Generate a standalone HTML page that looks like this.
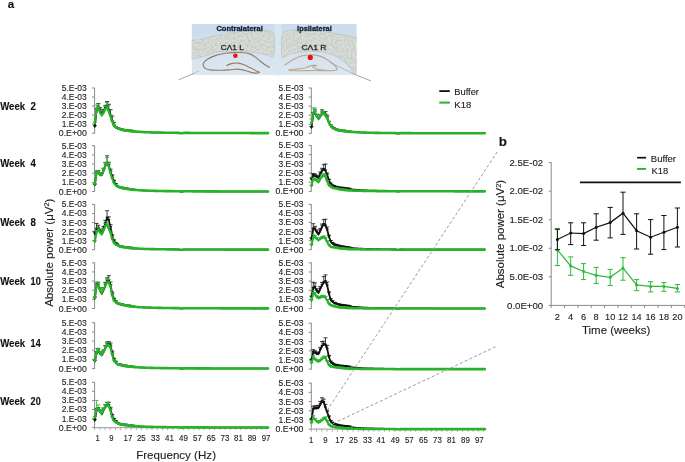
<!DOCTYPE html>
<html><head><meta charset="utf-8"><style>
html,body{margin:0;padding:0;background:#fff;}
svg{display:block;font-family:"Liberation Sans",sans-serif;filter:blur(0.35px);}

</style></head><body>
<svg width="685" height="462" viewBox="0 0 685 462">
<rect width="685" height="462" fill="#fff"/>
<defs><clipPath id="bclip"><rect x="191.6" y="24" width="165.2" height="51.3"/></clipPath><linearGradient id="bgg" x1="0" y1="0" x2="0" y2="1"><stop offset="0" stop-color="#c9dbed"/><stop offset="0.55" stop-color="#d3e2ef"/><stop offset="1" stop-color="#dde8f1"/></linearGradient><filter id="bblur" x="-5%" y="-5%" width="110%" height="110%"><feGaussianBlur stdDeviation="0.4"/></filter><filter id="noise" x="0" y="0" width="100%" height="100%"><feTurbulence type="fractalNoise" baseFrequency="0.45" numOctaves="2" seed="5" result="n"/><feColorMatrix in="n" type="matrix" values="1.0 0 0 0 0.28  1.0 0 0 0 0.3  1.0 0 0 0 0.27  0 0 0 0 0.3" result="m"/><feComposite in="m" in2="SourceGraphic" operator="in" result="c"/><feMerge><feMergeNode in="SourceGraphic"/><feMergeNode in="c"/></feMerge></filter></defs>
<g clip-path="url(#bclip)"><g filter="url(#bblur)">
<rect x="191.6" y="24" width="165.2" height="51.3" fill="url(#bgg)"/>

<rect x="274.5" y="24" width="7" height="52" fill="#d8e6f0"/>
<path filter="url(#noise)" d="M190.00,42.30 C191.67,39.22 195.92,40.85 200.00,39.80 C204.08,38.75 210.00,37.08 214.50,36.00 C219.00,34.92 222.92,34.00 227.00,33.30 C231.08,32.60 235.00,32.18 239.00,31.80 C243.00,31.42 246.90,31.20 251.00,31.00 C255.10,30.80 260.52,30.58 263.60,30.60 C266.68,30.62 267.97,30.78 269.50,31.10 C271.03,31.42 271.98,31.77 272.80,32.50 C273.62,33.23 274.13,33.42 274.40,35.50 C274.67,37.58 274.43,42.08 274.40,45.00 C274.37,47.92 274.40,51.03 274.20,53.00 C274.00,54.97 273.82,56.20 273.20,56.80 C272.58,57.40 271.70,56.93 270.50,56.60 C269.30,56.27 267.70,55.32 266.00,54.80 C264.30,54.28 262.47,53.93 260.30,53.50 C258.13,53.07 255.22,52.50 253.00,52.20 C250.78,51.90 249.17,51.83 247.00,51.70 C244.83,51.57 242.50,51.50 240.00,51.40 C237.50,51.30 234.63,51.12 232.00,51.10 C229.37,51.08 226.53,51.15 224.20,51.30 C221.87,51.45 219.95,51.68 218.00,52.00 C216.05,52.32 214.22,52.67 212.50,53.20 C210.78,53.73 209.62,54.53 207.70,55.20 C205.78,55.87 203.12,56.72 201.00,57.20 C198.88,57.68 196.83,57.92 195.00,58.10 C193.17,58.28 190.83,60.93 190.00,58.30 C189.17,55.67 188.33,45.38 190.00,42.30Z" fill="#c9cfc9" stroke="#a9b1aa" stroke-width="0.6"/>
<path filter="url(#noise)" d="M281.40,40.00 C281.58,37.75 281.68,35.90 282.40,34.50 C283.12,33.10 284.10,32.32 285.70,31.60 C287.30,30.88 289.55,30.50 292.00,30.20 C294.45,29.90 297.07,29.77 300.40,29.80 C303.73,29.83 307.90,30.07 312.00,30.40 C316.10,30.73 321.00,31.27 325.00,31.80 C329.00,32.33 332.33,32.98 336.00,33.60 C339.67,34.22 344.17,34.88 347.00,35.50 C349.83,36.12 351.00,36.58 353.00,37.30 C355.00,38.02 358.00,33.18 359.00,39.80 C360.00,46.42 359.67,70.80 359.00,77.00 C358.33,83.20 356.07,77.83 355.00,77.00 C353.93,76.17 353.37,73.43 352.60,72.00 C351.83,70.57 351.33,69.68 350.40,68.40 C349.47,67.12 348.17,65.47 347.00,64.30 C345.83,63.13 344.82,62.45 343.40,61.40 C341.98,60.35 340.07,58.98 338.50,58.00 C336.93,57.02 335.58,56.25 334.00,55.50 C332.42,54.75 330.55,53.98 329.00,53.50 C327.45,53.02 326.45,52.92 324.70,52.60 C322.95,52.28 320.45,51.80 318.50,51.60 C316.55,51.40 314.92,51.40 313.00,51.40 C311.08,51.40 308.93,51.50 307.00,51.60 C305.07,51.70 303.40,51.77 301.40,52.00 C299.40,52.23 296.95,52.62 295.00,53.00 C293.05,53.38 291.28,53.80 289.70,54.30 C288.12,54.80 286.67,55.45 285.50,56.00 C284.33,56.55 283.37,57.77 282.70,57.60 C282.03,57.43 281.73,56.60 281.50,55.00 C281.27,53.40 281.32,50.50 281.30,48.00 C281.28,45.50 281.22,42.25 281.40,40.00Z" fill="#c9cfc9" stroke="#a9b1aa" stroke-width="0.6"/>
<path d="M269.70,67.40 C269.12,67.10 267.75,66.63 266.20,65.60 C264.65,64.57 262.33,62.70 260.40,61.20 C258.47,59.70 256.35,57.82 254.60,56.60 C252.85,55.38 251.67,54.55 249.90,53.90 C248.13,53.25 246.73,52.92 244.00,52.70 C241.27,52.48 236.60,52.50 233.50,52.60 C230.40,52.70 228.32,52.83 225.40,53.30 C222.48,53.77 218.93,54.45 216.00,55.40 C213.07,56.35 209.90,57.67 207.80,59.00 C205.70,60.33 204.03,62.03 203.40,63.40 C202.77,64.77 203.40,66.22 204.00,67.20 C204.60,68.18 205.58,68.82 207.00,69.30 C208.42,69.78 210.02,69.95 212.50,70.10 C214.98,70.25 218.98,70.27 221.90,70.20 C224.82,70.13 227.65,69.87 230.00,69.70 C232.35,69.53 234.05,69.22 236.00,69.20 C237.95,69.18 239.77,69.27 241.70,69.60 C243.63,69.93 245.65,70.65 247.60,71.20 C249.55,71.75 251.47,72.67 253.40,72.90 C255.33,73.13 258.62,72.88 259.20,72.60 C259.78,72.32 258.45,72.03 256.90,71.20 C255.35,70.37 252.05,68.67 249.90,67.60 C247.75,66.53 245.95,65.55 244.00,64.80 C242.05,64.05 240.13,63.33 238.20,63.10 C236.27,62.87 234.35,62.98 232.40,63.40 C230.45,63.82 227.48,65.23 226.50,65.60" fill="none" stroke="#977b60" stroke-width="1.15"/>
<path d="M284.50,65.20 C285.75,64.37 289.58,61.62 292.00,60.20 C294.42,58.78 296.85,57.52 299.00,56.70 C301.15,55.88 302.57,55.60 304.90,55.30 C307.23,55.00 310.48,54.77 313.00,54.90 C315.52,55.03 317.67,55.32 320.00,56.10 C322.33,56.88 324.85,58.33 327.00,59.60 C329.15,60.87 331.33,62.37 332.90,63.70 C334.47,65.03 335.95,66.52 336.40,67.60 C336.85,68.68 337.33,69.68 335.60,70.20 C333.87,70.72 329.43,70.65 326.00,70.70 C322.57,70.75 318.83,70.50 315.00,70.50 C311.17,70.50 307.00,70.67 303.00,70.70 C299.00,70.73 293.25,70.85 291.00,70.70 C288.75,70.55 288.33,70.10 289.50,69.80 C290.67,69.50 295.42,69.20 298.00,68.90 C300.58,68.60 303.17,68.42 305.00,68.00 C306.83,67.58 307.67,66.83 309.00,66.40 C310.33,65.97 311.75,65.53 313.00,65.40 C314.25,65.27 316.53,65.33 316.50,65.60 C316.47,65.87 312.55,66.38 312.80,67.00 C313.05,67.62 315.80,68.75 318.00,69.30 C320.20,69.85 324.67,70.13 326.00,70.30" fill="none" stroke="#bfa890" stroke-width="1.2"/>
<circle cx="235.4" cy="55.8" r="2.3" fill="#e8141c"/>
<circle cx="310.3" cy="57.4" r="2.6" fill="#ec1018"/>
<line x1="330" y1="62.5" x2="357" y2="75.4" stroke="#9aa6ae" stroke-width="0.7"/>
<line x1="191" y1="74.4" x2="199" y2="71" stroke="#a4b0b8" stroke-width="0.7"/>
<text x="216.4" y="30.6" font-size="6.8" font-weight="bold" fill="#17213a" stroke="#17213a" stroke-width="0.3" textLength="46.4" lengthAdjust="spacingAndGlyphs">Contralateral</text>
<text x="297.1" y="30.5" font-size="6.8" font-weight="bold" fill="#17213a" stroke="#17213a" stroke-width="0.3" textLength="34.6" lengthAdjust="spacingAndGlyphs">Ipsilateral</text>
<text x="220.8" y="49.7" font-size="6.6" fill="#262a2e" stroke="#262a2e" stroke-width="0.28" textLength="23.0" lengthAdjust="spacingAndGlyphs">CΛ1 L</text>
<text x="301.4" y="49.7" font-size="6.6" fill="#262a2e" stroke="#262a2e" stroke-width="0.28" textLength="25.1" lengthAdjust="spacingAndGlyphs">CΛ1 R</text>
</g></g>
<line x1="94.60" y1="87.70" x2="94.60" y2="133.50" stroke="#8a8a8a" stroke-width="1"/>
<line x1="92.00" y1="133.20" x2="94.60" y2="133.20" stroke="#8a8a8a" stroke-width="1"/>
<text x="86.80" y="136.20" font-size="8.5" text-anchor="end" textLength="28.0" lengthAdjust="spacingAndGlyphs" fill="#222" stroke="#222" stroke-width="0.12">0.E+00</text>
<line x1="92.00" y1="124.16" x2="94.60" y2="124.16" stroke="#8a8a8a" stroke-width="1"/>
<text x="86.80" y="127.16" font-size="8.5" text-anchor="end" textLength="25.0" lengthAdjust="spacingAndGlyphs" fill="#222" stroke="#222" stroke-width="0.12">1.E-03</text>
<line x1="92.00" y1="115.12" x2="94.60" y2="115.12" stroke="#8a8a8a" stroke-width="1"/>
<text x="86.80" y="118.12" font-size="8.5" text-anchor="end" textLength="25.0" lengthAdjust="spacingAndGlyphs" fill="#222" stroke="#222" stroke-width="0.12">2.E-03</text>
<line x1="92.00" y1="106.08" x2="94.60" y2="106.08" stroke="#8a8a8a" stroke-width="1"/>
<text x="86.80" y="109.08" font-size="8.5" text-anchor="end" textLength="25.0" lengthAdjust="spacingAndGlyphs" fill="#222" stroke="#222" stroke-width="0.12">3.E-03</text>
<line x1="92.00" y1="97.04" x2="94.60" y2="97.04" stroke="#8a8a8a" stroke-width="1"/>
<text x="86.80" y="100.04" font-size="8.5" text-anchor="end" textLength="25.0" lengthAdjust="spacingAndGlyphs" fill="#222" stroke="#222" stroke-width="0.12">4.E-03</text>
<line x1="92.00" y1="88.00" x2="94.60" y2="88.00" stroke="#8a8a8a" stroke-width="1"/>
<text x="86.80" y="91.00" font-size="8.5" text-anchor="end" textLength="25.0" lengthAdjust="spacingAndGlyphs" fill="#222" stroke="#222" stroke-width="0.12">5.E-03</text>
<polyline points="94.80,126.51 96.55,110.99 98.30,106.70 100.05,110.41 101.80,114.18 103.55,111.80 105.30,108.29 107.05,106.95 108.80,110.65 110.55,115.70 112.30,121.29 114.05,125.52 115.80,127.35 117.55,128.28 119.30,128.95 121.05,129.43 122.80,129.91 124.55,130.29" fill="none" stroke="#111" stroke-width="1.8" stroke-linejoin="round" stroke-linecap="round"/>
<polyline points="121.05,129.43 122.80,129.91 124.55,130.29 126.30,130.50 128.05,130.70 129.80,130.91 131.55,131.13 133.30,131.34 135.05,131.51 136.80,131.66 138.55,131.80 140.30,131.91 142.05,132.02 143.80,132.11 145.55,132.19 147.30,132.26 149.05,132.32 150.80,132.38 152.55,132.43 154.30,132.48 156.05,132.52 157.80,132.56 159.55,132.60 161.30,132.63 163.05,132.66 164.80,132.69 166.55,132.71 168.30,132.74 170.05,132.76 171.80,132.78 173.55,132.80 175.30,132.81 177.05,132.83 178.80,132.85 180.55,133.20 182.30,133.20 184.05,132.88 185.80,132.90 187.55,132.91 189.30,132.92 191.05,132.93 192.80,132.94 194.55,132.94 196.30,132.95 198.05,132.96 199.80,132.97 201.55,132.97 203.30,132.98 205.05,132.99 206.80,132.99 208.55,133.00 210.30,133.00 212.05,133.01 213.80,133.01 215.55,133.02 217.30,133.02 219.05,133.03 220.80,133.03 222.55,133.03 224.30,133.04 226.05,133.04 227.80,133.04 229.55,133.05 231.30,133.05 233.05,133.05 234.80,133.05 236.55,133.06 238.30,133.06 240.05,133.06 241.80,133.06 243.55,133.07 245.30,133.07 247.05,133.07 248.80,133.07 250.55,133.08 252.30,133.08 254.05,133.08 255.80,133.08 257.55,133.08 259.30,133.08 261.05,133.09 262.80,133.09 264.55,133.09 266.30,133.09 268.05,133.09" fill="none" stroke="#111" stroke-width="1.5" stroke-linejoin="round" stroke-linecap="round"/>
<line x1="94.80" y1="126.51" x2="94.80" y2="125.71" stroke="#111" stroke-width="0.8"/>
<line x1="92.80" y1="125.71" x2="96.80" y2="125.71" stroke="#111" stroke-width="0.8"/>
<line x1="96.55" y1="110.99" x2="96.55" y2="108.33" stroke="#111" stroke-width="0.8"/>
<line x1="94.55" y1="108.33" x2="98.55" y2="108.33" stroke="#111" stroke-width="0.8"/>
<line x1="98.30" y1="106.70" x2="98.30" y2="103.52" stroke="#111" stroke-width="0.8"/>
<line x1="96.30" y1="103.52" x2="100.30" y2="103.52" stroke="#111" stroke-width="0.8"/>
<line x1="100.05" y1="110.41" x2="100.05" y2="107.67" stroke="#111" stroke-width="0.8"/>
<line x1="98.05" y1="107.67" x2="102.05" y2="107.67" stroke="#111" stroke-width="0.8"/>
<line x1="101.80" y1="114.18" x2="101.80" y2="111.90" stroke="#111" stroke-width="0.8"/>
<line x1="99.80" y1="111.90" x2="103.80" y2="111.90" stroke="#111" stroke-width="0.8"/>
<line x1="103.55" y1="111.80" x2="103.55" y2="109.24" stroke="#111" stroke-width="0.8"/>
<line x1="101.55" y1="109.24" x2="105.55" y2="109.24" stroke="#111" stroke-width="0.8"/>
<line x1="105.30" y1="108.29" x2="105.30" y2="105.31" stroke="#111" stroke-width="0.8"/>
<line x1="103.30" y1="105.31" x2="107.30" y2="105.31" stroke="#111" stroke-width="0.8"/>
<line x1="107.05" y1="106.95" x2="107.05" y2="101.56" stroke="#111" stroke-width="0.8"/>
<line x1="105.05" y1="101.56" x2="109.05" y2="101.56" stroke="#111" stroke-width="0.8"/>
<line x1="108.80" y1="110.65" x2="108.80" y2="104.27" stroke="#111" stroke-width="0.8"/>
<line x1="106.80" y1="104.27" x2="110.80" y2="104.27" stroke="#111" stroke-width="0.8"/>
<line x1="110.55" y1="115.70" x2="110.55" y2="109.70" stroke="#111" stroke-width="0.8"/>
<line x1="108.55" y1="109.70" x2="112.55" y2="109.70" stroke="#111" stroke-width="0.8"/>
<line x1="112.30" y1="121.29" x2="112.30" y2="116.02" stroke="#111" stroke-width="0.8"/>
<line x1="110.30" y1="116.02" x2="114.30" y2="116.02" stroke="#111" stroke-width="0.8"/>
<line x1="114.05" y1="125.52" x2="114.05" y2="122.35" stroke="#111" stroke-width="0.8"/>
<line x1="112.05" y1="122.35" x2="116.05" y2="122.35" stroke="#111" stroke-width="0.8"/>
<line x1="115.80" y1="127.35" x2="115.80" y2="126.65" stroke="#111" stroke-width="0.8"/>
<line x1="113.80" y1="126.65" x2="117.80" y2="126.65" stroke="#111" stroke-width="0.8"/>
<line x1="117.55" y1="128.28" x2="117.55" y2="127.69" stroke="#111" stroke-width="0.8"/>
<line x1="115.55" y1="127.69" x2="119.55" y2="127.69" stroke="#111" stroke-width="0.8"/>
<path d="M93.10,125.21h3.4l-1.7,2.9z" fill="#111"/>
<path d="M94.85,109.69h3.4l-1.7,2.9z" fill="#111"/>
<path d="M96.60,105.40h3.4l-1.7,2.9z" fill="#111"/>
<path d="M98.35,109.11h3.4l-1.7,2.9z" fill="#111"/>
<path d="M100.10,112.88h3.4l-1.7,2.9z" fill="#111"/>
<path d="M101.85,110.50h3.4l-1.7,2.9z" fill="#111"/>
<path d="M103.60,106.99h3.4l-1.7,2.9z" fill="#111"/>
<path d="M105.35,105.65h3.4l-1.7,2.9z" fill="#111"/>
<path d="M107.10,109.35h3.4l-1.7,2.9z" fill="#111"/>
<path d="M108.85,114.40h3.4l-1.7,2.9z" fill="#111"/>
<path d="M110.60,119.99h3.4l-1.7,2.9z" fill="#111"/>
<path d="M112.35,124.22h3.4l-1.7,2.9z" fill="#111"/>
<path d="M114.10,126.05h3.4l-1.7,2.9z" fill="#111"/>
<path d="M115.85,126.98h3.4l-1.7,2.9z" fill="#111"/>
<path d="M117.60,127.65h3.4l-1.7,2.9z" fill="#111"/>
<path d="M119.35,128.13h3.4l-1.7,2.9z" fill="#111"/>
<path d="M121.10,128.61h3.4l-1.7,2.9z" fill="#111"/>
<path d="M122.85,128.99h3.4l-1.7,2.9z" fill="#111"/>
<path d="M124.60,129.20h3.4l-1.7,2.9z" fill="#111"/>
<path d="M126.35,129.40h3.4l-1.7,2.9z" fill="#111"/>
<path d="M128.10,129.61h3.4l-1.7,2.9z" fill="#111"/>
<path d="M129.85,129.83h3.4l-1.7,2.9z" fill="#111"/>
<path d="M131.60,130.04h3.4l-1.7,2.9z" fill="#111"/>
<polyline points="94.80,123.26 96.55,110.45 98.30,107.10 100.05,112.75 101.80,115.44 103.55,112.98 105.30,109.24 107.05,107.74 108.80,111.56 110.55,116.61 112.30,121.98 114.05,125.74 115.80,127.35 117.55,128.28 119.30,128.95 121.05,129.43 122.80,129.91 124.55,130.29" fill="none" stroke="#27b22a" stroke-width="2.0" stroke-linejoin="round" stroke-linecap="round"/>
<polyline points="121.05,129.43 122.80,129.91 124.55,130.29 126.30,130.50 128.05,130.70 129.80,130.91 131.55,131.13 133.30,131.34 135.05,131.51 136.80,131.66 138.55,131.80 140.30,131.91 142.05,132.02 143.80,132.11 145.55,132.19 147.30,132.26 149.05,132.32 150.80,132.38 152.55,132.43 154.30,132.48 156.05,132.52 157.80,132.56 159.55,132.60 161.30,132.63 163.05,132.66 164.80,132.69 166.55,132.71 168.30,132.74 170.05,132.76 171.80,132.78 173.55,132.80 175.30,132.81 177.05,132.83 178.80,132.85 180.55,133.20 182.30,133.20 184.05,132.88 185.80,132.90 187.55,132.91 189.30,132.92 191.05,132.93 192.80,132.94 194.55,132.94 196.30,132.95 198.05,132.96 199.80,132.97 201.55,132.97 203.30,132.98 205.05,132.99 206.80,132.99 208.55,133.00 210.30,133.00 212.05,133.01 213.80,133.01 215.55,133.02 217.30,133.02 219.05,133.03 220.80,133.03 222.55,133.03 224.30,133.04 226.05,133.04 227.80,133.04 229.55,133.05 231.30,133.05 233.05,133.05 234.80,133.05 236.55,133.06 238.30,133.06 240.05,133.06 241.80,133.06 243.55,133.07 245.30,133.07 247.05,133.07 248.80,133.07 250.55,133.08 252.30,133.08 254.05,133.08 255.80,133.08 257.55,133.08 259.30,133.08 261.05,133.09 262.80,133.09 264.55,133.09 266.30,133.09 268.05,133.09" fill="none" stroke="#27b22a" stroke-width="2.6" stroke-linejoin="round" stroke-linecap="round"/>
<line x1="94.80" y1="123.26" x2="94.80" y2="122.06" stroke="#27b22a" stroke-width="0.8"/>
<line x1="92.80" y1="122.06" x2="96.80" y2="122.06" stroke="#27b22a" stroke-width="0.8"/>
<line x1="96.55" y1="110.45" x2="96.55" y2="105.18" stroke="#27b22a" stroke-width="0.8"/>
<line x1="94.55" y1="105.18" x2="98.55" y2="105.18" stroke="#27b22a" stroke-width="0.8"/>
<line x1="98.30" y1="107.10" x2="98.30" y2="103.96" stroke="#27b22a" stroke-width="0.8"/>
<line x1="96.30" y1="103.96" x2="100.30" y2="103.96" stroke="#27b22a" stroke-width="0.8"/>
<line x1="100.05" y1="112.75" x2="100.05" y2="110.30" stroke="#27b22a" stroke-width="0.8"/>
<line x1="98.05" y1="110.30" x2="102.05" y2="110.30" stroke="#27b22a" stroke-width="0.8"/>
<line x1="101.80" y1="115.44" x2="101.80" y2="113.31" stroke="#27b22a" stroke-width="0.8"/>
<line x1="99.80" y1="113.31" x2="103.80" y2="113.31" stroke="#27b22a" stroke-width="0.8"/>
<line x1="103.55" y1="112.98" x2="103.55" y2="110.55" stroke="#27b22a" stroke-width="0.8"/>
<line x1="101.55" y1="110.55" x2="105.55" y2="110.55" stroke="#27b22a" stroke-width="0.8"/>
<line x1="105.30" y1="109.24" x2="105.30" y2="106.37" stroke="#27b22a" stroke-width="0.8"/>
<line x1="103.30" y1="106.37" x2="107.30" y2="106.37" stroke="#27b22a" stroke-width="0.8"/>
<line x1="107.05" y1="107.74" x2="107.05" y2="102.46" stroke="#27b22a" stroke-width="0.8"/>
<line x1="105.05" y1="102.46" x2="109.05" y2="102.46" stroke="#27b22a" stroke-width="0.8"/>
<line x1="108.80" y1="111.56" x2="108.80" y2="105.18" stroke="#27b22a" stroke-width="0.8"/>
<line x1="106.80" y1="105.18" x2="110.80" y2="105.18" stroke="#27b22a" stroke-width="0.8"/>
<line x1="110.55" y1="116.61" x2="110.55" y2="114.62" stroke="#27b22a" stroke-width="0.8"/>
<line x1="108.55" y1="114.62" x2="112.55" y2="114.62" stroke="#27b22a" stroke-width="0.8"/>
<line x1="112.30" y1="121.98" x2="112.30" y2="120.63" stroke="#27b22a" stroke-width="0.8"/>
<line x1="110.30" y1="120.63" x2="114.30" y2="120.63" stroke="#27b22a" stroke-width="0.8"/>
<line x1="114.05" y1="125.74" x2="114.05" y2="124.85" stroke="#27b22a" stroke-width="0.8"/>
<line x1="112.05" y1="124.85" x2="116.05" y2="124.85" stroke="#27b22a" stroke-width="0.8"/>
<line x1="115.80" y1="127.35" x2="115.80" y2="126.65" stroke="#27b22a" stroke-width="0.8"/>
<line x1="113.80" y1="126.65" x2="117.80" y2="126.65" stroke="#27b22a" stroke-width="0.8"/>
<line x1="117.55" y1="128.28" x2="117.55" y2="127.69" stroke="#27b22a" stroke-width="0.8"/>
<line x1="115.55" y1="127.69" x2="119.55" y2="127.69" stroke="#27b22a" stroke-width="0.8"/>
<path d="M93.10,121.96h3.4l-1.7,2.9z" fill="#27b22a"/>
<path d="M94.85,109.15h3.4l-1.7,2.9z" fill="#27b22a"/>
<path d="M96.60,105.80h3.4l-1.7,2.9z" fill="#27b22a"/>
<path d="M98.35,111.45h3.4l-1.7,2.9z" fill="#27b22a"/>
<path d="M100.10,114.14h3.4l-1.7,2.9z" fill="#27b22a"/>
<path d="M101.85,111.68h3.4l-1.7,2.9z" fill="#27b22a"/>
<path d="M103.60,107.94h3.4l-1.7,2.9z" fill="#27b22a"/>
<path d="M105.35,106.44h3.4l-1.7,2.9z" fill="#27b22a"/>
<path d="M107.10,110.26h3.4l-1.7,2.9z" fill="#27b22a"/>
<path d="M108.85,115.31h3.4l-1.7,2.9z" fill="#27b22a"/>
<path d="M110.60,120.68h3.4l-1.7,2.9z" fill="#27b22a"/>
<path d="M112.35,124.44h3.4l-1.7,2.9z" fill="#27b22a"/>
<path d="M114.10,126.05h3.4l-1.7,2.9z" fill="#27b22a"/>
<path d="M115.85,126.98h3.4l-1.7,2.9z" fill="#27b22a"/>
<path d="M117.60,127.65h3.4l-1.7,2.9z" fill="#27b22a"/>
<path d="M119.35,128.13h3.4l-1.7,2.9z" fill="#27b22a"/>
<path d="M121.10,128.61h3.4l-1.7,2.9z" fill="#27b22a"/>
<path d="M122.85,128.99h3.4l-1.7,2.9z" fill="#27b22a"/>
<path d="M124.60,129.20h3.4l-1.7,2.9z" fill="#27b22a"/>
<path d="M126.35,129.40h3.4l-1.7,2.9z" fill="#27b22a"/>
<path d="M128.10,129.61h3.4l-1.7,2.9z" fill="#27b22a"/>
<path d="M129.85,129.83h3.4l-1.7,2.9z" fill="#27b22a"/>
<path d="M131.60,130.04h3.4l-1.7,2.9z" fill="#27b22a"/>
<line x1="311.30" y1="87.70" x2="311.30" y2="133.70" stroke="#8a8a8a" stroke-width="1"/>
<line x1="308.70" y1="133.40" x2="311.30" y2="133.40" stroke="#8a8a8a" stroke-width="1"/>
<text x="303.50" y="136.40" font-size="8.5" text-anchor="end" textLength="28.0" lengthAdjust="spacingAndGlyphs" fill="#222" stroke="#222" stroke-width="0.12">0.E+00</text>
<line x1="308.70" y1="124.32" x2="311.30" y2="124.32" stroke="#8a8a8a" stroke-width="1"/>
<text x="303.50" y="127.32" font-size="8.5" text-anchor="end" textLength="25.0" lengthAdjust="spacingAndGlyphs" fill="#222" stroke="#222" stroke-width="0.12">1.E-03</text>
<line x1="308.70" y1="115.24" x2="311.30" y2="115.24" stroke="#8a8a8a" stroke-width="1"/>
<text x="303.50" y="118.24" font-size="8.5" text-anchor="end" textLength="25.0" lengthAdjust="spacingAndGlyphs" fill="#222" stroke="#222" stroke-width="0.12">2.E-03</text>
<line x1="308.70" y1="106.16" x2="311.30" y2="106.16" stroke="#8a8a8a" stroke-width="1"/>
<text x="303.50" y="109.16" font-size="8.5" text-anchor="end" textLength="25.0" lengthAdjust="spacingAndGlyphs" fill="#222" stroke="#222" stroke-width="0.12">3.E-03</text>
<line x1="308.70" y1="97.08" x2="311.30" y2="97.08" stroke="#8a8a8a" stroke-width="1"/>
<text x="303.50" y="100.08" font-size="8.5" text-anchor="end" textLength="25.0" lengthAdjust="spacingAndGlyphs" fill="#222" stroke="#222" stroke-width="0.12">4.E-03</text>
<line x1="308.70" y1="88.00" x2="311.30" y2="88.00" stroke="#8a8a8a" stroke-width="1"/>
<text x="303.50" y="91.00" font-size="8.5" text-anchor="end" textLength="25.0" lengthAdjust="spacingAndGlyphs" fill="#222" stroke="#222" stroke-width="0.12">5.E-03</text>
<polyline points="311.50,127.41 313.25,114.62 315.00,112.46 316.75,116.32 318.50,118.83 320.25,116.55 322.00,113.78 323.75,113.69 325.50,115.54 327.25,118.25 329.00,122.66 330.75,125.93 332.50,127.86 334.25,128.74 336.00,129.63 337.75,130.04 339.50,130.43 341.25,130.75" fill="none" stroke="#111" stroke-width="1.8" stroke-linejoin="round" stroke-linecap="round"/>
<polyline points="337.75,130.04 339.50,130.43 341.25,130.75 343.00,130.96 344.75,131.16 346.50,131.37 348.25,131.57 350.00,131.75 351.75,131.91 353.50,132.04 355.25,132.16 357.00,132.26 358.75,132.35 360.50,132.43 362.25,132.50 364.00,132.57 365.75,132.62 367.50,132.68 369.25,132.72 371.00,132.76 372.75,132.80 374.50,132.84 376.25,132.87 378.00,132.90 379.75,132.92 381.50,132.95 383.25,132.97 385.00,132.99 386.75,133.01 388.50,133.03 390.25,133.04 392.00,133.06 393.75,133.07 395.50,133.09 397.25,133.40 399.00,133.40 400.75,133.12 402.50,133.13 404.25,133.14 406.00,133.15 407.75,133.16 409.50,133.17 411.25,133.17 413.00,133.18 414.75,133.19 416.50,133.19 418.25,133.20 420.00,133.21 421.75,133.21 423.50,133.22 425.25,133.22 427.00,133.23 428.75,133.23 430.50,133.23 432.25,133.24 434.00,133.24 435.75,133.25 437.50,133.25 439.25,133.25 441.00,133.26 442.75,133.26 444.50,133.26 446.25,133.26 448.00,133.27 449.75,133.27 451.50,133.27 453.25,133.27 455.00,133.28 456.75,133.28 458.50,133.28 460.25,133.28 462.00,133.28 463.75,133.29 465.50,133.29 467.25,133.29 469.00,133.29 470.75,133.29 472.50,133.29 474.25,133.30 476.00,133.30 477.75,133.30 479.50,133.30 481.25,133.30 483.00,133.30 484.75,133.30" fill="none" stroke="#111" stroke-width="1.5" stroke-linejoin="round" stroke-linecap="round"/>
<line x1="311.50" y1="127.41" x2="311.50" y2="126.69" stroke="#111" stroke-width="0.8"/>
<line x1="309.50" y1="126.69" x2="313.50" y2="126.69" stroke="#111" stroke-width="0.8"/>
<line x1="313.25" y1="114.62" x2="313.25" y2="112.37" stroke="#111" stroke-width="0.8"/>
<line x1="311.25" y1="112.37" x2="315.25" y2="112.37" stroke="#111" stroke-width="0.8"/>
<line x1="315.00" y1="112.46" x2="315.00" y2="109.95" stroke="#111" stroke-width="0.8"/>
<line x1="313.00" y1="109.95" x2="317.00" y2="109.95" stroke="#111" stroke-width="0.8"/>
<line x1="316.75" y1="116.32" x2="316.75" y2="114.28" stroke="#111" stroke-width="0.8"/>
<line x1="314.75" y1="114.28" x2="318.75" y2="114.28" stroke="#111" stroke-width="0.8"/>
<line x1="318.50" y1="118.83" x2="318.50" y2="117.08" stroke="#111" stroke-width="0.8"/>
<line x1="316.50" y1="117.08" x2="320.50" y2="117.08" stroke="#111" stroke-width="0.8"/>
<line x1="320.25" y1="116.55" x2="320.25" y2="114.53" stroke="#111" stroke-width="0.8"/>
<line x1="318.25" y1="114.53" x2="322.25" y2="114.53" stroke="#111" stroke-width="0.8"/>
<line x1="322.00" y1="113.78" x2="322.00" y2="109.79" stroke="#111" stroke-width="0.8"/>
<line x1="320.00" y1="109.79" x2="324.00" y2="109.79" stroke="#111" stroke-width="0.8"/>
<line x1="323.75" y1="113.69" x2="323.75" y2="111.33" stroke="#111" stroke-width="0.8"/>
<line x1="321.75" y1="111.33" x2="325.75" y2="111.33" stroke="#111" stroke-width="0.8"/>
<line x1="325.50" y1="115.54" x2="325.50" y2="111.61" stroke="#111" stroke-width="0.8"/>
<line x1="323.50" y1="111.61" x2="327.50" y2="111.61" stroke="#111" stroke-width="0.8"/>
<line x1="327.25" y1="118.25" x2="327.25" y2="115.24" stroke="#111" stroke-width="0.8"/>
<line x1="325.25" y1="115.24" x2="329.25" y2="115.24" stroke="#111" stroke-width="0.8"/>
<line x1="329.00" y1="122.66" x2="329.00" y2="121.37" stroke="#111" stroke-width="0.8"/>
<line x1="327.00" y1="121.37" x2="331.00" y2="121.37" stroke="#111" stroke-width="0.8"/>
<line x1="330.75" y1="125.93" x2="330.75" y2="125.03" stroke="#111" stroke-width="0.8"/>
<line x1="328.75" y1="125.03" x2="332.75" y2="125.03" stroke="#111" stroke-width="0.8"/>
<line x1="332.50" y1="127.86" x2="332.50" y2="127.20" stroke="#111" stroke-width="0.8"/>
<line x1="330.50" y1="127.20" x2="334.50" y2="127.20" stroke="#111" stroke-width="0.8"/>
<line x1="334.25" y1="128.74" x2="334.25" y2="128.19" stroke="#111" stroke-width="0.8"/>
<line x1="332.25" y1="128.19" x2="336.25" y2="128.19" stroke="#111" stroke-width="0.8"/>
<path d="M309.80,126.11h3.4l-1.7,2.9z" fill="#111"/>
<path d="M311.55,113.32h3.4l-1.7,2.9z" fill="#111"/>
<path d="M313.30,111.16h3.4l-1.7,2.9z" fill="#111"/>
<path d="M315.05,115.02h3.4l-1.7,2.9z" fill="#111"/>
<path d="M316.80,117.53h3.4l-1.7,2.9z" fill="#111"/>
<path d="M318.55,115.25h3.4l-1.7,2.9z" fill="#111"/>
<path d="M320.30,112.48h3.4l-1.7,2.9z" fill="#111"/>
<path d="M322.05,112.39h3.4l-1.7,2.9z" fill="#111"/>
<path d="M323.80,114.24h3.4l-1.7,2.9z" fill="#111"/>
<path d="M325.55,116.95h3.4l-1.7,2.9z" fill="#111"/>
<path d="M327.30,121.36h3.4l-1.7,2.9z" fill="#111"/>
<path d="M329.05,124.63h3.4l-1.7,2.9z" fill="#111"/>
<path d="M330.80,126.56h3.4l-1.7,2.9z" fill="#111"/>
<path d="M332.55,127.44h3.4l-1.7,2.9z" fill="#111"/>
<path d="M334.30,128.33h3.4l-1.7,2.9z" fill="#111"/>
<path d="M336.05,128.74h3.4l-1.7,2.9z" fill="#111"/>
<path d="M337.80,129.13h3.4l-1.7,2.9z" fill="#111"/>
<path d="M339.55,129.45h3.4l-1.7,2.9z" fill="#111"/>
<path d="M341.30,129.66h3.4l-1.7,2.9z" fill="#111"/>
<path d="M343.05,129.86h3.4l-1.7,2.9z" fill="#111"/>
<path d="M344.80,130.07h3.4l-1.7,2.9z" fill="#111"/>
<path d="M346.55,130.27h3.4l-1.7,2.9z" fill="#111"/>
<path d="M348.30,130.45h3.4l-1.7,2.9z" fill="#111"/>
<polyline points="311.50,123.41 313.25,113.58 315.00,112.16 316.75,116.30 318.50,118.74 320.25,116.53 322.00,113.90 323.75,113.92 325.50,115.75 327.25,118.34 329.00,122.67 330.75,125.93 332.50,127.86 334.25,128.74 336.00,129.63 337.75,130.04 339.50,130.43 341.25,130.75" fill="none" stroke="#27b22a" stroke-width="2.0" stroke-linejoin="round" stroke-linecap="round"/>
<polyline points="337.75,130.04 339.50,130.43 341.25,130.75 343.00,130.96 344.75,131.16 346.50,131.37 348.25,131.57 350.00,131.75 351.75,131.91 353.50,132.04 355.25,132.16 357.00,132.26 358.75,132.35 360.50,132.43 362.25,132.50 364.00,132.57 365.75,132.62 367.50,132.68 369.25,132.72 371.00,132.76 372.75,132.80 374.50,132.84 376.25,132.87 378.00,132.90 379.75,132.92 381.50,132.95 383.25,132.97 385.00,132.99 386.75,133.01 388.50,133.03 390.25,133.04 392.00,133.06 393.75,133.07 395.50,133.09 397.25,133.40 399.00,133.40 400.75,133.12 402.50,133.13 404.25,133.14 406.00,133.15 407.75,133.16 409.50,133.17 411.25,133.17 413.00,133.18 414.75,133.19 416.50,133.19 418.25,133.20 420.00,133.21 421.75,133.21 423.50,133.22 425.25,133.22 427.00,133.23 428.75,133.23 430.50,133.23 432.25,133.24 434.00,133.24 435.75,133.25 437.50,133.25 439.25,133.25 441.00,133.26 442.75,133.26 444.50,133.26 446.25,133.26 448.00,133.27 449.75,133.27 451.50,133.27 453.25,133.27 455.00,133.28 456.75,133.28 458.50,133.28 460.25,133.28 462.00,133.28 463.75,133.29 465.50,133.29 467.25,133.29 469.00,133.29 470.75,133.29 472.50,133.29 474.25,133.30 476.00,133.30 477.75,133.30 479.50,133.30 481.25,133.30 483.00,133.30 484.75,133.30" fill="none" stroke="#27b22a" stroke-width="2.6" stroke-linejoin="round" stroke-linecap="round"/>
<line x1="311.50" y1="123.41" x2="311.50" y2="118.87" stroke="#27b22a" stroke-width="0.8"/>
<line x1="309.50" y1="118.87" x2="313.50" y2="118.87" stroke="#27b22a" stroke-width="0.8"/>
<line x1="313.25" y1="113.58" x2="313.25" y2="107.98" stroke="#27b22a" stroke-width="0.8"/>
<line x1="311.25" y1="107.98" x2="315.25" y2="107.98" stroke="#27b22a" stroke-width="0.8"/>
<line x1="315.00" y1="112.16" x2="315.00" y2="107.98" stroke="#27b22a" stroke-width="0.8"/>
<line x1="313.00" y1="107.98" x2="317.00" y2="107.98" stroke="#27b22a" stroke-width="0.8"/>
<line x1="316.75" y1="116.30" x2="316.75" y2="114.25" stroke="#27b22a" stroke-width="0.8"/>
<line x1="314.75" y1="114.25" x2="318.75" y2="114.25" stroke="#27b22a" stroke-width="0.8"/>
<line x1="318.50" y1="118.74" x2="318.50" y2="116.99" stroke="#27b22a" stroke-width="0.8"/>
<line x1="316.50" y1="116.99" x2="320.50" y2="116.99" stroke="#27b22a" stroke-width="0.8"/>
<line x1="320.25" y1="116.53" x2="320.25" y2="114.50" stroke="#27b22a" stroke-width="0.8"/>
<line x1="318.25" y1="114.50" x2="322.25" y2="114.50" stroke="#27b22a" stroke-width="0.8"/>
<line x1="322.00" y1="113.90" x2="322.00" y2="111.56" stroke="#27b22a" stroke-width="0.8"/>
<line x1="320.00" y1="111.56" x2="324.00" y2="111.56" stroke="#27b22a" stroke-width="0.8"/>
<line x1="323.75" y1="113.92" x2="323.75" y2="111.58" stroke="#27b22a" stroke-width="0.8"/>
<line x1="321.75" y1="111.58" x2="325.75" y2="111.58" stroke="#27b22a" stroke-width="0.8"/>
<line x1="325.50" y1="115.75" x2="325.50" y2="113.64" stroke="#27b22a" stroke-width="0.8"/>
<line x1="323.50" y1="113.64" x2="327.50" y2="113.64" stroke="#27b22a" stroke-width="0.8"/>
<line x1="327.25" y1="118.34" x2="327.25" y2="116.53" stroke="#27b22a" stroke-width="0.8"/>
<line x1="325.25" y1="116.53" x2="329.25" y2="116.53" stroke="#27b22a" stroke-width="0.8"/>
<line x1="329.00" y1="122.67" x2="329.00" y2="121.38" stroke="#27b22a" stroke-width="0.8"/>
<line x1="327.00" y1="121.38" x2="331.00" y2="121.38" stroke="#27b22a" stroke-width="0.8"/>
<line x1="330.75" y1="125.93" x2="330.75" y2="125.03" stroke="#27b22a" stroke-width="0.8"/>
<line x1="328.75" y1="125.03" x2="332.75" y2="125.03" stroke="#27b22a" stroke-width="0.8"/>
<line x1="332.50" y1="127.86" x2="332.50" y2="127.20" stroke="#27b22a" stroke-width="0.8"/>
<line x1="330.50" y1="127.20" x2="334.50" y2="127.20" stroke="#27b22a" stroke-width="0.8"/>
<line x1="334.25" y1="128.74" x2="334.25" y2="128.19" stroke="#27b22a" stroke-width="0.8"/>
<line x1="332.25" y1="128.19" x2="336.25" y2="128.19" stroke="#27b22a" stroke-width="0.8"/>
<path d="M309.80,122.11h3.4l-1.7,2.9z" fill="#27b22a"/>
<path d="M311.55,112.28h3.4l-1.7,2.9z" fill="#27b22a"/>
<path d="M313.30,110.86h3.4l-1.7,2.9z" fill="#27b22a"/>
<path d="M315.05,115.00h3.4l-1.7,2.9z" fill="#27b22a"/>
<path d="M316.80,117.44h3.4l-1.7,2.9z" fill="#27b22a"/>
<path d="M318.55,115.23h3.4l-1.7,2.9z" fill="#27b22a"/>
<path d="M320.30,112.60h3.4l-1.7,2.9z" fill="#27b22a"/>
<path d="M322.05,112.62h3.4l-1.7,2.9z" fill="#27b22a"/>
<path d="M323.80,114.45h3.4l-1.7,2.9z" fill="#27b22a"/>
<path d="M325.55,117.04h3.4l-1.7,2.9z" fill="#27b22a"/>
<path d="M327.30,121.37h3.4l-1.7,2.9z" fill="#27b22a"/>
<path d="M329.05,124.63h3.4l-1.7,2.9z" fill="#27b22a"/>
<path d="M330.80,126.56h3.4l-1.7,2.9z" fill="#27b22a"/>
<path d="M332.55,127.44h3.4l-1.7,2.9z" fill="#27b22a"/>
<path d="M334.30,128.33h3.4l-1.7,2.9z" fill="#27b22a"/>
<path d="M336.05,128.74h3.4l-1.7,2.9z" fill="#27b22a"/>
<path d="M337.80,129.13h3.4l-1.7,2.9z" fill="#27b22a"/>
<path d="M339.55,129.45h3.4l-1.7,2.9z" fill="#27b22a"/>
<path d="M341.30,129.66h3.4l-1.7,2.9z" fill="#27b22a"/>
<path d="M343.05,129.86h3.4l-1.7,2.9z" fill="#27b22a"/>
<path d="M344.80,130.07h3.4l-1.7,2.9z" fill="#27b22a"/>
<path d="M346.55,130.27h3.4l-1.7,2.9z" fill="#27b22a"/>
<path d="M348.30,130.45h3.4l-1.7,2.9z" fill="#27b22a"/>
<line x1="94.60" y1="145.40" x2="94.60" y2="191.90" stroke="#8a8a8a" stroke-width="1"/>
<line x1="92.00" y1="191.60" x2="94.60" y2="191.60" stroke="#8a8a8a" stroke-width="1"/>
<text x="86.80" y="194.60" font-size="8.5" text-anchor="end" textLength="28.0" lengthAdjust="spacingAndGlyphs" fill="#222" stroke="#222" stroke-width="0.12">0.E+00</text>
<line x1="92.00" y1="182.42" x2="94.60" y2="182.42" stroke="#8a8a8a" stroke-width="1"/>
<text x="86.80" y="185.42" font-size="8.5" text-anchor="end" textLength="25.0" lengthAdjust="spacingAndGlyphs" fill="#222" stroke="#222" stroke-width="0.12">1.E-03</text>
<line x1="92.00" y1="173.24" x2="94.60" y2="173.24" stroke="#8a8a8a" stroke-width="1"/>
<text x="86.80" y="176.24" font-size="8.5" text-anchor="end" textLength="25.0" lengthAdjust="spacingAndGlyphs" fill="#222" stroke="#222" stroke-width="0.12">2.E-03</text>
<line x1="92.00" y1="164.06" x2="94.60" y2="164.06" stroke="#8a8a8a" stroke-width="1"/>
<text x="86.80" y="167.06" font-size="8.5" text-anchor="end" textLength="25.0" lengthAdjust="spacingAndGlyphs" fill="#222" stroke="#222" stroke-width="0.12">3.E-03</text>
<line x1="92.00" y1="154.88" x2="94.60" y2="154.88" stroke="#8a8a8a" stroke-width="1"/>
<text x="86.80" y="157.88" font-size="8.5" text-anchor="end" textLength="25.0" lengthAdjust="spacingAndGlyphs" fill="#222" stroke="#222" stroke-width="0.12">4.E-03</text>
<line x1="92.00" y1="145.70" x2="94.60" y2="145.70" stroke="#8a8a8a" stroke-width="1"/>
<text x="86.80" y="148.70" font-size="8.5" text-anchor="end" textLength="25.0" lengthAdjust="spacingAndGlyphs" fill="#222" stroke="#222" stroke-width="0.12">5.E-03</text>
<polyline points="94.80,184.99 96.55,173.34 98.30,172.73 100.05,174.86 101.80,174.99 103.55,170.77 105.30,165.86 107.05,163.21 108.80,165.55 110.55,171.55 112.30,176.74 114.05,181.47 115.80,184.55 117.55,186.76 119.30,187.21 121.05,187.66 122.80,188.10 124.55,188.48" fill="none" stroke="#111" stroke-width="1.8" stroke-linejoin="round" stroke-linecap="round"/>
<polyline points="121.05,187.66 122.80,188.10 124.55,188.48 126.30,188.74 128.05,189.00 129.80,189.26 131.55,189.50 133.30,189.71 135.05,189.89 136.80,190.04 138.55,190.18 140.30,190.29 142.05,190.40 143.80,190.49 145.55,190.57 147.30,190.64 149.05,190.71 150.80,190.77 152.55,190.82 154.30,190.87 156.05,190.91 157.80,190.95 159.55,190.99 161.30,191.02 163.05,191.05 164.80,191.08 166.55,191.11 168.30,191.13 170.05,191.15 171.80,191.17 173.55,191.19 175.30,191.21 177.05,191.22 178.80,191.24 180.55,191.60 182.30,191.60 184.05,191.28 185.80,191.29 187.55,191.30 189.30,191.31 191.05,191.32 192.80,191.33 194.55,191.34 196.30,191.35 198.05,191.36 199.80,191.36 201.55,191.37 203.30,191.38 205.05,191.38 206.80,191.39 208.55,191.39 210.30,191.40 212.05,191.40 213.80,191.41 215.55,191.41 217.30,191.42 219.05,191.42 220.80,191.43 222.55,191.43 224.30,191.43 226.05,191.44 227.80,191.44 229.55,191.44 231.30,191.45 233.05,191.45 234.80,191.45 236.55,191.46 238.30,191.46 240.05,191.46 241.80,191.46 243.55,191.46 245.30,191.47 247.05,191.47 248.80,191.47 250.55,191.47 252.30,191.48 254.05,191.48 255.80,191.48 257.55,191.48 259.30,191.48 261.05,191.48 262.80,191.49 264.55,191.49 266.30,191.49 268.05,191.49" fill="none" stroke="#111" stroke-width="1.5" stroke-linejoin="round" stroke-linecap="round"/>
<line x1="94.80" y1="184.99" x2="94.80" y2="184.20" stroke="#111" stroke-width="0.8"/>
<line x1="92.80" y1="184.20" x2="96.80" y2="184.20" stroke="#111" stroke-width="0.8"/>
<line x1="96.55" y1="173.34" x2="96.55" y2="171.15" stroke="#111" stroke-width="0.8"/>
<line x1="94.55" y1="171.15" x2="98.55" y2="171.15" stroke="#111" stroke-width="0.8"/>
<line x1="98.30" y1="172.73" x2="98.30" y2="170.46" stroke="#111" stroke-width="0.8"/>
<line x1="96.30" y1="170.46" x2="100.30" y2="170.46" stroke="#111" stroke-width="0.8"/>
<line x1="100.05" y1="174.86" x2="100.05" y2="172.85" stroke="#111" stroke-width="0.8"/>
<line x1="98.05" y1="172.85" x2="102.05" y2="172.85" stroke="#111" stroke-width="0.8"/>
<line x1="101.80" y1="174.99" x2="101.80" y2="173.00" stroke="#111" stroke-width="0.8"/>
<line x1="99.80" y1="173.00" x2="103.80" y2="173.00" stroke="#111" stroke-width="0.8"/>
<line x1="103.55" y1="170.77" x2="103.55" y2="168.27" stroke="#111" stroke-width="0.8"/>
<line x1="101.55" y1="168.27" x2="105.55" y2="168.27" stroke="#111" stroke-width="0.8"/>
<line x1="105.30" y1="165.86" x2="105.30" y2="162.77" stroke="#111" stroke-width="0.8"/>
<line x1="103.30" y1="162.77" x2="107.30" y2="162.77" stroke="#111" stroke-width="0.8"/>
<line x1="107.05" y1="163.21" x2="107.05" y2="155.80" stroke="#111" stroke-width="0.8"/>
<line x1="105.05" y1="155.80" x2="109.05" y2="155.80" stroke="#111" stroke-width="0.8"/>
<line x1="108.80" y1="165.55" x2="108.80" y2="162.22" stroke="#111" stroke-width="0.8"/>
<line x1="106.80" y1="162.22" x2="110.80" y2="162.22" stroke="#111" stroke-width="0.8"/>
<line x1="110.55" y1="171.55" x2="110.55" y2="169.14" stroke="#111" stroke-width="0.8"/>
<line x1="108.55" y1="169.14" x2="112.55" y2="169.14" stroke="#111" stroke-width="0.8"/>
<line x1="112.30" y1="176.74" x2="112.30" y2="174.96" stroke="#111" stroke-width="0.8"/>
<line x1="110.30" y1="174.96" x2="114.30" y2="174.96" stroke="#111" stroke-width="0.8"/>
<line x1="114.05" y1="181.47" x2="114.05" y2="180.25" stroke="#111" stroke-width="0.8"/>
<line x1="112.05" y1="180.25" x2="116.05" y2="180.25" stroke="#111" stroke-width="0.8"/>
<line x1="115.80" y1="184.55" x2="115.80" y2="183.71" stroke="#111" stroke-width="0.8"/>
<line x1="113.80" y1="183.71" x2="117.80" y2="183.71" stroke="#111" stroke-width="0.8"/>
<line x1="117.55" y1="186.76" x2="117.55" y2="186.18" stroke="#111" stroke-width="0.8"/>
<line x1="115.55" y1="186.18" x2="119.55" y2="186.18" stroke="#111" stroke-width="0.8"/>
<path d="M93.10,183.69h3.4l-1.7,2.9z" fill="#111"/>
<path d="M94.85,172.04h3.4l-1.7,2.9z" fill="#111"/>
<path d="M96.60,171.43h3.4l-1.7,2.9z" fill="#111"/>
<path d="M98.35,173.56h3.4l-1.7,2.9z" fill="#111"/>
<path d="M100.10,173.69h3.4l-1.7,2.9z" fill="#111"/>
<path d="M101.85,169.47h3.4l-1.7,2.9z" fill="#111"/>
<path d="M103.60,164.56h3.4l-1.7,2.9z" fill="#111"/>
<path d="M105.35,161.91h3.4l-1.7,2.9z" fill="#111"/>
<path d="M107.10,164.25h3.4l-1.7,2.9z" fill="#111"/>
<path d="M108.85,170.25h3.4l-1.7,2.9z" fill="#111"/>
<path d="M110.60,175.44h3.4l-1.7,2.9z" fill="#111"/>
<path d="M112.35,180.17h3.4l-1.7,2.9z" fill="#111"/>
<path d="M114.10,183.25h3.4l-1.7,2.9z" fill="#111"/>
<path d="M115.85,185.46h3.4l-1.7,2.9z" fill="#111"/>
<path d="M117.60,185.91h3.4l-1.7,2.9z" fill="#111"/>
<path d="M119.35,186.36h3.4l-1.7,2.9z" fill="#111"/>
<path d="M121.10,186.80h3.4l-1.7,2.9z" fill="#111"/>
<path d="M122.85,187.18h3.4l-1.7,2.9z" fill="#111"/>
<path d="M124.60,187.44h3.4l-1.7,2.9z" fill="#111"/>
<path d="M126.35,187.70h3.4l-1.7,2.9z" fill="#111"/>
<path d="M128.10,187.96h3.4l-1.7,2.9z" fill="#111"/>
<path d="M129.85,188.20h3.4l-1.7,2.9z" fill="#111"/>
<path d="M131.60,188.41h3.4l-1.7,2.9z" fill="#111"/>
<polyline points="94.80,184.26 96.55,173.10 98.30,172.73 100.05,174.81 101.80,174.78 103.55,170.90 105.30,166.20 107.05,163.25 108.80,166.90 110.55,173.56 112.30,178.86 114.05,183.19 115.80,185.32 117.55,186.76 119.30,187.21 121.05,187.66 122.80,188.10 124.55,188.48" fill="none" stroke="#27b22a" stroke-width="2.0" stroke-linejoin="round" stroke-linecap="round"/>
<polyline points="121.05,187.66 122.80,188.10 124.55,188.48 126.30,188.74 128.05,189.00 129.80,189.26 131.55,189.50 133.30,189.71 135.05,189.89 136.80,190.04 138.55,190.18 140.30,190.29 142.05,190.40 143.80,190.49 145.55,190.57 147.30,190.64 149.05,190.71 150.80,190.77 152.55,190.82 154.30,190.87 156.05,190.91 157.80,190.95 159.55,190.99 161.30,191.02 163.05,191.05 164.80,191.08 166.55,191.11 168.30,191.13 170.05,191.15 171.80,191.17 173.55,191.19 175.30,191.21 177.05,191.22 178.80,191.24 180.55,191.60 182.30,191.60 184.05,191.28 185.80,191.29 187.55,191.30 189.30,191.31 191.05,191.32 192.80,191.33 194.55,191.34 196.30,191.35 198.05,191.36 199.80,191.36 201.55,191.37 203.30,191.38 205.05,191.38 206.80,191.39 208.55,191.39 210.30,191.40 212.05,191.40 213.80,191.41 215.55,191.41 217.30,191.42 219.05,191.42 220.80,191.43 222.55,191.43 224.30,191.43 226.05,191.44 227.80,191.44 229.55,191.44 231.30,191.45 233.05,191.45 234.80,191.45 236.55,191.46 238.30,191.46 240.05,191.46 241.80,191.46 243.55,191.46 245.30,191.47 247.05,191.47 248.80,191.47 250.55,191.47 252.30,191.48 254.05,191.48 255.80,191.48 257.55,191.48 259.30,191.48 261.05,191.48 262.80,191.49 264.55,191.49 266.30,191.49 268.05,191.49" fill="none" stroke="#27b22a" stroke-width="2.6" stroke-linejoin="round" stroke-linecap="round"/>
<line x1="94.80" y1="184.26" x2="94.80" y2="183.37" stroke="#27b22a" stroke-width="0.8"/>
<line x1="92.80" y1="183.37" x2="96.80" y2="183.37" stroke="#27b22a" stroke-width="0.8"/>
<line x1="96.55" y1="173.10" x2="96.55" y2="170.89" stroke="#27b22a" stroke-width="0.8"/>
<line x1="94.55" y1="170.89" x2="98.55" y2="170.89" stroke="#27b22a" stroke-width="0.8"/>
<line x1="98.30" y1="172.73" x2="98.30" y2="170.46" stroke="#27b22a" stroke-width="0.8"/>
<line x1="96.30" y1="170.46" x2="100.30" y2="170.46" stroke="#27b22a" stroke-width="0.8"/>
<line x1="100.05" y1="174.81" x2="100.05" y2="172.79" stroke="#27b22a" stroke-width="0.8"/>
<line x1="98.05" y1="172.79" x2="102.05" y2="172.79" stroke="#27b22a" stroke-width="0.8"/>
<line x1="101.80" y1="174.78" x2="101.80" y2="172.76" stroke="#27b22a" stroke-width="0.8"/>
<line x1="99.80" y1="172.76" x2="103.80" y2="172.76" stroke="#27b22a" stroke-width="0.8"/>
<line x1="103.55" y1="170.90" x2="103.55" y2="168.42" stroke="#27b22a" stroke-width="0.8"/>
<line x1="101.55" y1="168.42" x2="105.55" y2="168.42" stroke="#27b22a" stroke-width="0.8"/>
<line x1="105.30" y1="166.20" x2="105.30" y2="162.22" stroke="#27b22a" stroke-width="0.8"/>
<line x1="103.30" y1="162.22" x2="107.30" y2="162.22" stroke="#27b22a" stroke-width="0.8"/>
<line x1="107.05" y1="163.25" x2="107.05" y2="157.63" stroke="#27b22a" stroke-width="0.8"/>
<line x1="105.05" y1="157.63" x2="109.05" y2="157.63" stroke="#27b22a" stroke-width="0.8"/>
<line x1="108.80" y1="166.90" x2="108.80" y2="163.93" stroke="#27b22a" stroke-width="0.8"/>
<line x1="106.80" y1="163.93" x2="110.80" y2="163.93" stroke="#27b22a" stroke-width="0.8"/>
<line x1="110.55" y1="173.56" x2="110.55" y2="171.40" stroke="#27b22a" stroke-width="0.8"/>
<line x1="108.55" y1="171.40" x2="112.55" y2="171.40" stroke="#27b22a" stroke-width="0.8"/>
<line x1="112.30" y1="178.86" x2="112.30" y2="177.33" stroke="#27b22a" stroke-width="0.8"/>
<line x1="110.30" y1="177.33" x2="114.30" y2="177.33" stroke="#27b22a" stroke-width="0.8"/>
<line x1="114.05" y1="183.19" x2="114.05" y2="182.18" stroke="#27b22a" stroke-width="0.8"/>
<line x1="112.05" y1="182.18" x2="116.05" y2="182.18" stroke="#27b22a" stroke-width="0.8"/>
<line x1="115.80" y1="185.32" x2="115.80" y2="184.57" stroke="#27b22a" stroke-width="0.8"/>
<line x1="113.80" y1="184.57" x2="117.80" y2="184.57" stroke="#27b22a" stroke-width="0.8"/>
<line x1="117.55" y1="186.76" x2="117.55" y2="186.18" stroke="#27b22a" stroke-width="0.8"/>
<line x1="115.55" y1="186.18" x2="119.55" y2="186.18" stroke="#27b22a" stroke-width="0.8"/>
<path d="M93.10,182.96h3.4l-1.7,2.9z" fill="#27b22a"/>
<path d="M94.85,171.80h3.4l-1.7,2.9z" fill="#27b22a"/>
<path d="M96.60,171.43h3.4l-1.7,2.9z" fill="#27b22a"/>
<path d="M98.35,173.51h3.4l-1.7,2.9z" fill="#27b22a"/>
<path d="M100.10,173.48h3.4l-1.7,2.9z" fill="#27b22a"/>
<path d="M101.85,169.60h3.4l-1.7,2.9z" fill="#27b22a"/>
<path d="M103.60,164.90h3.4l-1.7,2.9z" fill="#27b22a"/>
<path d="M105.35,161.95h3.4l-1.7,2.9z" fill="#27b22a"/>
<path d="M107.10,165.60h3.4l-1.7,2.9z" fill="#27b22a"/>
<path d="M108.85,172.26h3.4l-1.7,2.9z" fill="#27b22a"/>
<path d="M110.60,177.56h3.4l-1.7,2.9z" fill="#27b22a"/>
<path d="M112.35,181.89h3.4l-1.7,2.9z" fill="#27b22a"/>
<path d="M114.10,184.02h3.4l-1.7,2.9z" fill="#27b22a"/>
<path d="M115.85,185.46h3.4l-1.7,2.9z" fill="#27b22a"/>
<path d="M117.60,185.91h3.4l-1.7,2.9z" fill="#27b22a"/>
<path d="M119.35,186.36h3.4l-1.7,2.9z" fill="#27b22a"/>
<path d="M121.10,186.80h3.4l-1.7,2.9z" fill="#27b22a"/>
<path d="M122.85,187.18h3.4l-1.7,2.9z" fill="#27b22a"/>
<path d="M124.60,187.44h3.4l-1.7,2.9z" fill="#27b22a"/>
<path d="M126.35,187.70h3.4l-1.7,2.9z" fill="#27b22a"/>
<path d="M128.10,187.96h3.4l-1.7,2.9z" fill="#27b22a"/>
<path d="M129.85,188.20h3.4l-1.7,2.9z" fill="#27b22a"/>
<path d="M131.60,188.41h3.4l-1.7,2.9z" fill="#27b22a"/>
<line x1="311.30" y1="145.10" x2="311.30" y2="191.70" stroke="#8a8a8a" stroke-width="1"/>
<line x1="308.70" y1="191.40" x2="311.30" y2="191.40" stroke="#8a8a8a" stroke-width="1"/>
<text x="303.50" y="194.40" font-size="8.5" text-anchor="end" textLength="28.0" lengthAdjust="spacingAndGlyphs" fill="#222" stroke="#222" stroke-width="0.12">0.E+00</text>
<line x1="308.70" y1="182.20" x2="311.30" y2="182.20" stroke="#8a8a8a" stroke-width="1"/>
<text x="303.50" y="185.20" font-size="8.5" text-anchor="end" textLength="25.0" lengthAdjust="spacingAndGlyphs" fill="#222" stroke="#222" stroke-width="0.12">1.E-03</text>
<line x1="308.70" y1="173.00" x2="311.30" y2="173.00" stroke="#8a8a8a" stroke-width="1"/>
<text x="303.50" y="176.00" font-size="8.5" text-anchor="end" textLength="25.0" lengthAdjust="spacingAndGlyphs" fill="#222" stroke="#222" stroke-width="0.12">2.E-03</text>
<line x1="308.70" y1="163.80" x2="311.30" y2="163.80" stroke="#8a8a8a" stroke-width="1"/>
<text x="303.50" y="166.80" font-size="8.5" text-anchor="end" textLength="25.0" lengthAdjust="spacingAndGlyphs" fill="#222" stroke="#222" stroke-width="0.12">3.E-03</text>
<line x1="308.70" y1="154.60" x2="311.30" y2="154.60" stroke="#8a8a8a" stroke-width="1"/>
<text x="303.50" y="157.60" font-size="8.5" text-anchor="end" textLength="25.0" lengthAdjust="spacingAndGlyphs" fill="#222" stroke="#222" stroke-width="0.12">4.E-03</text>
<line x1="308.70" y1="145.40" x2="311.30" y2="145.40" stroke="#8a8a8a" stroke-width="1"/>
<text x="303.50" y="148.40" font-size="8.5" text-anchor="end" textLength="25.0" lengthAdjust="spacingAndGlyphs" fill="#222" stroke="#222" stroke-width="0.12">5.E-03</text>
<polyline points="311.50,179.26 313.25,175.38 315.00,176.00 316.75,176.88 318.50,178.00 320.25,174.03 322.00,170.75 323.75,169.40 325.50,170.73 327.25,175.00 329.00,180.55 330.75,183.99 332.50,185.75 334.25,186.40 336.00,187.04 337.75,187.38 339.50,187.70 341.25,187.96" fill="none" stroke="#111" stroke-width="1.8" stroke-linejoin="round" stroke-linecap="round"/>
<polyline points="337.75,187.38 339.50,187.70 341.25,187.96 343.00,188.12 344.75,188.27 346.50,188.43 348.25,188.71 350.00,188.97 351.75,189.20 353.50,189.40 355.25,189.57 357.00,189.72 358.75,189.86 360.50,189.97 362.25,190.08 364.00,190.17 365.75,190.26 367.50,190.33 369.25,190.40 371.00,190.46 372.75,190.52 374.50,190.57 376.25,190.62 378.00,190.66 379.75,190.70 381.50,190.73 383.25,190.77 385.00,190.80 386.75,190.83 388.50,190.85 390.25,190.88 392.00,190.90 393.75,190.92 395.50,190.94 397.25,191.40 399.00,191.40 400.75,190.99 402.50,191.00 404.25,191.02 406.00,191.03 407.75,191.04 409.50,191.06 411.25,191.07 413.00,191.08 414.75,191.09 416.50,191.10 418.25,191.11 420.00,191.11 421.75,191.12 423.50,191.13 425.25,191.14 427.00,191.14 428.75,191.15 430.50,191.16 432.25,191.16 434.00,191.17 435.75,191.17 437.50,191.18 439.25,191.18 441.00,191.19 442.75,191.19 444.50,191.20 446.25,191.20 448.00,191.20 449.75,191.21 451.50,191.21 453.25,191.21 455.00,191.22 456.75,191.22 458.50,191.22 460.25,191.23 462.00,191.23 463.75,191.23 465.50,191.23 467.25,191.24 469.00,191.24 470.75,191.24 472.50,191.24 474.25,191.25 476.00,191.25 477.75,191.25 479.50,191.25 481.25,191.25 483.00,191.26 484.75,191.26" fill="none" stroke="#111" stroke-width="1.5" stroke-linejoin="round" stroke-linecap="round"/>
<line x1="311.50" y1="179.26" x2="311.50" y2="177.80" stroke="#111" stroke-width="0.8"/>
<line x1="309.50" y1="177.80" x2="313.50" y2="177.80" stroke="#111" stroke-width="0.8"/>
<line x1="313.25" y1="175.38" x2="313.25" y2="173.46" stroke="#111" stroke-width="0.8"/>
<line x1="311.25" y1="173.46" x2="315.25" y2="173.46" stroke="#111" stroke-width="0.8"/>
<line x1="315.00" y1="176.00" x2="315.00" y2="173.92" stroke="#111" stroke-width="0.8"/>
<line x1="313.00" y1="173.92" x2="317.00" y2="173.92" stroke="#111" stroke-width="0.8"/>
<line x1="316.75" y1="176.88" x2="316.75" y2="175.14" stroke="#111" stroke-width="0.8"/>
<line x1="314.75" y1="175.14" x2="318.75" y2="175.14" stroke="#111" stroke-width="0.8"/>
<line x1="318.50" y1="178.00" x2="318.50" y2="176.39" stroke="#111" stroke-width="0.8"/>
<line x1="316.50" y1="176.39" x2="320.50" y2="176.39" stroke="#111" stroke-width="0.8"/>
<line x1="320.25" y1="174.03" x2="320.25" y2="171.95" stroke="#111" stroke-width="0.8"/>
<line x1="318.25" y1="171.95" x2="322.25" y2="171.95" stroke="#111" stroke-width="0.8"/>
<line x1="322.00" y1="170.75" x2="322.00" y2="168.27" stroke="#111" stroke-width="0.8"/>
<line x1="320.00" y1="168.27" x2="324.00" y2="168.27" stroke="#111" stroke-width="0.8"/>
<line x1="323.75" y1="169.40" x2="323.75" y2="164.72" stroke="#111" stroke-width="0.8"/>
<line x1="321.75" y1="164.72" x2="325.75" y2="164.72" stroke="#111" stroke-width="0.8"/>
<line x1="325.50" y1="170.73" x2="325.50" y2="163.98" stroke="#111" stroke-width="0.8"/>
<line x1="323.50" y1="163.98" x2="327.50" y2="163.98" stroke="#111" stroke-width="0.8"/>
<line x1="327.25" y1="175.00" x2="327.25" y2="173.00" stroke="#111" stroke-width="0.8"/>
<line x1="325.25" y1="173.00" x2="329.25" y2="173.00" stroke="#111" stroke-width="0.8"/>
<line x1="329.00" y1="180.55" x2="329.00" y2="179.25" stroke="#111" stroke-width="0.8"/>
<line x1="327.00" y1="179.25" x2="331.00" y2="179.25" stroke="#111" stroke-width="0.8"/>
<line x1="330.75" y1="183.99" x2="330.75" y2="183.10" stroke="#111" stroke-width="0.8"/>
<line x1="328.75" y1="183.10" x2="332.75" y2="183.10" stroke="#111" stroke-width="0.8"/>
<line x1="332.50" y1="185.75" x2="332.50" y2="185.07" stroke="#111" stroke-width="0.8"/>
<line x1="330.50" y1="185.07" x2="334.50" y2="185.07" stroke="#111" stroke-width="0.8"/>
<line x1="334.25" y1="186.40" x2="334.25" y2="185.79" stroke="#111" stroke-width="0.8"/>
<line x1="332.25" y1="185.79" x2="336.25" y2="185.79" stroke="#111" stroke-width="0.8"/>
<path d="M309.80,177.96h3.4l-1.7,2.9z" fill="#111"/>
<path d="M311.55,174.08h3.4l-1.7,2.9z" fill="#111"/>
<path d="M313.30,174.70h3.4l-1.7,2.9z" fill="#111"/>
<path d="M315.05,175.58h3.4l-1.7,2.9z" fill="#111"/>
<path d="M316.80,176.70h3.4l-1.7,2.9z" fill="#111"/>
<path d="M318.55,172.73h3.4l-1.7,2.9z" fill="#111"/>
<path d="M320.30,169.45h3.4l-1.7,2.9z" fill="#111"/>
<path d="M322.05,168.10h3.4l-1.7,2.9z" fill="#111"/>
<path d="M323.80,169.43h3.4l-1.7,2.9z" fill="#111"/>
<path d="M325.55,173.70h3.4l-1.7,2.9z" fill="#111"/>
<path d="M327.30,179.25h3.4l-1.7,2.9z" fill="#111"/>
<path d="M329.05,182.69h3.4l-1.7,2.9z" fill="#111"/>
<path d="M330.80,184.45h3.4l-1.7,2.9z" fill="#111"/>
<path d="M332.55,185.10h3.4l-1.7,2.9z" fill="#111"/>
<path d="M334.30,185.74h3.4l-1.7,2.9z" fill="#111"/>
<path d="M336.05,186.08h3.4l-1.7,2.9z" fill="#111"/>
<path d="M337.80,186.40h3.4l-1.7,2.9z" fill="#111"/>
<path d="M339.55,186.66h3.4l-1.7,2.9z" fill="#111"/>
<path d="M341.30,186.82h3.4l-1.7,2.9z" fill="#111"/>
<path d="M343.05,186.97h3.4l-1.7,2.9z" fill="#111"/>
<path d="M344.80,187.13h3.4l-1.7,2.9z" fill="#111"/>
<path d="M346.55,187.41h3.4l-1.7,2.9z" fill="#111"/>
<path d="M348.30,187.67h3.4l-1.7,2.9z" fill="#111"/>
<polyline points="311.50,185.97 313.25,179.32 315.00,179.74 316.75,180.86 318.50,182.13 320.25,179.23 322.00,176.68 323.75,175.63 325.50,176.94 327.25,181.63 329.00,185.37 330.75,186.84 332.50,187.88 334.25,188.27 336.00,188.57 337.75,188.88 339.50,189.18 341.25,189.46" fill="none" stroke="#27b22a" stroke-width="2.0" stroke-linejoin="round" stroke-linecap="round"/>
<polyline points="337.75,188.88 339.50,189.18 341.25,189.46 343.00,189.70 344.75,189.93 346.50,190.16 348.25,190.31 350.00,190.41 351.75,190.51 353.50,190.59 355.25,190.66 357.00,190.72 358.75,190.77 360.50,190.82 362.25,190.86 364.00,190.90 365.75,190.94 367.50,190.97 369.25,190.99 371.00,191.02 372.75,191.04 374.50,191.06 376.25,191.08 378.00,191.10 379.75,191.11 381.50,191.13 383.25,191.14 385.00,191.15 386.75,191.17 388.50,191.18 390.25,191.19 392.00,191.20 393.75,191.20 395.50,191.21 397.25,191.40 399.00,191.40 400.75,191.23 402.50,191.24 404.25,191.25 406.00,191.25 407.75,191.26 409.50,191.26 411.25,191.26 413.00,191.27 414.75,191.27 416.50,191.28 418.25,191.28 420.00,191.28 421.75,191.29 423.50,191.29 425.25,191.29 427.00,191.30 428.75,191.30 430.50,191.30 432.25,191.30 434.00,191.31 435.75,191.31 437.50,191.31 439.25,191.31 441.00,191.31 442.75,191.32 444.50,191.32 446.25,191.32 448.00,191.32 449.75,191.32 451.50,191.32 453.25,191.32 455.00,191.33 456.75,191.33 458.50,191.33 460.25,191.33 462.00,191.33 463.75,191.33 465.50,191.33 467.25,191.33 469.00,191.33 470.75,191.34 472.50,191.34 474.25,191.34 476.00,191.34 477.75,191.34 479.50,191.34 481.25,191.34 483.00,191.34 484.75,191.34" fill="none" stroke="#27b22a" stroke-width="2.6" stroke-linejoin="round" stroke-linecap="round"/>
<line x1="311.50" y1="185.97" x2="311.50" y2="185.32" stroke="#27b22a" stroke-width="0.8"/>
<line x1="309.50" y1="185.32" x2="313.50" y2="185.32" stroke="#27b22a" stroke-width="0.8"/>
<line x1="313.25" y1="179.32" x2="313.25" y2="177.87" stroke="#27b22a" stroke-width="0.8"/>
<line x1="311.25" y1="177.87" x2="315.25" y2="177.87" stroke="#27b22a" stroke-width="0.8"/>
<line x1="315.00" y1="179.74" x2="315.00" y2="178.34" stroke="#27b22a" stroke-width="0.8"/>
<line x1="313.00" y1="178.34" x2="317.00" y2="178.34" stroke="#27b22a" stroke-width="0.8"/>
<line x1="316.75" y1="180.86" x2="316.75" y2="179.59" stroke="#27b22a" stroke-width="0.8"/>
<line x1="314.75" y1="179.59" x2="318.75" y2="179.59" stroke="#27b22a" stroke-width="0.8"/>
<line x1="318.50" y1="182.13" x2="318.50" y2="181.01" stroke="#27b22a" stroke-width="0.8"/>
<line x1="316.50" y1="181.01" x2="320.50" y2="181.01" stroke="#27b22a" stroke-width="0.8"/>
<line x1="320.25" y1="179.23" x2="320.25" y2="177.77" stroke="#27b22a" stroke-width="0.8"/>
<line x1="318.25" y1="177.77" x2="322.25" y2="177.77" stroke="#27b22a" stroke-width="0.8"/>
<line x1="322.00" y1="176.68" x2="322.00" y2="174.91" stroke="#27b22a" stroke-width="0.8"/>
<line x1="320.00" y1="174.91" x2="324.00" y2="174.91" stroke="#27b22a" stroke-width="0.8"/>
<line x1="323.75" y1="175.63" x2="323.75" y2="173.55" stroke="#27b22a" stroke-width="0.8"/>
<line x1="321.75" y1="173.55" x2="325.75" y2="173.55" stroke="#27b22a" stroke-width="0.8"/>
<line x1="325.50" y1="176.94" x2="325.50" y2="174.84" stroke="#27b22a" stroke-width="0.8"/>
<line x1="323.50" y1="174.84" x2="327.50" y2="174.84" stroke="#27b22a" stroke-width="0.8"/>
<line x1="327.25" y1="181.63" x2="327.25" y2="180.46" stroke="#27b22a" stroke-width="0.8"/>
<line x1="325.25" y1="180.46" x2="329.25" y2="180.46" stroke="#27b22a" stroke-width="0.8"/>
<line x1="329.00" y1="185.37" x2="329.00" y2="184.65" stroke="#27b22a" stroke-width="0.8"/>
<line x1="327.00" y1="184.65" x2="331.00" y2="184.65" stroke="#27b22a" stroke-width="0.8"/>
<line x1="330.75" y1="186.84" x2="330.75" y2="186.29" stroke="#27b22a" stroke-width="0.8"/>
<line x1="328.75" y1="186.29" x2="332.75" y2="186.29" stroke="#27b22a" stroke-width="0.8"/>
<line x1="332.50" y1="187.88" x2="332.50" y2="187.45" stroke="#27b22a" stroke-width="0.8"/>
<line x1="330.50" y1="187.45" x2="334.50" y2="187.45" stroke="#27b22a" stroke-width="0.8"/>
<line x1="334.25" y1="188.27" x2="334.25" y2="187.89" stroke="#27b22a" stroke-width="0.8"/>
<line x1="332.25" y1="187.89" x2="336.25" y2="187.89" stroke="#27b22a" stroke-width="0.8"/>
<path d="M309.80,184.67h3.4l-1.7,2.9z" fill="#27b22a"/>
<path d="M311.55,178.02h3.4l-1.7,2.9z" fill="#27b22a"/>
<path d="M313.30,178.44h3.4l-1.7,2.9z" fill="#27b22a"/>
<path d="M315.05,179.56h3.4l-1.7,2.9z" fill="#27b22a"/>
<path d="M316.80,180.83h3.4l-1.7,2.9z" fill="#27b22a"/>
<path d="M318.55,177.93h3.4l-1.7,2.9z" fill="#27b22a"/>
<path d="M320.30,175.38h3.4l-1.7,2.9z" fill="#27b22a"/>
<path d="M322.05,174.33h3.4l-1.7,2.9z" fill="#27b22a"/>
<path d="M323.80,175.64h3.4l-1.7,2.9z" fill="#27b22a"/>
<path d="M325.55,180.33h3.4l-1.7,2.9z" fill="#27b22a"/>
<path d="M327.30,184.07h3.4l-1.7,2.9z" fill="#27b22a"/>
<path d="M329.05,185.54h3.4l-1.7,2.9z" fill="#27b22a"/>
<path d="M330.80,186.58h3.4l-1.7,2.9z" fill="#27b22a"/>
<path d="M332.55,186.97h3.4l-1.7,2.9z" fill="#27b22a"/>
<path d="M334.30,187.27h3.4l-1.7,2.9z" fill="#27b22a"/>
<path d="M336.05,187.58h3.4l-1.7,2.9z" fill="#27b22a"/>
<path d="M337.80,187.88h3.4l-1.7,2.9z" fill="#27b22a"/>
<path d="M339.55,188.16h3.4l-1.7,2.9z" fill="#27b22a"/>
<path d="M341.30,188.40h3.4l-1.7,2.9z" fill="#27b22a"/>
<path d="M343.05,188.63h3.4l-1.7,2.9z" fill="#27b22a"/>
<path d="M344.80,188.86h3.4l-1.7,2.9z" fill="#27b22a"/>
<path d="M346.55,189.01h3.4l-1.7,2.9z" fill="#27b22a"/>
<path d="M348.30,189.11h3.4l-1.7,2.9z" fill="#27b22a"/>
<line x1="94.60" y1="204.10" x2="94.60" y2="250.00" stroke="#8a8a8a" stroke-width="1"/>
<line x1="92.00" y1="249.70" x2="94.60" y2="249.70" stroke="#8a8a8a" stroke-width="1"/>
<text x="86.80" y="252.70" font-size="8.5" text-anchor="end" textLength="28.0" lengthAdjust="spacingAndGlyphs" fill="#222" stroke="#222" stroke-width="0.12">0.E+00</text>
<line x1="92.00" y1="240.64" x2="94.60" y2="240.64" stroke="#8a8a8a" stroke-width="1"/>
<text x="86.80" y="243.64" font-size="8.5" text-anchor="end" textLength="25.0" lengthAdjust="spacingAndGlyphs" fill="#222" stroke="#222" stroke-width="0.12">1.E-03</text>
<line x1="92.00" y1="231.58" x2="94.60" y2="231.58" stroke="#8a8a8a" stroke-width="1"/>
<text x="86.80" y="234.58" font-size="8.5" text-anchor="end" textLength="25.0" lengthAdjust="spacingAndGlyphs" fill="#222" stroke="#222" stroke-width="0.12">2.E-03</text>
<line x1="92.00" y1="222.52" x2="94.60" y2="222.52" stroke="#8a8a8a" stroke-width="1"/>
<text x="86.80" y="225.52" font-size="8.5" text-anchor="end" textLength="25.0" lengthAdjust="spacingAndGlyphs" fill="#222" stroke="#222" stroke-width="0.12">3.E-03</text>
<line x1="92.00" y1="213.46" x2="94.60" y2="213.46" stroke="#8a8a8a" stroke-width="1"/>
<text x="86.80" y="216.46" font-size="8.5" text-anchor="end" textLength="25.0" lengthAdjust="spacingAndGlyphs" fill="#222" stroke="#222" stroke-width="0.12">4.E-03</text>
<line x1="92.00" y1="204.40" x2="94.60" y2="204.40" stroke="#8a8a8a" stroke-width="1"/>
<text x="86.80" y="207.40" font-size="8.5" text-anchor="end" textLength="25.0" lengthAdjust="spacingAndGlyphs" fill="#222" stroke="#222" stroke-width="0.12">5.E-03</text>
<polyline points="94.80,233.84 96.55,228.94 98.30,228.14 100.05,231.31 101.80,233.29 103.55,228.84 105.30,223.49 107.05,218.06 108.80,220.36 110.55,227.36 112.30,236.50 114.05,240.96 115.80,243.38 117.55,244.82 119.30,246.27 121.05,246.65 122.80,246.96 124.55,247.25" fill="none" stroke="#111" stroke-width="1.8" stroke-linejoin="round" stroke-linecap="round"/>
<polyline points="121.05,246.65 122.80,246.96 124.55,247.25 126.30,247.48 128.05,247.71 129.80,247.94 131.55,248.13 133.30,248.28 135.05,248.41 136.80,248.53 138.55,248.63 140.30,248.72 142.05,248.80 143.80,248.87 145.55,248.93 147.30,248.98 149.05,249.03 150.80,249.08 152.55,249.12 154.30,249.15 156.05,249.18 157.80,249.21 159.55,249.24 161.30,249.27 163.05,249.29 164.80,249.31 166.55,249.33 168.30,249.35 170.05,249.36 171.80,249.38 173.55,249.39 175.30,249.41 177.05,249.42 178.80,249.43 180.55,249.70 182.30,249.70 184.05,249.46 185.80,249.47 187.55,249.48 189.30,249.48 191.05,249.49 192.80,249.50 194.55,249.51 196.30,249.51 198.05,249.52 199.80,249.52 201.55,249.53 203.30,249.53 205.05,249.54 206.80,249.54 208.55,249.55 210.30,249.55 212.05,249.55 213.80,249.56 215.55,249.56 217.30,249.56 219.05,249.57 220.80,249.57 222.55,249.57 224.30,249.58 226.05,249.58 227.80,249.58 229.55,249.58 231.30,249.59 233.05,249.59 234.80,249.59 236.55,249.59 238.30,249.59 240.05,249.60 241.80,249.60 243.55,249.60 245.30,249.60 247.05,249.60 248.80,249.60 250.55,249.60 252.30,249.61 254.05,249.61 255.80,249.61 257.55,249.61 259.30,249.61 261.05,249.61 262.80,249.61 264.55,249.61 266.30,249.62 268.05,249.62" fill="none" stroke="#111" stroke-width="1.5" stroke-linejoin="round" stroke-linecap="round"/>
<line x1="94.80" y1="233.84" x2="94.80" y2="231.94" stroke="#111" stroke-width="0.8"/>
<line x1="92.80" y1="231.94" x2="96.80" y2="231.94" stroke="#111" stroke-width="0.8"/>
<line x1="96.55" y1="228.94" x2="96.55" y2="223.43" stroke="#111" stroke-width="0.8"/>
<line x1="94.55" y1="223.43" x2="98.55" y2="223.43" stroke="#111" stroke-width="0.8"/>
<line x1="98.30" y1="228.14" x2="98.30" y2="225.24" stroke="#111" stroke-width="0.8"/>
<line x1="96.30" y1="225.24" x2="100.30" y2="225.24" stroke="#111" stroke-width="0.8"/>
<line x1="100.05" y1="231.31" x2="100.05" y2="229.10" stroke="#111" stroke-width="0.8"/>
<line x1="98.05" y1="229.10" x2="102.05" y2="229.10" stroke="#111" stroke-width="0.8"/>
<line x1="101.80" y1="233.29" x2="101.80" y2="231.32" stroke="#111" stroke-width="0.8"/>
<line x1="99.80" y1="231.32" x2="103.80" y2="231.32" stroke="#111" stroke-width="0.8"/>
<line x1="103.55" y1="228.84" x2="103.55" y2="226.34" stroke="#111" stroke-width="0.8"/>
<line x1="101.55" y1="226.34" x2="105.55" y2="226.34" stroke="#111" stroke-width="0.8"/>
<line x1="105.30" y1="223.49" x2="105.30" y2="220.35" stroke="#111" stroke-width="0.8"/>
<line x1="103.30" y1="220.35" x2="107.30" y2="220.35" stroke="#111" stroke-width="0.8"/>
<line x1="107.05" y1="218.06" x2="107.05" y2="210.74" stroke="#111" stroke-width="0.8"/>
<line x1="105.05" y1="210.74" x2="109.05" y2="210.74" stroke="#111" stroke-width="0.8"/>
<line x1="108.80" y1="220.36" x2="108.80" y2="216.84" stroke="#111" stroke-width="0.8"/>
<line x1="106.80" y1="216.84" x2="110.80" y2="216.84" stroke="#111" stroke-width="0.8"/>
<line x1="110.55" y1="227.36" x2="110.55" y2="224.68" stroke="#111" stroke-width="0.8"/>
<line x1="108.55" y1="224.68" x2="112.55" y2="224.68" stroke="#111" stroke-width="0.8"/>
<line x1="112.30" y1="236.50" x2="112.30" y2="234.92" stroke="#111" stroke-width="0.8"/>
<line x1="110.30" y1="234.92" x2="114.30" y2="234.92" stroke="#111" stroke-width="0.8"/>
<line x1="114.05" y1="240.96" x2="114.05" y2="239.91" stroke="#111" stroke-width="0.8"/>
<line x1="112.05" y1="239.91" x2="116.05" y2="239.91" stroke="#111" stroke-width="0.8"/>
<line x1="115.80" y1="243.38" x2="115.80" y2="242.62" stroke="#111" stroke-width="0.8"/>
<line x1="113.80" y1="242.62" x2="117.80" y2="242.62" stroke="#111" stroke-width="0.8"/>
<line x1="117.55" y1="244.82" x2="117.55" y2="244.24" stroke="#111" stroke-width="0.8"/>
<line x1="115.55" y1="244.24" x2="119.55" y2="244.24" stroke="#111" stroke-width="0.8"/>
<path d="M93.10,232.54h3.4l-1.7,2.9z" fill="#111"/>
<path d="M94.85,227.64h3.4l-1.7,2.9z" fill="#111"/>
<path d="M96.60,226.84h3.4l-1.7,2.9z" fill="#111"/>
<path d="M98.35,230.01h3.4l-1.7,2.9z" fill="#111"/>
<path d="M100.10,231.99h3.4l-1.7,2.9z" fill="#111"/>
<path d="M101.85,227.54h3.4l-1.7,2.9z" fill="#111"/>
<path d="M103.60,222.19h3.4l-1.7,2.9z" fill="#111"/>
<path d="M105.35,216.76h3.4l-1.7,2.9z" fill="#111"/>
<path d="M107.10,219.06h3.4l-1.7,2.9z" fill="#111"/>
<path d="M108.85,226.06h3.4l-1.7,2.9z" fill="#111"/>
<path d="M110.60,235.20h3.4l-1.7,2.9z" fill="#111"/>
<path d="M112.35,239.66h3.4l-1.7,2.9z" fill="#111"/>
<path d="M114.10,242.08h3.4l-1.7,2.9z" fill="#111"/>
<path d="M115.85,243.52h3.4l-1.7,2.9z" fill="#111"/>
<path d="M117.60,244.97h3.4l-1.7,2.9z" fill="#111"/>
<path d="M119.35,245.35h3.4l-1.7,2.9z" fill="#111"/>
<path d="M121.10,245.66h3.4l-1.7,2.9z" fill="#111"/>
<path d="M122.85,245.95h3.4l-1.7,2.9z" fill="#111"/>
<path d="M124.60,246.18h3.4l-1.7,2.9z" fill="#111"/>
<path d="M126.35,246.41h3.4l-1.7,2.9z" fill="#111"/>
<path d="M128.10,246.64h3.4l-1.7,2.9z" fill="#111"/>
<path d="M129.85,246.83h3.4l-1.7,2.9z" fill="#111"/>
<path d="M131.60,246.98h3.4l-1.7,2.9z" fill="#111"/>
<polyline points="94.80,241.82 96.55,232.53 98.30,229.88 100.05,232.67 101.80,234.36 103.55,230.68 105.30,226.37 107.05,224.81 108.80,228.75 110.55,233.00 112.30,239.44 114.05,242.92 115.80,244.68 117.55,245.49 119.30,246.30 121.05,246.65 122.80,246.96 124.55,247.25" fill="none" stroke="#27b22a" stroke-width="2.0" stroke-linejoin="round" stroke-linecap="round"/>
<polyline points="121.05,246.65 122.80,246.96 124.55,247.25 126.30,247.48 128.05,247.71 129.80,247.94 131.55,248.13 133.30,248.28 135.05,248.41 136.80,248.53 138.55,248.63 140.30,248.72 142.05,248.80 143.80,248.87 145.55,248.93 147.30,248.98 149.05,249.03 150.80,249.08 152.55,249.12 154.30,249.15 156.05,249.18 157.80,249.21 159.55,249.24 161.30,249.27 163.05,249.29 164.80,249.31 166.55,249.33 168.30,249.35 170.05,249.36 171.80,249.38 173.55,249.39 175.30,249.41 177.05,249.42 178.80,249.43 180.55,249.70 182.30,249.70 184.05,249.46 185.80,249.47 187.55,249.48 189.30,249.48 191.05,249.49 192.80,249.50 194.55,249.51 196.30,249.51 198.05,249.52 199.80,249.52 201.55,249.53 203.30,249.53 205.05,249.54 206.80,249.54 208.55,249.55 210.30,249.55 212.05,249.55 213.80,249.56 215.55,249.56 217.30,249.56 219.05,249.57 220.80,249.57 222.55,249.57 224.30,249.58 226.05,249.58 227.80,249.58 229.55,249.58 231.30,249.59 233.05,249.59 234.80,249.59 236.55,249.59 238.30,249.59 240.05,249.60 241.80,249.60 243.55,249.60 245.30,249.60 247.05,249.60 248.80,249.60 250.55,249.60 252.30,249.61 254.05,249.61 255.80,249.61 257.55,249.61 259.30,249.61 261.05,249.61 262.80,249.61 264.55,249.61 266.30,249.62 268.05,249.62" fill="none" stroke="#27b22a" stroke-width="2.6" stroke-linejoin="round" stroke-linecap="round"/>
<line x1="94.80" y1="241.82" x2="94.80" y2="240.87" stroke="#27b22a" stroke-width="0.8"/>
<line x1="92.80" y1="240.87" x2="96.80" y2="240.87" stroke="#27b22a" stroke-width="0.8"/>
<line x1="96.55" y1="232.53" x2="96.55" y2="230.47" stroke="#27b22a" stroke-width="0.8"/>
<line x1="94.55" y1="230.47" x2="98.55" y2="230.47" stroke="#27b22a" stroke-width="0.8"/>
<line x1="98.30" y1="229.88" x2="98.30" y2="227.50" stroke="#27b22a" stroke-width="0.8"/>
<line x1="96.30" y1="227.50" x2="100.30" y2="227.50" stroke="#27b22a" stroke-width="0.8"/>
<line x1="100.05" y1="232.67" x2="100.05" y2="230.63" stroke="#27b22a" stroke-width="0.8"/>
<line x1="98.05" y1="230.63" x2="102.05" y2="230.63" stroke="#27b22a" stroke-width="0.8"/>
<line x1="101.80" y1="234.36" x2="101.80" y2="232.52" stroke="#27b22a" stroke-width="0.8"/>
<line x1="99.80" y1="232.52" x2="103.80" y2="232.52" stroke="#27b22a" stroke-width="0.8"/>
<line x1="103.55" y1="230.68" x2="103.55" y2="228.40" stroke="#27b22a" stroke-width="0.8"/>
<line x1="101.55" y1="228.40" x2="105.55" y2="228.40" stroke="#27b22a" stroke-width="0.8"/>
<line x1="105.30" y1="226.37" x2="105.30" y2="223.57" stroke="#27b22a" stroke-width="0.8"/>
<line x1="103.30" y1="223.57" x2="107.30" y2="223.57" stroke="#27b22a" stroke-width="0.8"/>
<line x1="107.05" y1="224.81" x2="107.05" y2="221.61" stroke="#27b22a" stroke-width="0.8"/>
<line x1="105.05" y1="221.61" x2="109.05" y2="221.61" stroke="#27b22a" stroke-width="0.8"/>
<line x1="108.80" y1="228.75" x2="108.80" y2="226.23" stroke="#27b22a" stroke-width="0.8"/>
<line x1="106.80" y1="226.23" x2="110.80" y2="226.23" stroke="#27b22a" stroke-width="0.8"/>
<line x1="110.55" y1="233.00" x2="110.55" y2="230.99" stroke="#27b22a" stroke-width="0.8"/>
<line x1="108.55" y1="230.99" x2="112.55" y2="230.99" stroke="#27b22a" stroke-width="0.8"/>
<line x1="112.30" y1="239.44" x2="112.30" y2="238.21" stroke="#27b22a" stroke-width="0.8"/>
<line x1="110.30" y1="238.21" x2="114.30" y2="238.21" stroke="#27b22a" stroke-width="0.8"/>
<line x1="114.05" y1="242.92" x2="114.05" y2="242.11" stroke="#27b22a" stroke-width="0.8"/>
<line x1="112.05" y1="242.11" x2="116.05" y2="242.11" stroke="#27b22a" stroke-width="0.8"/>
<line x1="115.80" y1="244.68" x2="115.80" y2="244.08" stroke="#27b22a" stroke-width="0.8"/>
<line x1="113.80" y1="244.08" x2="117.80" y2="244.08" stroke="#27b22a" stroke-width="0.8"/>
<line x1="117.55" y1="245.49" x2="117.55" y2="244.99" stroke="#27b22a" stroke-width="0.8"/>
<line x1="115.55" y1="244.99" x2="119.55" y2="244.99" stroke="#27b22a" stroke-width="0.8"/>
<path d="M93.10,240.52h3.4l-1.7,2.9z" fill="#27b22a"/>
<path d="M94.85,231.23h3.4l-1.7,2.9z" fill="#27b22a"/>
<path d="M96.60,228.58h3.4l-1.7,2.9z" fill="#27b22a"/>
<path d="M98.35,231.37h3.4l-1.7,2.9z" fill="#27b22a"/>
<path d="M100.10,233.06h3.4l-1.7,2.9z" fill="#27b22a"/>
<path d="M101.85,229.38h3.4l-1.7,2.9z" fill="#27b22a"/>
<path d="M103.60,225.07h3.4l-1.7,2.9z" fill="#27b22a"/>
<path d="M105.35,223.51h3.4l-1.7,2.9z" fill="#27b22a"/>
<path d="M107.10,227.45h3.4l-1.7,2.9z" fill="#27b22a"/>
<path d="M108.85,231.70h3.4l-1.7,2.9z" fill="#27b22a"/>
<path d="M110.60,238.14h3.4l-1.7,2.9z" fill="#27b22a"/>
<path d="M112.35,241.62h3.4l-1.7,2.9z" fill="#27b22a"/>
<path d="M114.10,243.38h3.4l-1.7,2.9z" fill="#27b22a"/>
<path d="M115.85,244.19h3.4l-1.7,2.9z" fill="#27b22a"/>
<path d="M117.60,245.00h3.4l-1.7,2.9z" fill="#27b22a"/>
<path d="M119.35,245.35h3.4l-1.7,2.9z" fill="#27b22a"/>
<path d="M121.10,245.66h3.4l-1.7,2.9z" fill="#27b22a"/>
<path d="M122.85,245.95h3.4l-1.7,2.9z" fill="#27b22a"/>
<path d="M124.60,246.18h3.4l-1.7,2.9z" fill="#27b22a"/>
<path d="M126.35,246.41h3.4l-1.7,2.9z" fill="#27b22a"/>
<path d="M128.10,246.64h3.4l-1.7,2.9z" fill="#27b22a"/>
<path d="M129.85,246.83h3.4l-1.7,2.9z" fill="#27b22a"/>
<path d="M131.60,246.98h3.4l-1.7,2.9z" fill="#27b22a"/>
<line x1="311.30" y1="204.00" x2="311.30" y2="250.00" stroke="#8a8a8a" stroke-width="1"/>
<line x1="308.70" y1="249.70" x2="311.30" y2="249.70" stroke="#8a8a8a" stroke-width="1"/>
<text x="303.50" y="252.70" font-size="8.5" text-anchor="end" textLength="28.0" lengthAdjust="spacingAndGlyphs" fill="#222" stroke="#222" stroke-width="0.12">0.E+00</text>
<line x1="308.70" y1="240.62" x2="311.30" y2="240.62" stroke="#8a8a8a" stroke-width="1"/>
<text x="303.50" y="243.62" font-size="8.5" text-anchor="end" textLength="25.0" lengthAdjust="spacingAndGlyphs" fill="#222" stroke="#222" stroke-width="0.12">1.E-03</text>
<line x1="308.70" y1="231.54" x2="311.30" y2="231.54" stroke="#8a8a8a" stroke-width="1"/>
<text x="303.50" y="234.54" font-size="8.5" text-anchor="end" textLength="25.0" lengthAdjust="spacingAndGlyphs" fill="#222" stroke="#222" stroke-width="0.12">2.E-03</text>
<line x1="308.70" y1="222.46" x2="311.30" y2="222.46" stroke="#8a8a8a" stroke-width="1"/>
<text x="303.50" y="225.46" font-size="8.5" text-anchor="end" textLength="25.0" lengthAdjust="spacingAndGlyphs" fill="#222" stroke="#222" stroke-width="0.12">3.E-03</text>
<line x1="308.70" y1="213.38" x2="311.30" y2="213.38" stroke="#8a8a8a" stroke-width="1"/>
<text x="303.50" y="216.38" font-size="8.5" text-anchor="end" textLength="25.0" lengthAdjust="spacingAndGlyphs" fill="#222" stroke="#222" stroke-width="0.12">4.E-03</text>
<line x1="308.70" y1="204.30" x2="311.30" y2="204.30" stroke="#8a8a8a" stroke-width="1"/>
<text x="303.50" y="207.30" font-size="8.5" text-anchor="end" textLength="25.0" lengthAdjust="spacingAndGlyphs" fill="#222" stroke="#222" stroke-width="0.12">5.E-03</text>
<polyline points="311.50,238.99 313.25,228.84 315.00,228.87 316.75,232.08 318.50,234.32 320.25,230.80 322.00,226.82 323.75,224.28 325.50,225.82 327.25,229.96 329.00,236.77 330.75,241.51 332.50,243.29 334.25,244.73 336.00,245.17 337.75,245.62 339.50,246.06 341.25,246.44" fill="none" stroke="#111" stroke-width="1.8" stroke-linejoin="round" stroke-linecap="round"/>
<polyline points="337.75,245.62 339.50,246.06 341.25,246.44 343.00,246.69 344.75,246.95 346.50,247.20 348.25,247.46 350.00,247.68 351.75,247.87 353.50,248.03 355.25,248.18 357.00,248.30 358.75,248.42 360.50,248.51 362.25,248.60 364.00,248.68 365.75,248.75 367.50,248.81 369.25,248.87 371.00,248.92 372.75,248.97 374.50,249.01 376.25,249.05 378.00,249.08 379.75,249.12 381.50,249.14 383.25,249.17 385.00,249.20 386.75,249.22 388.50,249.24 390.25,249.26 392.00,249.28 393.75,249.30 395.50,249.32 397.25,249.70 399.00,249.70 400.75,249.36 402.50,249.37 404.25,249.38 406.00,249.39 407.75,249.40 409.50,249.41 411.25,249.42 413.00,249.43 414.75,249.44 416.50,249.45 418.25,249.45 420.00,249.46 421.75,249.47 423.50,249.47 425.25,249.48 427.00,249.49 428.75,249.49 430.50,249.50 432.25,249.50 434.00,249.51 435.75,249.51 437.50,249.51 439.25,249.52 441.00,249.52 442.75,249.53 444.50,249.53 446.25,249.53 448.00,249.54 449.75,249.54 451.50,249.54 453.25,249.55 455.00,249.55 456.75,249.55 458.50,249.55 460.25,249.56 462.00,249.56 463.75,249.56 465.50,249.56 467.25,249.56 469.00,249.57 470.75,249.57 472.50,249.57 474.25,249.57 476.00,249.57 477.75,249.58 479.50,249.58 481.25,249.58 483.00,249.58 484.75,249.58" fill="none" stroke="#111" stroke-width="1.5" stroke-linejoin="round" stroke-linecap="round"/>
<line x1="311.50" y1="238.99" x2="311.50" y2="237.70" stroke="#111" stroke-width="0.8"/>
<line x1="309.50" y1="237.70" x2="313.50" y2="237.70" stroke="#111" stroke-width="0.8"/>
<line x1="313.25" y1="228.84" x2="313.25" y2="223.73" stroke="#111" stroke-width="0.8"/>
<line x1="311.25" y1="223.73" x2="315.25" y2="223.73" stroke="#111" stroke-width="0.8"/>
<line x1="315.00" y1="228.87" x2="315.00" y2="226.37" stroke="#111" stroke-width="0.8"/>
<line x1="313.00" y1="226.37" x2="317.00" y2="226.37" stroke="#111" stroke-width="0.8"/>
<line x1="316.75" y1="232.08" x2="316.75" y2="229.96" stroke="#111" stroke-width="0.8"/>
<line x1="314.75" y1="229.96" x2="318.75" y2="229.96" stroke="#111" stroke-width="0.8"/>
<line x1="318.50" y1="234.32" x2="318.50" y2="232.47" stroke="#111" stroke-width="0.8"/>
<line x1="316.50" y1="232.47" x2="320.50" y2="232.47" stroke="#111" stroke-width="0.8"/>
<line x1="320.25" y1="230.80" x2="320.25" y2="228.53" stroke="#111" stroke-width="0.8"/>
<line x1="318.25" y1="228.53" x2="322.25" y2="228.53" stroke="#111" stroke-width="0.8"/>
<line x1="322.00" y1="226.82" x2="322.00" y2="224.07" stroke="#111" stroke-width="0.8"/>
<line x1="320.00" y1="224.07" x2="324.00" y2="224.07" stroke="#111" stroke-width="0.8"/>
<line x1="323.75" y1="224.28" x2="323.75" y2="219.74" stroke="#111" stroke-width="0.8"/>
<line x1="321.75" y1="219.74" x2="325.75" y2="219.74" stroke="#111" stroke-width="0.8"/>
<line x1="325.50" y1="225.82" x2="325.50" y2="219.19" stroke="#111" stroke-width="0.8"/>
<line x1="323.50" y1="219.19" x2="327.50" y2="219.19" stroke="#111" stroke-width="0.8"/>
<line x1="327.25" y1="229.96" x2="327.25" y2="227.00" stroke="#111" stroke-width="0.8"/>
<line x1="325.25" y1="227.00" x2="329.25" y2="227.00" stroke="#111" stroke-width="0.8"/>
<line x1="329.00" y1="236.77" x2="329.00" y2="235.22" stroke="#111" stroke-width="0.8"/>
<line x1="327.00" y1="235.22" x2="331.00" y2="235.22" stroke="#111" stroke-width="0.8"/>
<line x1="330.75" y1="241.51" x2="330.75" y2="240.53" stroke="#111" stroke-width="0.8"/>
<line x1="328.75" y1="240.53" x2="332.75" y2="240.53" stroke="#111" stroke-width="0.8"/>
<line x1="332.50" y1="243.29" x2="332.50" y2="242.52" stroke="#111" stroke-width="0.8"/>
<line x1="330.50" y1="242.52" x2="334.50" y2="242.52" stroke="#111" stroke-width="0.8"/>
<line x1="334.25" y1="244.73" x2="334.25" y2="244.13" stroke="#111" stroke-width="0.8"/>
<line x1="332.25" y1="244.13" x2="336.25" y2="244.13" stroke="#111" stroke-width="0.8"/>
<path d="M309.80,237.69h3.4l-1.7,2.9z" fill="#111"/>
<path d="M311.55,227.54h3.4l-1.7,2.9z" fill="#111"/>
<path d="M313.30,227.57h3.4l-1.7,2.9z" fill="#111"/>
<path d="M315.05,230.78h3.4l-1.7,2.9z" fill="#111"/>
<path d="M316.80,233.02h3.4l-1.7,2.9z" fill="#111"/>
<path d="M318.55,229.50h3.4l-1.7,2.9z" fill="#111"/>
<path d="M320.30,225.52h3.4l-1.7,2.9z" fill="#111"/>
<path d="M322.05,222.98h3.4l-1.7,2.9z" fill="#111"/>
<path d="M323.80,224.52h3.4l-1.7,2.9z" fill="#111"/>
<path d="M325.55,228.66h3.4l-1.7,2.9z" fill="#111"/>
<path d="M327.30,235.47h3.4l-1.7,2.9z" fill="#111"/>
<path d="M329.05,240.21h3.4l-1.7,2.9z" fill="#111"/>
<path d="M330.80,241.99h3.4l-1.7,2.9z" fill="#111"/>
<path d="M332.55,243.43h3.4l-1.7,2.9z" fill="#111"/>
<path d="M334.30,243.87h3.4l-1.7,2.9z" fill="#111"/>
<path d="M336.05,244.32h3.4l-1.7,2.9z" fill="#111"/>
<path d="M337.80,244.76h3.4l-1.7,2.9z" fill="#111"/>
<path d="M339.55,245.14h3.4l-1.7,2.9z" fill="#111"/>
<path d="M341.30,245.39h3.4l-1.7,2.9z" fill="#111"/>
<path d="M343.05,245.65h3.4l-1.7,2.9z" fill="#111"/>
<path d="M344.80,245.90h3.4l-1.7,2.9z" fill="#111"/>
<path d="M346.55,246.16h3.4l-1.7,2.9z" fill="#111"/>
<path d="M348.30,246.38h3.4l-1.7,2.9z" fill="#111"/>
<polyline points="311.50,245.16 313.25,237.67 315.00,237.12 316.75,239.06 318.50,240.31 320.25,238.95 322.00,237.98 323.75,237.30 325.50,238.67 327.25,241.97 329.00,245.05 330.75,246.93 332.50,247.23 334.25,247.52 336.00,247.78 337.75,247.97 339.50,248.17 341.25,248.36" fill="none" stroke="#27b22a" stroke-width="2.0" stroke-linejoin="round" stroke-linecap="round"/>
<polyline points="337.75,247.97 339.50,248.17 341.25,248.36 343.00,248.55 344.75,248.75 346.50,248.94 348.25,249.04 350.00,249.10 351.75,249.16 353.50,249.21 355.25,249.25 357.00,249.29 358.75,249.32 360.50,249.35 362.25,249.37 364.00,249.40 365.75,249.42 367.50,249.44 369.25,249.45 371.00,249.47 372.75,249.48 374.50,249.50 376.25,249.51 378.00,249.52 379.75,249.53 381.50,249.54 383.25,249.54 385.00,249.55 386.75,249.56 388.50,249.56 390.25,249.57 392.00,249.58 393.75,249.58 395.50,249.59 397.25,249.70 399.00,249.70 400.75,249.60 402.50,249.60 404.25,249.61 406.00,249.61 407.75,249.61 409.50,249.62 411.25,249.62 413.00,249.62 414.75,249.62 416.50,249.63 418.25,249.63 420.00,249.63 421.75,249.63 423.50,249.63 425.25,249.63 427.00,249.64 428.75,249.64 430.50,249.64 432.25,249.64 434.00,249.64 435.75,249.64 437.50,249.65 439.25,249.65 441.00,249.65 442.75,249.65 444.50,249.65 446.25,249.65 448.00,249.65 449.75,249.65 451.50,249.65 453.25,249.65 455.00,249.66 456.75,249.66 458.50,249.66 460.25,249.66 462.00,249.66 463.75,249.66 465.50,249.66 467.25,249.66 469.00,249.66 470.75,249.66 472.50,249.66 474.25,249.66 476.00,249.66 477.75,249.66 479.50,249.66 481.25,249.66 483.00,249.66 484.75,249.67" fill="none" stroke="#27b22a" stroke-width="2.6" stroke-linejoin="round" stroke-linecap="round"/>
<line x1="311.50" y1="245.16" x2="311.50" y2="244.62" stroke="#27b22a" stroke-width="0.8"/>
<line x1="309.50" y1="244.62" x2="313.50" y2="244.62" stroke="#27b22a" stroke-width="0.8"/>
<line x1="313.25" y1="237.67" x2="313.25" y2="234.26" stroke="#27b22a" stroke-width="0.8"/>
<line x1="311.25" y1="234.26" x2="315.25" y2="234.26" stroke="#27b22a" stroke-width="0.8"/>
<line x1="315.00" y1="237.12" x2="315.00" y2="235.62" stroke="#27b22a" stroke-width="0.8"/>
<line x1="313.00" y1="235.62" x2="317.00" y2="235.62" stroke="#27b22a" stroke-width="0.8"/>
<line x1="316.75" y1="239.06" x2="316.75" y2="237.78" stroke="#27b22a" stroke-width="0.8"/>
<line x1="314.75" y1="237.78" x2="318.75" y2="237.78" stroke="#27b22a" stroke-width="0.8"/>
<line x1="318.50" y1="240.31" x2="318.50" y2="239.18" stroke="#27b22a" stroke-width="0.8"/>
<line x1="316.50" y1="239.18" x2="320.50" y2="239.18" stroke="#27b22a" stroke-width="0.8"/>
<line x1="320.25" y1="238.95" x2="320.25" y2="237.66" stroke="#27b22a" stroke-width="0.8"/>
<line x1="318.25" y1="237.66" x2="322.25" y2="237.66" stroke="#27b22a" stroke-width="0.8"/>
<line x1="322.00" y1="237.98" x2="322.00" y2="236.57" stroke="#27b22a" stroke-width="0.8"/>
<line x1="320.00" y1="236.57" x2="324.00" y2="236.57" stroke="#27b22a" stroke-width="0.8"/>
<line x1="323.75" y1="237.30" x2="323.75" y2="235.81" stroke="#27b22a" stroke-width="0.8"/>
<line x1="321.75" y1="235.81" x2="325.75" y2="235.81" stroke="#27b22a" stroke-width="0.8"/>
<line x1="325.50" y1="238.67" x2="325.50" y2="237.35" stroke="#27b22a" stroke-width="0.8"/>
<line x1="323.50" y1="237.35" x2="327.50" y2="237.35" stroke="#27b22a" stroke-width="0.8"/>
<line x1="327.25" y1="241.97" x2="327.25" y2="241.04" stroke="#27b22a" stroke-width="0.8"/>
<line x1="325.25" y1="241.04" x2="329.25" y2="241.04" stroke="#27b22a" stroke-width="0.8"/>
<line x1="329.00" y1="245.05" x2="329.00" y2="244.49" stroke="#27b22a" stroke-width="0.8"/>
<line x1="327.00" y1="244.49" x2="331.00" y2="244.49" stroke="#27b22a" stroke-width="0.8"/>
<line x1="330.75" y1="246.93" x2="330.75" y2="246.60" stroke="#27b22a" stroke-width="0.8"/>
<line x1="328.75" y1="246.60" x2="332.75" y2="246.60" stroke="#27b22a" stroke-width="0.8"/>
<line x1="332.50" y1="247.23" x2="332.50" y2="246.93" stroke="#27b22a" stroke-width="0.8"/>
<line x1="330.50" y1="246.93" x2="334.50" y2="246.93" stroke="#27b22a" stroke-width="0.8"/>
<line x1="334.25" y1="247.52" x2="334.25" y2="247.26" stroke="#27b22a" stroke-width="0.8"/>
<line x1="332.25" y1="247.26" x2="336.25" y2="247.26" stroke="#27b22a" stroke-width="0.8"/>
<path d="M309.80,243.86h3.4l-1.7,2.9z" fill="#27b22a"/>
<path d="M311.55,236.37h3.4l-1.7,2.9z" fill="#27b22a"/>
<path d="M313.30,235.82h3.4l-1.7,2.9z" fill="#27b22a"/>
<path d="M315.05,237.76h3.4l-1.7,2.9z" fill="#27b22a"/>
<path d="M316.80,239.01h3.4l-1.7,2.9z" fill="#27b22a"/>
<path d="M318.55,237.65h3.4l-1.7,2.9z" fill="#27b22a"/>
<path d="M320.30,236.68h3.4l-1.7,2.9z" fill="#27b22a"/>
<path d="M322.05,236.00h3.4l-1.7,2.9z" fill="#27b22a"/>
<path d="M323.80,237.37h3.4l-1.7,2.9z" fill="#27b22a"/>
<path d="M325.55,240.67h3.4l-1.7,2.9z" fill="#27b22a"/>
<path d="M327.30,243.75h3.4l-1.7,2.9z" fill="#27b22a"/>
<path d="M329.05,245.63h3.4l-1.7,2.9z" fill="#27b22a"/>
<path d="M330.80,245.93h3.4l-1.7,2.9z" fill="#27b22a"/>
<path d="M332.55,246.22h3.4l-1.7,2.9z" fill="#27b22a"/>
<path d="M334.30,246.48h3.4l-1.7,2.9z" fill="#27b22a"/>
<path d="M336.05,246.67h3.4l-1.7,2.9z" fill="#27b22a"/>
<path d="M337.80,246.87h3.4l-1.7,2.9z" fill="#27b22a"/>
<path d="M339.55,247.06h3.4l-1.7,2.9z" fill="#27b22a"/>
<path d="M341.30,247.25h3.4l-1.7,2.9z" fill="#27b22a"/>
<path d="M343.05,247.45h3.4l-1.7,2.9z" fill="#27b22a"/>
<path d="M344.80,247.64h3.4l-1.7,2.9z" fill="#27b22a"/>
<path d="M346.55,247.74h3.4l-1.7,2.9z" fill="#27b22a"/>
<path d="M348.30,247.80h3.4l-1.7,2.9z" fill="#27b22a"/>
<line x1="94.60" y1="262.50" x2="94.60" y2="308.80" stroke="#8a8a8a" stroke-width="1"/>
<line x1="92.00" y1="308.50" x2="94.60" y2="308.50" stroke="#8a8a8a" stroke-width="1"/>
<text x="86.80" y="311.50" font-size="8.5" text-anchor="end" textLength="28.0" lengthAdjust="spacingAndGlyphs" fill="#222" stroke="#222" stroke-width="0.12">0.E+00</text>
<line x1="92.00" y1="299.36" x2="94.60" y2="299.36" stroke="#8a8a8a" stroke-width="1"/>
<text x="86.80" y="302.36" font-size="8.5" text-anchor="end" textLength="25.0" lengthAdjust="spacingAndGlyphs" fill="#222" stroke="#222" stroke-width="0.12">1.E-03</text>
<line x1="92.00" y1="290.22" x2="94.60" y2="290.22" stroke="#8a8a8a" stroke-width="1"/>
<text x="86.80" y="293.22" font-size="8.5" text-anchor="end" textLength="25.0" lengthAdjust="spacingAndGlyphs" fill="#222" stroke="#222" stroke-width="0.12">2.E-03</text>
<line x1="92.00" y1="281.08" x2="94.60" y2="281.08" stroke="#8a8a8a" stroke-width="1"/>
<text x="86.80" y="284.08" font-size="8.5" text-anchor="end" textLength="25.0" lengthAdjust="spacingAndGlyphs" fill="#222" stroke="#222" stroke-width="0.12">3.E-03</text>
<line x1="92.00" y1="271.94" x2="94.60" y2="271.94" stroke="#8a8a8a" stroke-width="1"/>
<text x="86.80" y="274.94" font-size="8.5" text-anchor="end" textLength="25.0" lengthAdjust="spacingAndGlyphs" fill="#222" stroke="#222" stroke-width="0.12">4.E-03</text>
<line x1="92.00" y1="262.80" x2="94.60" y2="262.80" stroke="#8a8a8a" stroke-width="1"/>
<text x="86.80" y="265.80" font-size="8.5" text-anchor="end" textLength="25.0" lengthAdjust="spacingAndGlyphs" fill="#222" stroke="#222" stroke-width="0.12">5.E-03</text>
<polyline points="94.80,298.45 96.55,285.91 98.30,285.54 100.05,290.03 101.80,293.67 103.55,289.94 105.30,285.19 107.05,281.09 108.80,281.09 110.55,285.25 112.30,294.07 114.05,299.33 115.80,301.71 117.55,303.58 119.30,304.01 121.05,304.43 122.80,304.85 124.55,305.23" fill="none" stroke="#111" stroke-width="1.8" stroke-linejoin="round" stroke-linecap="round"/>
<polyline points="121.05,304.43 122.80,304.85 124.55,305.23 126.30,305.54 128.05,305.85 129.80,306.16 131.55,306.41 133.30,306.62 135.05,306.79 136.80,306.95 138.55,307.08 140.30,307.20 142.05,307.30 143.80,307.39 145.55,307.48 147.30,307.55 149.05,307.61 150.80,307.67 152.55,307.72 154.30,307.77 156.05,307.82 157.80,307.86 159.55,307.89 161.30,307.92 163.05,307.95 164.80,307.98 166.55,308.01 168.30,308.03 170.05,308.05 171.80,308.07 173.55,308.09 175.30,308.11 177.05,308.13 178.80,308.14 180.55,308.50 182.30,308.50 184.05,308.18 185.80,308.19 187.55,308.20 189.30,308.21 191.05,308.22 192.80,308.23 194.55,308.24 196.30,308.25 198.05,308.26 199.80,308.26 201.55,308.27 203.30,308.28 205.05,308.28 206.80,308.29 208.55,308.30 210.30,308.30 212.05,308.31 213.80,308.31 215.55,308.31 217.30,308.32 219.05,308.32 220.80,308.33 222.55,308.33 224.30,308.33 226.05,308.34 227.80,308.34 229.55,308.34 231.30,308.35 233.05,308.35 234.80,308.35 236.55,308.36 238.30,308.36 240.05,308.36 241.80,308.36 243.55,308.37 245.30,308.37 247.05,308.37 248.80,308.37 250.55,308.37 252.30,308.38 254.05,308.38 255.80,308.38 257.55,308.38 259.30,308.38 261.05,308.38 262.80,308.39 264.55,308.39 266.30,308.39 268.05,308.39" fill="none" stroke="#111" stroke-width="1.5" stroke-linejoin="round" stroke-linecap="round"/>
<line x1="94.80" y1="298.45" x2="94.80" y2="297.24" stroke="#111" stroke-width="0.8"/>
<line x1="92.80" y1="297.24" x2="96.80" y2="297.24" stroke="#111" stroke-width="0.8"/>
<line x1="96.55" y1="285.91" x2="96.55" y2="283.19" stroke="#111" stroke-width="0.8"/>
<line x1="94.55" y1="283.19" x2="98.55" y2="283.19" stroke="#111" stroke-width="0.8"/>
<line x1="98.30" y1="285.54" x2="98.30" y2="282.79" stroke="#111" stroke-width="0.8"/>
<line x1="96.30" y1="282.79" x2="100.30" y2="282.79" stroke="#111" stroke-width="0.8"/>
<line x1="100.05" y1="290.03" x2="100.05" y2="287.82" stroke="#111" stroke-width="0.8"/>
<line x1="98.05" y1="287.82" x2="102.05" y2="287.82" stroke="#111" stroke-width="0.8"/>
<line x1="101.80" y1="293.67" x2="101.80" y2="291.89" stroke="#111" stroke-width="0.8"/>
<line x1="99.80" y1="291.89" x2="103.80" y2="291.89" stroke="#111" stroke-width="0.8"/>
<line x1="103.55" y1="289.94" x2="103.55" y2="287.71" stroke="#111" stroke-width="0.8"/>
<line x1="101.55" y1="287.71" x2="105.55" y2="287.71" stroke="#111" stroke-width="0.8"/>
<line x1="105.30" y1="285.19" x2="105.30" y2="282.40" stroke="#111" stroke-width="0.8"/>
<line x1="103.30" y1="282.40" x2="107.30" y2="282.40" stroke="#111" stroke-width="0.8"/>
<line x1="107.05" y1="281.09" x2="107.05" y2="277.80" stroke="#111" stroke-width="0.8"/>
<line x1="105.05" y1="277.80" x2="109.05" y2="277.80" stroke="#111" stroke-width="0.8"/>
<line x1="108.80" y1="281.09" x2="108.80" y2="275.60" stroke="#111" stroke-width="0.8"/>
<line x1="106.80" y1="275.60" x2="110.80" y2="275.60" stroke="#111" stroke-width="0.8"/>
<line x1="110.55" y1="285.25" x2="110.55" y2="281.99" stroke="#111" stroke-width="0.8"/>
<line x1="108.55" y1="281.99" x2="112.55" y2="281.99" stroke="#111" stroke-width="0.8"/>
<line x1="112.30" y1="294.07" x2="112.30" y2="292.05" stroke="#111" stroke-width="0.8"/>
<line x1="110.30" y1="292.05" x2="114.30" y2="292.05" stroke="#111" stroke-width="0.8"/>
<line x1="114.05" y1="299.33" x2="114.05" y2="298.23" stroke="#111" stroke-width="0.8"/>
<line x1="112.05" y1="298.23" x2="116.05" y2="298.23" stroke="#111" stroke-width="0.8"/>
<line x1="115.80" y1="301.71" x2="115.80" y2="300.89" stroke="#111" stroke-width="0.8"/>
<line x1="113.80" y1="300.89" x2="117.80" y2="300.89" stroke="#111" stroke-width="0.8"/>
<line x1="117.55" y1="303.58" x2="117.55" y2="302.99" stroke="#111" stroke-width="0.8"/>
<line x1="115.55" y1="302.99" x2="119.55" y2="302.99" stroke="#111" stroke-width="0.8"/>
<path d="M93.10,297.15h3.4l-1.7,2.9z" fill="#111"/>
<path d="M94.85,284.61h3.4l-1.7,2.9z" fill="#111"/>
<path d="M96.60,284.24h3.4l-1.7,2.9z" fill="#111"/>
<path d="M98.35,288.73h3.4l-1.7,2.9z" fill="#111"/>
<path d="M100.10,292.37h3.4l-1.7,2.9z" fill="#111"/>
<path d="M101.85,288.64h3.4l-1.7,2.9z" fill="#111"/>
<path d="M103.60,283.89h3.4l-1.7,2.9z" fill="#111"/>
<path d="M105.35,279.79h3.4l-1.7,2.9z" fill="#111"/>
<path d="M107.10,279.79h3.4l-1.7,2.9z" fill="#111"/>
<path d="M108.85,283.95h3.4l-1.7,2.9z" fill="#111"/>
<path d="M110.60,292.77h3.4l-1.7,2.9z" fill="#111"/>
<path d="M112.35,298.03h3.4l-1.7,2.9z" fill="#111"/>
<path d="M114.10,300.41h3.4l-1.7,2.9z" fill="#111"/>
<path d="M115.85,302.28h3.4l-1.7,2.9z" fill="#111"/>
<path d="M117.60,302.71h3.4l-1.7,2.9z" fill="#111"/>
<path d="M119.35,303.13h3.4l-1.7,2.9z" fill="#111"/>
<path d="M121.10,303.55h3.4l-1.7,2.9z" fill="#111"/>
<path d="M122.85,303.93h3.4l-1.7,2.9z" fill="#111"/>
<path d="M124.60,304.24h3.4l-1.7,2.9z" fill="#111"/>
<path d="M126.35,304.55h3.4l-1.7,2.9z" fill="#111"/>
<path d="M128.10,304.86h3.4l-1.7,2.9z" fill="#111"/>
<path d="M129.85,305.11h3.4l-1.7,2.9z" fill="#111"/>
<path d="M131.60,305.32h3.4l-1.7,2.9z" fill="#111"/>
<polyline points="94.80,297.99 96.55,286.36 98.30,285.92 100.05,290.03 101.80,293.67 103.55,289.94 105.30,285.88 107.05,282.49 108.80,282.75 110.55,287.33 112.30,295.88 114.05,300.85 115.80,302.36 117.55,303.58 119.30,304.01 121.05,304.43 122.80,304.85 124.55,305.23" fill="none" stroke="#27b22a" stroke-width="2.0" stroke-linejoin="round" stroke-linecap="round"/>
<polyline points="121.05,304.43 122.80,304.85 124.55,305.23 126.30,305.54 128.05,305.85 129.80,306.16 131.55,306.41 133.30,306.62 135.05,306.79 136.80,306.95 138.55,307.08 140.30,307.20 142.05,307.30 143.80,307.39 145.55,307.48 147.30,307.55 149.05,307.61 150.80,307.67 152.55,307.72 154.30,307.77 156.05,307.82 157.80,307.86 159.55,307.89 161.30,307.92 163.05,307.95 164.80,307.98 166.55,308.01 168.30,308.03 170.05,308.05 171.80,308.07 173.55,308.09 175.30,308.11 177.05,308.13 178.80,308.14 180.55,308.50 182.30,308.50 184.05,308.18 185.80,308.19 187.55,308.20 189.30,308.21 191.05,308.22 192.80,308.23 194.55,308.24 196.30,308.25 198.05,308.26 199.80,308.26 201.55,308.27 203.30,308.28 205.05,308.28 206.80,308.29 208.55,308.30 210.30,308.30 212.05,308.31 213.80,308.31 215.55,308.31 217.30,308.32 219.05,308.32 220.80,308.33 222.55,308.33 224.30,308.33 226.05,308.34 227.80,308.34 229.55,308.34 231.30,308.35 233.05,308.35 234.80,308.35 236.55,308.36 238.30,308.36 240.05,308.36 241.80,308.36 243.55,308.37 245.30,308.37 247.05,308.37 248.80,308.37 250.55,308.37 252.30,308.38 254.05,308.38 255.80,308.38 257.55,308.38 259.30,308.38 261.05,308.38 262.80,308.39 264.55,308.39 266.30,308.39 268.05,308.39" fill="none" stroke="#27b22a" stroke-width="2.6" stroke-linejoin="round" stroke-linecap="round"/>
<line x1="94.80" y1="297.99" x2="94.80" y2="296.73" stroke="#27b22a" stroke-width="0.8"/>
<line x1="92.80" y1="296.73" x2="96.80" y2="296.73" stroke="#27b22a" stroke-width="0.8"/>
<line x1="96.55" y1="286.36" x2="96.55" y2="281.99" stroke="#27b22a" stroke-width="0.8"/>
<line x1="94.55" y1="281.99" x2="98.55" y2="281.99" stroke="#27b22a" stroke-width="0.8"/>
<line x1="98.30" y1="285.92" x2="98.30" y2="281.99" stroke="#27b22a" stroke-width="0.8"/>
<line x1="96.30" y1="281.99" x2="100.30" y2="281.99" stroke="#27b22a" stroke-width="0.8"/>
<line x1="100.05" y1="290.03" x2="100.05" y2="287.82" stroke="#27b22a" stroke-width="0.8"/>
<line x1="98.05" y1="287.82" x2="102.05" y2="287.82" stroke="#27b22a" stroke-width="0.8"/>
<line x1="101.80" y1="293.67" x2="101.80" y2="291.89" stroke="#27b22a" stroke-width="0.8"/>
<line x1="99.80" y1="291.89" x2="103.80" y2="291.89" stroke="#27b22a" stroke-width="0.8"/>
<line x1="103.55" y1="289.94" x2="103.55" y2="287.71" stroke="#27b22a" stroke-width="0.8"/>
<line x1="101.55" y1="287.71" x2="105.55" y2="287.71" stroke="#27b22a" stroke-width="0.8"/>
<line x1="105.30" y1="285.88" x2="105.30" y2="283.16" stroke="#27b22a" stroke-width="0.8"/>
<line x1="103.30" y1="283.16" x2="107.30" y2="283.16" stroke="#27b22a" stroke-width="0.8"/>
<line x1="107.05" y1="282.49" x2="107.05" y2="279.25" stroke="#27b22a" stroke-width="0.8"/>
<line x1="105.05" y1="279.25" x2="109.05" y2="279.25" stroke="#27b22a" stroke-width="0.8"/>
<line x1="108.80" y1="282.75" x2="108.80" y2="279.66" stroke="#27b22a" stroke-width="0.8"/>
<line x1="106.80" y1="279.66" x2="110.80" y2="279.66" stroke="#27b22a" stroke-width="0.8"/>
<line x1="110.55" y1="287.33" x2="110.55" y2="284.79" stroke="#27b22a" stroke-width="0.8"/>
<line x1="108.55" y1="284.79" x2="112.55" y2="284.79" stroke="#27b22a" stroke-width="0.8"/>
<line x1="112.30" y1="295.88" x2="112.30" y2="294.37" stroke="#27b22a" stroke-width="0.8"/>
<line x1="110.30" y1="294.37" x2="114.30" y2="294.37" stroke="#27b22a" stroke-width="0.8"/>
<line x1="114.05" y1="300.85" x2="114.05" y2="299.94" stroke="#27b22a" stroke-width="0.8"/>
<line x1="112.05" y1="299.94" x2="116.05" y2="299.94" stroke="#27b22a" stroke-width="0.8"/>
<line x1="115.80" y1="302.36" x2="115.80" y2="301.62" stroke="#27b22a" stroke-width="0.8"/>
<line x1="113.80" y1="301.62" x2="117.80" y2="301.62" stroke="#27b22a" stroke-width="0.8"/>
<line x1="117.55" y1="303.58" x2="117.55" y2="302.99" stroke="#27b22a" stroke-width="0.8"/>
<line x1="115.55" y1="302.99" x2="119.55" y2="302.99" stroke="#27b22a" stroke-width="0.8"/>
<path d="M93.10,296.69h3.4l-1.7,2.9z" fill="#27b22a"/>
<path d="M94.85,285.06h3.4l-1.7,2.9z" fill="#27b22a"/>
<path d="M96.60,284.62h3.4l-1.7,2.9z" fill="#27b22a"/>
<path d="M98.35,288.73h3.4l-1.7,2.9z" fill="#27b22a"/>
<path d="M100.10,292.37h3.4l-1.7,2.9z" fill="#27b22a"/>
<path d="M101.85,288.64h3.4l-1.7,2.9z" fill="#27b22a"/>
<path d="M103.60,284.58h3.4l-1.7,2.9z" fill="#27b22a"/>
<path d="M105.35,281.19h3.4l-1.7,2.9z" fill="#27b22a"/>
<path d="M107.10,281.45h3.4l-1.7,2.9z" fill="#27b22a"/>
<path d="M108.85,286.03h3.4l-1.7,2.9z" fill="#27b22a"/>
<path d="M110.60,294.58h3.4l-1.7,2.9z" fill="#27b22a"/>
<path d="M112.35,299.55h3.4l-1.7,2.9z" fill="#27b22a"/>
<path d="M114.10,301.06h3.4l-1.7,2.9z" fill="#27b22a"/>
<path d="M115.85,302.28h3.4l-1.7,2.9z" fill="#27b22a"/>
<path d="M117.60,302.71h3.4l-1.7,2.9z" fill="#27b22a"/>
<path d="M119.35,303.13h3.4l-1.7,2.9z" fill="#27b22a"/>
<path d="M121.10,303.55h3.4l-1.7,2.9z" fill="#27b22a"/>
<path d="M122.85,303.93h3.4l-1.7,2.9z" fill="#27b22a"/>
<path d="M124.60,304.24h3.4l-1.7,2.9z" fill="#27b22a"/>
<path d="M126.35,304.55h3.4l-1.7,2.9z" fill="#27b22a"/>
<path d="M128.10,304.86h3.4l-1.7,2.9z" fill="#27b22a"/>
<path d="M129.85,305.11h3.4l-1.7,2.9z" fill="#27b22a"/>
<path d="M131.60,305.32h3.4l-1.7,2.9z" fill="#27b22a"/>
<line x1="311.30" y1="262.50" x2="311.30" y2="308.90" stroke="#8a8a8a" stroke-width="1"/>
<line x1="308.70" y1="308.60" x2="311.30" y2="308.60" stroke="#8a8a8a" stroke-width="1"/>
<text x="303.50" y="311.60" font-size="8.5" text-anchor="end" textLength="28.0" lengthAdjust="spacingAndGlyphs" fill="#222" stroke="#222" stroke-width="0.12">0.E+00</text>
<line x1="308.70" y1="299.44" x2="311.30" y2="299.44" stroke="#8a8a8a" stroke-width="1"/>
<text x="303.50" y="302.44" font-size="8.5" text-anchor="end" textLength="25.0" lengthAdjust="spacingAndGlyphs" fill="#222" stroke="#222" stroke-width="0.12">1.E-03</text>
<line x1="308.70" y1="290.28" x2="311.30" y2="290.28" stroke="#8a8a8a" stroke-width="1"/>
<text x="303.50" y="293.28" font-size="8.5" text-anchor="end" textLength="25.0" lengthAdjust="spacingAndGlyphs" fill="#222" stroke="#222" stroke-width="0.12">2.E-03</text>
<line x1="308.70" y1="281.12" x2="311.30" y2="281.12" stroke="#8a8a8a" stroke-width="1"/>
<text x="303.50" y="284.12" font-size="8.5" text-anchor="end" textLength="25.0" lengthAdjust="spacingAndGlyphs" fill="#222" stroke="#222" stroke-width="0.12">3.E-03</text>
<line x1="308.70" y1="271.96" x2="311.30" y2="271.96" stroke="#8a8a8a" stroke-width="1"/>
<text x="303.50" y="274.96" font-size="8.5" text-anchor="end" textLength="25.0" lengthAdjust="spacingAndGlyphs" fill="#222" stroke="#222" stroke-width="0.12">4.E-03</text>
<line x1="308.70" y1="262.80" x2="311.30" y2="262.80" stroke="#8a8a8a" stroke-width="1"/>
<text x="303.50" y="265.80" font-size="8.5" text-anchor="end" textLength="25.0" lengthAdjust="spacingAndGlyphs" fill="#222" stroke="#222" stroke-width="0.12">5.E-03</text>
<polyline points="311.50,297.33 313.25,288.02 315.00,287.12 316.75,290.85 318.50,292.75 320.25,288.84 322.00,285.29 323.75,282.67 325.50,281.56 327.25,285.75 329.00,293.64 330.75,299.88 332.50,301.68 334.25,303.15 336.00,303.66 337.75,304.18 339.50,304.70 341.25,305.10" fill="none" stroke="#111" stroke-width="1.8" stroke-linejoin="round" stroke-linecap="round"/>
<polyline points="337.75,304.18 339.50,304.70 341.25,305.10 343.00,305.31 344.75,305.52 346.50,305.72 348.25,306.00 350.00,306.26 351.75,306.48 353.50,306.67 355.25,306.84 357.00,306.98 358.75,307.11 360.50,307.23 362.25,307.33 364.00,307.42 365.75,307.50 367.50,307.57 369.25,307.64 371.00,307.70 372.75,307.75 374.50,307.80 376.25,307.84 378.00,307.88 379.75,307.92 381.50,307.96 383.25,307.99 385.00,308.02 386.75,308.05 388.50,308.07 390.25,308.09 392.00,308.12 393.75,308.14 395.50,308.15 397.25,308.60 399.00,308.60 400.75,308.20 402.50,308.22 404.25,308.23 406.00,308.24 407.75,308.26 409.50,308.27 411.25,308.28 413.00,308.29 414.75,308.30 416.50,308.31 418.25,308.32 420.00,308.32 421.75,308.33 423.50,308.34 425.25,308.35 427.00,308.35 428.75,308.36 430.50,308.36 432.25,308.37 434.00,308.38 435.75,308.38 437.50,308.39 439.25,308.39 441.00,308.39 442.75,308.40 444.50,308.40 446.25,308.41 448.00,308.41 449.75,308.41 451.50,308.42 453.25,308.42 455.00,308.42 456.75,308.43 458.50,308.43 460.25,308.43 462.00,308.44 463.75,308.44 465.50,308.44 467.25,308.44 469.00,308.45 470.75,308.45 472.50,308.45 474.25,308.45 476.00,308.45 477.75,308.46 479.50,308.46 481.25,308.46 483.00,308.46 484.75,308.46" fill="none" stroke="#111" stroke-width="1.5" stroke-linejoin="round" stroke-linecap="round"/>
<line x1="311.50" y1="297.33" x2="311.50" y2="295.98" stroke="#111" stroke-width="0.8"/>
<line x1="309.50" y1="295.98" x2="313.50" y2="295.98" stroke="#111" stroke-width="0.8"/>
<line x1="313.25" y1="288.02" x2="313.25" y2="282.22" stroke="#111" stroke-width="0.8"/>
<line x1="311.25" y1="282.22" x2="315.25" y2="282.22" stroke="#111" stroke-width="0.8"/>
<line x1="315.00" y1="287.12" x2="315.00" y2="282.95" stroke="#111" stroke-width="0.8"/>
<line x1="313.00" y1="282.95" x2="317.00" y2="282.95" stroke="#111" stroke-width="0.8"/>
<line x1="316.75" y1="290.85" x2="316.75" y2="288.72" stroke="#111" stroke-width="0.8"/>
<line x1="314.75" y1="288.72" x2="318.75" y2="288.72" stroke="#111" stroke-width="0.8"/>
<line x1="318.50" y1="292.75" x2="318.50" y2="290.85" stroke="#111" stroke-width="0.8"/>
<line x1="316.50" y1="290.85" x2="320.50" y2="290.85" stroke="#111" stroke-width="0.8"/>
<line x1="320.25" y1="288.84" x2="320.25" y2="286.46" stroke="#111" stroke-width="0.8"/>
<line x1="318.25" y1="286.46" x2="322.25" y2="286.46" stroke="#111" stroke-width="0.8"/>
<line x1="322.00" y1="285.29" x2="322.00" y2="282.49" stroke="#111" stroke-width="0.8"/>
<line x1="320.00" y1="282.49" x2="324.00" y2="282.49" stroke="#111" stroke-width="0.8"/>
<line x1="323.75" y1="282.67" x2="323.75" y2="276.54" stroke="#111" stroke-width="0.8"/>
<line x1="321.75" y1="276.54" x2="325.75" y2="276.54" stroke="#111" stroke-width="0.8"/>
<line x1="325.50" y1="281.56" x2="325.50" y2="274.89" stroke="#111" stroke-width="0.8"/>
<line x1="323.50" y1="274.89" x2="327.50" y2="274.89" stroke="#111" stroke-width="0.8"/>
<line x1="327.25" y1="285.75" x2="327.25" y2="282.04" stroke="#111" stroke-width="0.8"/>
<line x1="325.25" y1="282.04" x2="329.25" y2="282.04" stroke="#111" stroke-width="0.8"/>
<line x1="329.00" y1="293.64" x2="329.00" y2="291.85" stroke="#111" stroke-width="0.8"/>
<line x1="327.00" y1="291.85" x2="331.00" y2="291.85" stroke="#111" stroke-width="0.8"/>
<line x1="330.75" y1="299.88" x2="330.75" y2="298.83" stroke="#111" stroke-width="0.8"/>
<line x1="328.75" y1="298.83" x2="332.75" y2="298.83" stroke="#111" stroke-width="0.8"/>
<line x1="332.50" y1="301.68" x2="332.50" y2="300.85" stroke="#111" stroke-width="0.8"/>
<line x1="330.50" y1="300.85" x2="334.50" y2="300.85" stroke="#111" stroke-width="0.8"/>
<line x1="334.25" y1="303.15" x2="334.25" y2="302.49" stroke="#111" stroke-width="0.8"/>
<line x1="332.25" y1="302.49" x2="336.25" y2="302.49" stroke="#111" stroke-width="0.8"/>
<path d="M309.80,296.03h3.4l-1.7,2.9z" fill="#111"/>
<path d="M311.55,286.72h3.4l-1.7,2.9z" fill="#111"/>
<path d="M313.30,285.82h3.4l-1.7,2.9z" fill="#111"/>
<path d="M315.05,289.55h3.4l-1.7,2.9z" fill="#111"/>
<path d="M316.80,291.45h3.4l-1.7,2.9z" fill="#111"/>
<path d="M318.55,287.54h3.4l-1.7,2.9z" fill="#111"/>
<path d="M320.30,283.99h3.4l-1.7,2.9z" fill="#111"/>
<path d="M322.05,281.37h3.4l-1.7,2.9z" fill="#111"/>
<path d="M323.80,280.26h3.4l-1.7,2.9z" fill="#111"/>
<path d="M325.55,284.45h3.4l-1.7,2.9z" fill="#111"/>
<path d="M327.30,292.34h3.4l-1.7,2.9z" fill="#111"/>
<path d="M329.05,298.58h3.4l-1.7,2.9z" fill="#111"/>
<path d="M330.80,300.38h3.4l-1.7,2.9z" fill="#111"/>
<path d="M332.55,301.85h3.4l-1.7,2.9z" fill="#111"/>
<path d="M334.30,302.36h3.4l-1.7,2.9z" fill="#111"/>
<path d="M336.05,302.88h3.4l-1.7,2.9z" fill="#111"/>
<path d="M337.80,303.40h3.4l-1.7,2.9z" fill="#111"/>
<path d="M339.55,303.80h3.4l-1.7,2.9z" fill="#111"/>
<path d="M341.30,304.01h3.4l-1.7,2.9z" fill="#111"/>
<path d="M343.05,304.22h3.4l-1.7,2.9z" fill="#111"/>
<path d="M344.80,304.42h3.4l-1.7,2.9z" fill="#111"/>
<path d="M346.55,304.70h3.4l-1.7,2.9z" fill="#111"/>
<path d="M348.30,304.96h3.4l-1.7,2.9z" fill="#111"/>
<polyline points="311.50,300.72 313.25,293.24 315.00,294.11 316.75,297.08 318.50,298.16 320.25,297.69 322.00,296.78 323.75,296.78 325.50,297.73 327.25,300.50 329.00,303.78 330.75,305.29 332.50,305.86 334.25,306.43 336.00,306.84 337.75,307.02 339.50,307.20 341.25,307.38" fill="none" stroke="#27b22a" stroke-width="2.0" stroke-linejoin="round" stroke-linecap="round"/>
<polyline points="337.75,307.02 339.50,307.20 341.25,307.38 343.00,307.57 344.75,307.75 346.50,307.93 348.25,308.01 350.00,308.07 351.75,308.12 353.50,308.16 355.25,308.20 357.00,308.23 358.75,308.26 360.50,308.29 362.25,308.31 364.00,308.33 365.75,308.35 367.50,308.37 369.25,308.38 371.00,308.40 372.75,308.41 374.50,308.42 376.25,308.43 378.00,308.44 379.75,308.45 381.50,308.45 383.25,308.46 385.00,308.47 386.75,308.47 388.50,308.48 390.25,308.49 392.00,308.49 393.75,308.50 395.50,308.50 397.25,308.60 399.00,308.60 400.75,308.51 402.50,308.51 404.25,308.52 406.00,308.52 407.75,308.52 409.50,308.53 411.25,308.53 413.00,308.53 414.75,308.53 416.50,308.53 418.25,308.54 420.00,308.54 421.75,308.54 423.50,308.54 425.25,308.54 427.00,308.54 428.75,308.55 430.50,308.55 432.25,308.55 434.00,308.55 435.75,308.55 437.50,308.55 439.25,308.55 441.00,308.55 442.75,308.55 444.50,308.56 446.25,308.56 448.00,308.56 449.75,308.56 451.50,308.56 453.25,308.56 455.00,308.56 456.75,308.56 458.50,308.56 460.25,308.56 462.00,308.56 463.75,308.56 465.50,308.56 467.25,308.56 469.00,308.57 470.75,308.57 472.50,308.57 474.25,308.57 476.00,308.57 477.75,308.57 479.50,308.57 481.25,308.57 483.00,308.57 484.75,308.57" fill="none" stroke="#27b22a" stroke-width="2.6" stroke-linejoin="round" stroke-linecap="round"/>
<line x1="311.50" y1="300.72" x2="311.50" y2="299.78" stroke="#27b22a" stroke-width="0.8"/>
<line x1="309.50" y1="299.78" x2="313.50" y2="299.78" stroke="#27b22a" stroke-width="0.8"/>
<line x1="313.25" y1="293.24" x2="313.25" y2="290.28" stroke="#27b22a" stroke-width="0.8"/>
<line x1="311.25" y1="290.28" x2="315.25" y2="290.28" stroke="#27b22a" stroke-width="0.8"/>
<line x1="315.00" y1="294.11" x2="315.00" y2="292.38" stroke="#27b22a" stroke-width="0.8"/>
<line x1="313.00" y1="292.38" x2="317.00" y2="292.38" stroke="#27b22a" stroke-width="0.8"/>
<line x1="316.75" y1="297.08" x2="316.75" y2="295.70" stroke="#27b22a" stroke-width="0.8"/>
<line x1="314.75" y1="295.70" x2="318.75" y2="295.70" stroke="#27b22a" stroke-width="0.8"/>
<line x1="318.50" y1="298.16" x2="318.50" y2="296.91" stroke="#27b22a" stroke-width="0.8"/>
<line x1="316.50" y1="296.91" x2="320.50" y2="296.91" stroke="#27b22a" stroke-width="0.8"/>
<line x1="320.25" y1="297.69" x2="320.25" y2="296.38" stroke="#27b22a" stroke-width="0.8"/>
<line x1="318.25" y1="296.38" x2="322.25" y2="296.38" stroke="#27b22a" stroke-width="0.8"/>
<line x1="322.00" y1="296.78" x2="322.00" y2="295.37" stroke="#27b22a" stroke-width="0.8"/>
<line x1="320.00" y1="295.37" x2="324.00" y2="295.37" stroke="#27b22a" stroke-width="0.8"/>
<line x1="323.75" y1="296.78" x2="323.75" y2="295.37" stroke="#27b22a" stroke-width="0.8"/>
<line x1="321.75" y1="295.37" x2="325.75" y2="295.37" stroke="#27b22a" stroke-width="0.8"/>
<line x1="325.50" y1="297.73" x2="325.50" y2="296.43" stroke="#27b22a" stroke-width="0.8"/>
<line x1="323.50" y1="296.43" x2="327.50" y2="296.43" stroke="#27b22a" stroke-width="0.8"/>
<line x1="327.25" y1="300.50" x2="327.25" y2="299.53" stroke="#27b22a" stroke-width="0.8"/>
<line x1="325.25" y1="299.53" x2="329.25" y2="299.53" stroke="#27b22a" stroke-width="0.8"/>
<line x1="329.00" y1="303.78" x2="329.00" y2="303.20" stroke="#27b22a" stroke-width="0.8"/>
<line x1="327.00" y1="303.20" x2="331.00" y2="303.20" stroke="#27b22a" stroke-width="0.8"/>
<line x1="330.75" y1="305.29" x2="330.75" y2="304.89" stroke="#27b22a" stroke-width="0.8"/>
<line x1="328.75" y1="304.89" x2="332.75" y2="304.89" stroke="#27b22a" stroke-width="0.8"/>
<line x1="332.50" y1="305.86" x2="332.50" y2="305.53" stroke="#27b22a" stroke-width="0.8"/>
<line x1="330.50" y1="305.53" x2="334.50" y2="305.53" stroke="#27b22a" stroke-width="0.8"/>
<line x1="334.25" y1="306.43" x2="334.25" y2="306.17" stroke="#27b22a" stroke-width="0.8"/>
<line x1="332.25" y1="306.17" x2="336.25" y2="306.17" stroke="#27b22a" stroke-width="0.8"/>
<path d="M309.80,299.42h3.4l-1.7,2.9z" fill="#27b22a"/>
<path d="M311.55,291.94h3.4l-1.7,2.9z" fill="#27b22a"/>
<path d="M313.30,292.81h3.4l-1.7,2.9z" fill="#27b22a"/>
<path d="M315.05,295.78h3.4l-1.7,2.9z" fill="#27b22a"/>
<path d="M316.80,296.86h3.4l-1.7,2.9z" fill="#27b22a"/>
<path d="M318.55,296.39h3.4l-1.7,2.9z" fill="#27b22a"/>
<path d="M320.30,295.48h3.4l-1.7,2.9z" fill="#27b22a"/>
<path d="M322.05,295.48h3.4l-1.7,2.9z" fill="#27b22a"/>
<path d="M323.80,296.43h3.4l-1.7,2.9z" fill="#27b22a"/>
<path d="M325.55,299.20h3.4l-1.7,2.9z" fill="#27b22a"/>
<path d="M327.30,302.48h3.4l-1.7,2.9z" fill="#27b22a"/>
<path d="M329.05,303.99h3.4l-1.7,2.9z" fill="#27b22a"/>
<path d="M330.80,304.56h3.4l-1.7,2.9z" fill="#27b22a"/>
<path d="M332.55,305.13h3.4l-1.7,2.9z" fill="#27b22a"/>
<path d="M334.30,305.54h3.4l-1.7,2.9z" fill="#27b22a"/>
<path d="M336.05,305.72h3.4l-1.7,2.9z" fill="#27b22a"/>
<path d="M337.80,305.90h3.4l-1.7,2.9z" fill="#27b22a"/>
<path d="M339.55,306.08h3.4l-1.7,2.9z" fill="#27b22a"/>
<path d="M341.30,306.27h3.4l-1.7,2.9z" fill="#27b22a"/>
<path d="M343.05,306.45h3.4l-1.7,2.9z" fill="#27b22a"/>
<path d="M344.80,306.63h3.4l-1.7,2.9z" fill="#27b22a"/>
<path d="M346.55,306.71h3.4l-1.7,2.9z" fill="#27b22a"/>
<path d="M348.30,306.77h3.4l-1.7,2.9z" fill="#27b22a"/>
<line x1="94.60" y1="322.40" x2="94.60" y2="368.90" stroke="#8a8a8a" stroke-width="1"/>
<line x1="92.00" y1="368.60" x2="94.60" y2="368.60" stroke="#8a8a8a" stroke-width="1"/>
<text x="86.80" y="371.60" font-size="8.5" text-anchor="end" textLength="28.0" lengthAdjust="spacingAndGlyphs" fill="#222" stroke="#222" stroke-width="0.12">0.E+00</text>
<line x1="92.00" y1="359.42" x2="94.60" y2="359.42" stroke="#8a8a8a" stroke-width="1"/>
<text x="86.80" y="362.42" font-size="8.5" text-anchor="end" textLength="25.0" lengthAdjust="spacingAndGlyphs" fill="#222" stroke="#222" stroke-width="0.12">1.E-03</text>
<line x1="92.00" y1="350.24" x2="94.60" y2="350.24" stroke="#8a8a8a" stroke-width="1"/>
<text x="86.80" y="353.24" font-size="8.5" text-anchor="end" textLength="25.0" lengthAdjust="spacingAndGlyphs" fill="#222" stroke="#222" stroke-width="0.12">2.E-03</text>
<line x1="92.00" y1="341.06" x2="94.60" y2="341.06" stroke="#8a8a8a" stroke-width="1"/>
<text x="86.80" y="344.06" font-size="8.5" text-anchor="end" textLength="25.0" lengthAdjust="spacingAndGlyphs" fill="#222" stroke="#222" stroke-width="0.12">3.E-03</text>
<line x1="92.00" y1="331.88" x2="94.60" y2="331.88" stroke="#8a8a8a" stroke-width="1"/>
<text x="86.80" y="334.88" font-size="8.5" text-anchor="end" textLength="25.0" lengthAdjust="spacingAndGlyphs" fill="#222" stroke="#222" stroke-width="0.12">4.E-03</text>
<line x1="92.00" y1="322.70" x2="94.60" y2="322.70" stroke="#8a8a8a" stroke-width="1"/>
<text x="86.80" y="325.70" font-size="8.5" text-anchor="end" textLength="25.0" lengthAdjust="spacingAndGlyphs" fill="#222" stroke="#222" stroke-width="0.12">5.E-03</text>
<polyline points="94.80,361.26 96.55,353.38 98.30,350.89 100.05,353.61 101.80,355.12 103.55,351.97 105.30,347.99 107.05,344.86 108.80,344.46 110.55,345.73 112.30,353.07 114.05,359.52 115.80,362.15 117.55,364.22 119.30,364.67 121.05,365.11 122.80,365.56 124.55,365.92" fill="none" stroke="#111" stroke-width="1.8" stroke-linejoin="round" stroke-linecap="round"/>
<polyline points="121.05,365.11 122.80,365.56 124.55,365.92 126.30,366.13 128.05,366.34 129.80,366.54 131.55,366.75 133.30,366.94 135.05,367.09 136.80,367.23 138.55,367.35 140.30,367.45 142.05,367.54 143.80,367.62 145.55,367.69 147.30,367.76 149.05,367.82 150.80,367.87 152.55,367.91 154.30,367.96 156.05,368.00 157.80,368.03 159.55,368.06 161.30,368.09 163.05,368.12 164.80,368.14 166.55,368.17 168.30,368.19 170.05,368.21 171.80,368.22 173.55,368.24 175.30,368.26 177.05,368.27 178.80,368.28 180.55,368.60 182.30,368.60 184.05,368.32 185.80,368.33 187.55,368.34 189.30,368.35 191.05,368.36 192.80,368.36 194.55,368.37 196.30,368.38 198.05,368.39 199.80,368.39 201.55,368.40 203.30,368.40 205.05,368.41 206.80,368.41 208.55,368.42 210.30,368.42 212.05,368.43 213.80,368.43 215.55,368.44 217.30,368.44 219.05,368.44 220.80,368.45 222.55,368.45 224.30,368.45 226.05,368.46 227.80,368.46 229.55,368.46 231.30,368.47 233.05,368.47 234.80,368.47 236.55,368.47 238.30,368.47 240.05,368.48 241.80,368.48 243.55,368.48 245.30,368.48 247.05,368.48 248.80,368.49 250.55,368.49 252.30,368.49 254.05,368.49 255.80,368.49 257.55,368.49 259.30,368.50 261.05,368.50 262.80,368.50 264.55,368.50 266.30,368.50 268.05,368.50" fill="none" stroke="#111" stroke-width="1.5" stroke-linejoin="round" stroke-linecap="round"/>
<line x1="94.80" y1="361.26" x2="94.80" y2="360.37" stroke="#111" stroke-width="0.8"/>
<line x1="92.80" y1="360.37" x2="96.80" y2="360.37" stroke="#111" stroke-width="0.8"/>
<line x1="96.55" y1="353.38" x2="96.55" y2="351.55" stroke="#111" stroke-width="0.8"/>
<line x1="94.55" y1="351.55" x2="98.55" y2="351.55" stroke="#111" stroke-width="0.8"/>
<line x1="98.30" y1="350.89" x2="98.30" y2="348.77" stroke="#111" stroke-width="0.8"/>
<line x1="96.30" y1="348.77" x2="100.30" y2="348.77" stroke="#111" stroke-width="0.8"/>
<line x1="100.05" y1="353.61" x2="100.05" y2="351.81" stroke="#111" stroke-width="0.8"/>
<line x1="98.05" y1="351.81" x2="102.05" y2="351.81" stroke="#111" stroke-width="0.8"/>
<line x1="101.80" y1="355.12" x2="101.80" y2="353.50" stroke="#111" stroke-width="0.8"/>
<line x1="99.80" y1="353.50" x2="103.80" y2="353.50" stroke="#111" stroke-width="0.8"/>
<line x1="103.55" y1="351.97" x2="103.55" y2="349.97" stroke="#111" stroke-width="0.8"/>
<line x1="101.55" y1="349.97" x2="105.55" y2="349.97" stroke="#111" stroke-width="0.8"/>
<line x1="105.30" y1="347.99" x2="105.30" y2="345.52" stroke="#111" stroke-width="0.8"/>
<line x1="103.30" y1="345.52" x2="107.30" y2="345.52" stroke="#111" stroke-width="0.8"/>
<line x1="107.05" y1="344.86" x2="107.05" y2="342.01" stroke="#111" stroke-width="0.8"/>
<line x1="105.05" y1="342.01" x2="109.05" y2="342.01" stroke="#111" stroke-width="0.8"/>
<line x1="108.80" y1="344.46" x2="108.80" y2="341.56" stroke="#111" stroke-width="0.8"/>
<line x1="106.80" y1="341.56" x2="110.80" y2="341.56" stroke="#111" stroke-width="0.8"/>
<line x1="110.55" y1="345.73" x2="110.55" y2="342.99" stroke="#111" stroke-width="0.8"/>
<line x1="108.55" y1="342.99" x2="112.55" y2="342.99" stroke="#111" stroke-width="0.8"/>
<line x1="112.30" y1="353.07" x2="112.30" y2="351.16" stroke="#111" stroke-width="0.8"/>
<line x1="110.30" y1="351.16" x2="114.30" y2="351.16" stroke="#111" stroke-width="0.8"/>
<line x1="114.05" y1="359.52" x2="114.05" y2="358.43" stroke="#111" stroke-width="0.8"/>
<line x1="112.05" y1="358.43" x2="116.05" y2="358.43" stroke="#111" stroke-width="0.8"/>
<line x1="115.80" y1="362.15" x2="115.80" y2="361.37" stroke="#111" stroke-width="0.8"/>
<line x1="113.80" y1="361.37" x2="117.80" y2="361.37" stroke="#111" stroke-width="0.8"/>
<line x1="117.55" y1="364.22" x2="117.55" y2="363.69" stroke="#111" stroke-width="0.8"/>
<line x1="115.55" y1="363.69" x2="119.55" y2="363.69" stroke="#111" stroke-width="0.8"/>
<path d="M93.10,359.96h3.4l-1.7,2.9z" fill="#111"/>
<path d="M94.85,352.08h3.4l-1.7,2.9z" fill="#111"/>
<path d="M96.60,349.59h3.4l-1.7,2.9z" fill="#111"/>
<path d="M98.35,352.31h3.4l-1.7,2.9z" fill="#111"/>
<path d="M100.10,353.82h3.4l-1.7,2.9z" fill="#111"/>
<path d="M101.85,350.67h3.4l-1.7,2.9z" fill="#111"/>
<path d="M103.60,346.69h3.4l-1.7,2.9z" fill="#111"/>
<path d="M105.35,343.56h3.4l-1.7,2.9z" fill="#111"/>
<path d="M107.10,343.16h3.4l-1.7,2.9z" fill="#111"/>
<path d="M108.85,344.43h3.4l-1.7,2.9z" fill="#111"/>
<path d="M110.60,351.77h3.4l-1.7,2.9z" fill="#111"/>
<path d="M112.35,358.22h3.4l-1.7,2.9z" fill="#111"/>
<path d="M114.10,360.85h3.4l-1.7,2.9z" fill="#111"/>
<path d="M115.85,362.92h3.4l-1.7,2.9z" fill="#111"/>
<path d="M117.60,363.37h3.4l-1.7,2.9z" fill="#111"/>
<path d="M119.35,363.81h3.4l-1.7,2.9z" fill="#111"/>
<path d="M121.10,364.26h3.4l-1.7,2.9z" fill="#111"/>
<path d="M122.85,364.62h3.4l-1.7,2.9z" fill="#111"/>
<path d="M124.60,364.83h3.4l-1.7,2.9z" fill="#111"/>
<path d="M126.35,365.04h3.4l-1.7,2.9z" fill="#111"/>
<path d="M128.10,365.24h3.4l-1.7,2.9z" fill="#111"/>
<path d="M129.85,365.45h3.4l-1.7,2.9z" fill="#111"/>
<path d="M131.60,365.64h3.4l-1.7,2.9z" fill="#111"/>
<polyline points="94.80,360.80 96.55,352.76 98.30,350.40 100.05,353.15 101.80,354.75 103.55,351.87 105.30,348.17 107.05,345.30 108.80,345.57 110.55,348.09 112.30,355.13 114.05,361.05 115.80,362.80 117.55,364.22 119.30,364.67 121.05,365.11 122.80,365.56 124.55,365.92" fill="none" stroke="#27b22a" stroke-width="2.0" stroke-linejoin="round" stroke-linecap="round"/>
<polyline points="121.05,365.11 122.80,365.56 124.55,365.92 126.30,366.13 128.05,366.34 129.80,366.54 131.55,366.75 133.30,366.94 135.05,367.09 136.80,367.23 138.55,367.35 140.30,367.45 142.05,367.54 143.80,367.62 145.55,367.69 147.30,367.76 149.05,367.82 150.80,367.87 152.55,367.91 154.30,367.96 156.05,368.00 157.80,368.03 159.55,368.06 161.30,368.09 163.05,368.12 164.80,368.14 166.55,368.17 168.30,368.19 170.05,368.21 171.80,368.22 173.55,368.24 175.30,368.26 177.05,368.27 178.80,368.28 180.55,368.60 182.30,368.60 184.05,368.32 185.80,368.33 187.55,368.34 189.30,368.35 191.05,368.36 192.80,368.36 194.55,368.37 196.30,368.38 198.05,368.39 199.80,368.39 201.55,368.40 203.30,368.40 205.05,368.41 206.80,368.41 208.55,368.42 210.30,368.42 212.05,368.43 213.80,368.43 215.55,368.44 217.30,368.44 219.05,368.44 220.80,368.45 222.55,368.45 224.30,368.45 226.05,368.46 227.80,368.46 229.55,368.46 231.30,368.47 233.05,368.47 234.80,368.47 236.55,368.47 238.30,368.47 240.05,368.48 241.80,368.48 243.55,368.48 245.30,368.48 247.05,368.48 248.80,368.49 250.55,368.49 252.30,368.49 254.05,368.49 255.80,368.49 257.55,368.49 259.30,368.50 261.05,368.50 262.80,368.50 264.55,368.50 266.30,368.50 268.05,368.50" fill="none" stroke="#27b22a" stroke-width="2.6" stroke-linejoin="round" stroke-linecap="round"/>
<line x1="94.80" y1="360.80" x2="94.80" y2="359.86" stroke="#27b22a" stroke-width="0.8"/>
<line x1="92.80" y1="359.86" x2="96.80" y2="359.86" stroke="#27b22a" stroke-width="0.8"/>
<line x1="96.55" y1="352.76" x2="96.55" y2="348.40" stroke="#27b22a" stroke-width="0.8"/>
<line x1="94.55" y1="348.40" x2="98.55" y2="348.40" stroke="#27b22a" stroke-width="0.8"/>
<line x1="98.30" y1="350.40" x2="98.30" y2="348.22" stroke="#27b22a" stroke-width="0.8"/>
<line x1="96.30" y1="348.22" x2="100.30" y2="348.22" stroke="#27b22a" stroke-width="0.8"/>
<line x1="100.05" y1="353.15" x2="100.05" y2="351.30" stroke="#27b22a" stroke-width="0.8"/>
<line x1="98.05" y1="351.30" x2="102.05" y2="351.30" stroke="#27b22a" stroke-width="0.8"/>
<line x1="101.80" y1="354.75" x2="101.80" y2="353.09" stroke="#27b22a" stroke-width="0.8"/>
<line x1="99.80" y1="353.09" x2="103.80" y2="353.09" stroke="#27b22a" stroke-width="0.8"/>
<line x1="103.55" y1="351.87" x2="103.55" y2="349.86" stroke="#27b22a" stroke-width="0.8"/>
<line x1="101.55" y1="349.86" x2="105.55" y2="349.86" stroke="#27b22a" stroke-width="0.8"/>
<line x1="105.30" y1="348.17" x2="105.30" y2="345.72" stroke="#27b22a" stroke-width="0.8"/>
<line x1="103.30" y1="345.72" x2="107.30" y2="345.72" stroke="#27b22a" stroke-width="0.8"/>
<line x1="107.05" y1="345.30" x2="107.05" y2="342.50" stroke="#27b22a" stroke-width="0.8"/>
<line x1="105.05" y1="342.50" x2="109.05" y2="342.50" stroke="#27b22a" stroke-width="0.8"/>
<line x1="108.80" y1="345.57" x2="108.80" y2="341.98" stroke="#27b22a" stroke-width="0.8"/>
<line x1="106.80" y1="341.98" x2="110.80" y2="341.98" stroke="#27b22a" stroke-width="0.8"/>
<line x1="110.55" y1="348.09" x2="110.55" y2="345.63" stroke="#27b22a" stroke-width="0.8"/>
<line x1="108.55" y1="345.63" x2="112.55" y2="345.63" stroke="#27b22a" stroke-width="0.8"/>
<line x1="112.30" y1="355.13" x2="112.30" y2="353.51" stroke="#27b22a" stroke-width="0.8"/>
<line x1="110.30" y1="353.51" x2="114.30" y2="353.51" stroke="#27b22a" stroke-width="0.8"/>
<line x1="114.05" y1="361.05" x2="114.05" y2="360.14" stroke="#27b22a" stroke-width="0.8"/>
<line x1="112.05" y1="360.14" x2="116.05" y2="360.14" stroke="#27b22a" stroke-width="0.8"/>
<line x1="115.80" y1="362.80" x2="115.80" y2="362.10" stroke="#27b22a" stroke-width="0.8"/>
<line x1="113.80" y1="362.10" x2="117.80" y2="362.10" stroke="#27b22a" stroke-width="0.8"/>
<line x1="117.55" y1="364.22" x2="117.55" y2="363.69" stroke="#27b22a" stroke-width="0.8"/>
<line x1="115.55" y1="363.69" x2="119.55" y2="363.69" stroke="#27b22a" stroke-width="0.8"/>
<path d="M93.10,359.50h3.4l-1.7,2.9z" fill="#27b22a"/>
<path d="M94.85,351.46h3.4l-1.7,2.9z" fill="#27b22a"/>
<path d="M96.60,349.10h3.4l-1.7,2.9z" fill="#27b22a"/>
<path d="M98.35,351.85h3.4l-1.7,2.9z" fill="#27b22a"/>
<path d="M100.10,353.45h3.4l-1.7,2.9z" fill="#27b22a"/>
<path d="M101.85,350.57h3.4l-1.7,2.9z" fill="#27b22a"/>
<path d="M103.60,346.87h3.4l-1.7,2.9z" fill="#27b22a"/>
<path d="M105.35,344.00h3.4l-1.7,2.9z" fill="#27b22a"/>
<path d="M107.10,344.27h3.4l-1.7,2.9z" fill="#27b22a"/>
<path d="M108.85,346.79h3.4l-1.7,2.9z" fill="#27b22a"/>
<path d="M110.60,353.83h3.4l-1.7,2.9z" fill="#27b22a"/>
<path d="M112.35,359.75h3.4l-1.7,2.9z" fill="#27b22a"/>
<path d="M114.10,361.50h3.4l-1.7,2.9z" fill="#27b22a"/>
<path d="M115.85,362.92h3.4l-1.7,2.9z" fill="#27b22a"/>
<path d="M117.60,363.37h3.4l-1.7,2.9z" fill="#27b22a"/>
<path d="M119.35,363.81h3.4l-1.7,2.9z" fill="#27b22a"/>
<path d="M121.10,364.26h3.4l-1.7,2.9z" fill="#27b22a"/>
<path d="M122.85,364.62h3.4l-1.7,2.9z" fill="#27b22a"/>
<path d="M124.60,364.83h3.4l-1.7,2.9z" fill="#27b22a"/>
<path d="M126.35,365.04h3.4l-1.7,2.9z" fill="#27b22a"/>
<path d="M128.10,365.24h3.4l-1.7,2.9z" fill="#27b22a"/>
<path d="M129.85,365.45h3.4l-1.7,2.9z" fill="#27b22a"/>
<path d="M131.60,365.64h3.4l-1.7,2.9z" fill="#27b22a"/>
<line x1="311.30" y1="322.90" x2="311.30" y2="369.50" stroke="#8a8a8a" stroke-width="1"/>
<line x1="308.70" y1="369.20" x2="311.30" y2="369.20" stroke="#8a8a8a" stroke-width="1"/>
<text x="303.50" y="372.20" font-size="8.5" text-anchor="end" textLength="28.0" lengthAdjust="spacingAndGlyphs" fill="#222" stroke="#222" stroke-width="0.12">0.E+00</text>
<line x1="308.70" y1="360.00" x2="311.30" y2="360.00" stroke="#8a8a8a" stroke-width="1"/>
<text x="303.50" y="363.00" font-size="8.5" text-anchor="end" textLength="25.0" lengthAdjust="spacingAndGlyphs" fill="#222" stroke="#222" stroke-width="0.12">1.E-03</text>
<line x1="308.70" y1="350.80" x2="311.30" y2="350.80" stroke="#8a8a8a" stroke-width="1"/>
<text x="303.50" y="353.80" font-size="8.5" text-anchor="end" textLength="25.0" lengthAdjust="spacingAndGlyphs" fill="#222" stroke="#222" stroke-width="0.12">2.E-03</text>
<line x1="308.70" y1="341.60" x2="311.30" y2="341.60" stroke="#8a8a8a" stroke-width="1"/>
<text x="303.50" y="344.60" font-size="8.5" text-anchor="end" textLength="25.0" lengthAdjust="spacingAndGlyphs" fill="#222" stroke="#222" stroke-width="0.12">3.E-03</text>
<line x1="308.70" y1="332.40" x2="311.30" y2="332.40" stroke="#8a8a8a" stroke-width="1"/>
<text x="303.50" y="335.40" font-size="8.5" text-anchor="end" textLength="25.0" lengthAdjust="spacingAndGlyphs" fill="#222" stroke="#222" stroke-width="0.12">4.E-03</text>
<line x1="308.70" y1="323.20" x2="311.30" y2="323.20" stroke="#8a8a8a" stroke-width="1"/>
<text x="303.50" y="326.20" font-size="8.5" text-anchor="end" textLength="25.0" lengthAdjust="spacingAndGlyphs" fill="#222" stroke="#222" stroke-width="0.12">5.E-03</text>
<polyline points="311.50,360.18 313.25,351.94 315.00,352.82 316.75,353.92 318.50,354.02 320.25,349.73 322.00,346.27 323.75,344.23 325.50,344.95 327.25,349.11 329.00,356.98 330.75,362.14 332.50,363.60 334.25,364.77 336.00,365.08 337.75,365.39 339.50,365.69 341.25,365.95" fill="none" stroke="#111" stroke-width="1.8" stroke-linejoin="round" stroke-linecap="round"/>
<polyline points="337.75,365.39 339.50,365.69 341.25,365.95 343.00,366.10 344.75,366.26 346.50,366.41 348.25,366.68 350.00,366.93 351.75,367.14 353.50,367.32 355.25,367.49 357.00,367.63 358.75,367.75 360.50,367.86 362.25,367.96 364.00,368.05 365.75,368.13 367.50,368.20 369.25,368.26 371.00,368.32 372.75,368.37 374.50,368.42 376.25,368.47 378.00,368.50 379.75,368.54 381.50,368.58 383.25,368.61 385.00,368.63 386.75,368.66 388.50,368.69 390.25,368.71 392.00,368.73 393.75,368.75 395.50,368.77 397.25,369.20 399.00,369.20 400.75,368.82 402.50,368.83 404.25,368.84 406.00,368.85 407.75,368.87 409.50,368.88 411.25,368.89 413.00,368.90 414.75,368.91 416.50,368.92 418.25,368.92 420.00,368.93 421.75,368.94 423.50,368.95 425.25,368.95 427.00,368.96 428.75,368.97 430.50,368.97 432.25,368.98 434.00,368.98 435.75,368.99 437.50,368.99 439.25,369.00 441.00,369.00 442.75,369.00 444.50,369.01 446.25,369.01 448.00,369.02 449.75,369.02 451.50,369.02 453.25,369.03 455.00,369.03 456.75,369.03 458.50,369.03 460.25,369.04 462.00,369.04 463.75,369.04 465.50,369.05 467.25,369.05 469.00,369.05 470.75,369.05 472.50,369.05 474.25,369.06 476.00,369.06 477.75,369.06 479.50,369.06 481.25,369.06 483.00,369.07 484.75,369.07" fill="none" stroke="#111" stroke-width="1.5" stroke-linejoin="round" stroke-linecap="round"/>
<line x1="311.50" y1="360.18" x2="311.50" y2="359.10" stroke="#111" stroke-width="0.8"/>
<line x1="309.50" y1="359.10" x2="313.50" y2="359.10" stroke="#111" stroke-width="0.8"/>
<line x1="313.25" y1="351.94" x2="313.25" y2="349.60" stroke="#111" stroke-width="0.8"/>
<line x1="311.25" y1="349.60" x2="315.25" y2="349.60" stroke="#111" stroke-width="0.8"/>
<line x1="315.00" y1="352.82" x2="315.00" y2="350.80" stroke="#111" stroke-width="0.8"/>
<line x1="313.00" y1="350.80" x2="317.00" y2="350.80" stroke="#111" stroke-width="0.8"/>
<line x1="316.75" y1="353.92" x2="316.75" y2="352.09" stroke="#111" stroke-width="0.8"/>
<line x1="314.75" y1="352.09" x2="318.75" y2="352.09" stroke="#111" stroke-width="0.8"/>
<line x1="318.50" y1="354.02" x2="318.50" y2="352.20" stroke="#111" stroke-width="0.8"/>
<line x1="316.50" y1="352.20" x2="320.50" y2="352.20" stroke="#111" stroke-width="0.8"/>
<line x1="320.25" y1="349.73" x2="320.25" y2="347.40" stroke="#111" stroke-width="0.8"/>
<line x1="318.25" y1="347.40" x2="322.25" y2="347.40" stroke="#111" stroke-width="0.8"/>
<line x1="322.00" y1="346.27" x2="322.00" y2="341.60" stroke="#111" stroke-width="0.8"/>
<line x1="320.00" y1="341.60" x2="324.00" y2="341.60" stroke="#111" stroke-width="0.8"/>
<line x1="323.75" y1="344.23" x2="323.75" y2="341.23" stroke="#111" stroke-width="0.8"/>
<line x1="321.75" y1="341.23" x2="325.75" y2="341.23" stroke="#111" stroke-width="0.8"/>
<line x1="325.50" y1="344.95" x2="325.50" y2="337.83" stroke="#111" stroke-width="0.8"/>
<line x1="323.50" y1="337.83" x2="327.50" y2="337.83" stroke="#111" stroke-width="0.8"/>
<line x1="327.25" y1="349.11" x2="327.25" y2="345.28" stroke="#111" stroke-width="0.8"/>
<line x1="325.25" y1="345.28" x2="329.25" y2="345.28" stroke="#111" stroke-width="0.8"/>
<line x1="329.00" y1="356.98" x2="329.00" y2="355.51" stroke="#111" stroke-width="0.8"/>
<line x1="327.00" y1="355.51" x2="331.00" y2="355.51" stroke="#111" stroke-width="0.8"/>
<line x1="330.75" y1="362.14" x2="330.75" y2="361.29" stroke="#111" stroke-width="0.8"/>
<line x1="328.75" y1="361.29" x2="332.75" y2="361.29" stroke="#111" stroke-width="0.8"/>
<line x1="332.50" y1="363.60" x2="332.50" y2="362.93" stroke="#111" stroke-width="0.8"/>
<line x1="330.50" y1="362.93" x2="334.50" y2="362.93" stroke="#111" stroke-width="0.8"/>
<line x1="334.25" y1="364.77" x2="334.25" y2="364.24" stroke="#111" stroke-width="0.8"/>
<line x1="332.25" y1="364.24" x2="336.25" y2="364.24" stroke="#111" stroke-width="0.8"/>
<path d="M309.80,358.88h3.4l-1.7,2.9z" fill="#111"/>
<path d="M311.55,350.64h3.4l-1.7,2.9z" fill="#111"/>
<path d="M313.30,351.52h3.4l-1.7,2.9z" fill="#111"/>
<path d="M315.05,352.62h3.4l-1.7,2.9z" fill="#111"/>
<path d="M316.80,352.72h3.4l-1.7,2.9z" fill="#111"/>
<path d="M318.55,348.43h3.4l-1.7,2.9z" fill="#111"/>
<path d="M320.30,344.97h3.4l-1.7,2.9z" fill="#111"/>
<path d="M322.05,342.93h3.4l-1.7,2.9z" fill="#111"/>
<path d="M323.80,343.65h3.4l-1.7,2.9z" fill="#111"/>
<path d="M325.55,347.81h3.4l-1.7,2.9z" fill="#111"/>
<path d="M327.30,355.68h3.4l-1.7,2.9z" fill="#111"/>
<path d="M329.05,360.84h3.4l-1.7,2.9z" fill="#111"/>
<path d="M330.80,362.30h3.4l-1.7,2.9z" fill="#111"/>
<path d="M332.55,363.47h3.4l-1.7,2.9z" fill="#111"/>
<path d="M334.30,363.78h3.4l-1.7,2.9z" fill="#111"/>
<path d="M336.05,364.09h3.4l-1.7,2.9z" fill="#111"/>
<path d="M337.80,364.39h3.4l-1.7,2.9z" fill="#111"/>
<path d="M339.55,364.65h3.4l-1.7,2.9z" fill="#111"/>
<path d="M341.30,364.80h3.4l-1.7,2.9z" fill="#111"/>
<path d="M343.05,364.96h3.4l-1.7,2.9z" fill="#111"/>
<path d="M344.80,365.11h3.4l-1.7,2.9z" fill="#111"/>
<path d="M346.55,365.38h3.4l-1.7,2.9z" fill="#111"/>
<path d="M348.30,365.63h3.4l-1.7,2.9z" fill="#111"/>
<polyline points="311.50,363.04 313.25,357.19 315.00,359.38 316.75,360.86 318.50,361.68 320.25,360.59 322.00,359.10 323.75,357.44 325.50,357.88 327.25,361.59 329.00,364.94 330.75,366.49 332.50,366.82 334.25,367.16 336.00,367.43 337.75,367.60 339.50,367.76 341.25,367.93" fill="none" stroke="#27b22a" stroke-width="2.0" stroke-linejoin="round" stroke-linecap="round"/>
<polyline points="337.75,367.60 339.50,367.76 341.25,367.93 343.00,368.10 344.75,368.27 346.50,368.44 348.25,368.53 350.00,368.59 351.75,368.65 353.50,368.70 355.25,368.74 357.00,368.78 358.75,368.81 360.50,368.84 362.25,368.87 364.00,368.89 365.75,368.91 367.50,368.93 369.25,368.95 371.00,368.97 372.75,368.98 374.50,368.99 376.25,369.00 378.00,369.01 379.75,369.02 381.50,369.03 383.25,369.04 385.00,369.05 386.75,369.06 388.50,369.06 390.25,369.07 392.00,369.07 393.75,369.08 395.50,369.08 397.25,369.20 399.00,369.20 400.75,369.10 402.50,369.10 404.25,369.10 406.00,369.11 407.75,369.11 409.50,369.11 411.25,369.12 413.00,369.12 414.75,369.12 416.50,369.12 418.25,369.13 420.00,369.13 421.75,369.13 423.50,369.13 425.25,369.13 427.00,369.14 428.75,369.14 430.50,369.14 432.25,369.14 434.00,369.14 435.75,369.14 437.50,369.14 439.25,369.15 441.00,369.15 442.75,369.15 444.50,369.15 446.25,369.15 448.00,369.15 449.75,369.15 451.50,369.15 453.25,369.15 455.00,369.15 456.75,369.16 458.50,369.16 460.25,369.16 462.00,369.16 463.75,369.16 465.50,369.16 467.25,369.16 469.00,369.16 470.75,369.16 472.50,369.16 474.25,369.16 476.00,369.16 477.75,369.16 479.50,369.16 481.25,369.16 483.00,369.16 484.75,369.16" fill="none" stroke="#27b22a" stroke-width="2.6" stroke-linejoin="round" stroke-linecap="round"/>
<line x1="311.50" y1="363.04" x2="311.50" y2="362.30" stroke="#27b22a" stroke-width="0.8"/>
<line x1="309.50" y1="362.30" x2="313.50" y2="362.30" stroke="#27b22a" stroke-width="0.8"/>
<line x1="313.25" y1="357.19" x2="313.25" y2="355.74" stroke="#27b22a" stroke-width="0.8"/>
<line x1="311.25" y1="355.74" x2="315.25" y2="355.74" stroke="#27b22a" stroke-width="0.8"/>
<line x1="315.00" y1="359.38" x2="315.00" y2="358.20" stroke="#27b22a" stroke-width="0.8"/>
<line x1="313.00" y1="358.20" x2="317.00" y2="358.20" stroke="#27b22a" stroke-width="0.8"/>
<line x1="316.75" y1="360.86" x2="316.75" y2="359.86" stroke="#27b22a" stroke-width="0.8"/>
<line x1="314.75" y1="359.86" x2="318.75" y2="359.86" stroke="#27b22a" stroke-width="0.8"/>
<line x1="318.50" y1="361.68" x2="318.50" y2="360.78" stroke="#27b22a" stroke-width="0.8"/>
<line x1="316.50" y1="360.78" x2="320.50" y2="360.78" stroke="#27b22a" stroke-width="0.8"/>
<line x1="320.25" y1="360.59" x2="320.25" y2="359.56" stroke="#27b22a" stroke-width="0.8"/>
<line x1="318.25" y1="359.56" x2="322.25" y2="359.56" stroke="#27b22a" stroke-width="0.8"/>
<line x1="322.00" y1="359.10" x2="322.00" y2="357.89" stroke="#27b22a" stroke-width="0.8"/>
<line x1="320.00" y1="357.89" x2="324.00" y2="357.89" stroke="#27b22a" stroke-width="0.8"/>
<line x1="323.75" y1="357.44" x2="323.75" y2="356.02" stroke="#27b22a" stroke-width="0.8"/>
<line x1="321.75" y1="356.02" x2="325.75" y2="356.02" stroke="#27b22a" stroke-width="0.8"/>
<line x1="325.50" y1="357.88" x2="325.50" y2="356.52" stroke="#27b22a" stroke-width="0.8"/>
<line x1="323.50" y1="356.52" x2="327.50" y2="356.52" stroke="#27b22a" stroke-width="0.8"/>
<line x1="327.25" y1="361.59" x2="327.25" y2="360.68" stroke="#27b22a" stroke-width="0.8"/>
<line x1="325.25" y1="360.68" x2="329.25" y2="360.68" stroke="#27b22a" stroke-width="0.8"/>
<line x1="329.00" y1="364.94" x2="329.00" y2="364.43" stroke="#27b22a" stroke-width="0.8"/>
<line x1="327.00" y1="364.43" x2="331.00" y2="364.43" stroke="#27b22a" stroke-width="0.8"/>
<line x1="330.75" y1="366.49" x2="330.75" y2="366.16" stroke="#27b22a" stroke-width="0.8"/>
<line x1="328.75" y1="366.16" x2="332.75" y2="366.16" stroke="#27b22a" stroke-width="0.8"/>
<line x1="332.50" y1="366.82" x2="332.50" y2="366.54" stroke="#27b22a" stroke-width="0.8"/>
<line x1="330.50" y1="366.54" x2="334.50" y2="366.54" stroke="#27b22a" stroke-width="0.8"/>
<line x1="334.25" y1="367.16" x2="334.25" y2="366.91" stroke="#27b22a" stroke-width="0.8"/>
<line x1="332.25" y1="366.91" x2="336.25" y2="366.91" stroke="#27b22a" stroke-width="0.8"/>
<path d="M309.80,361.74h3.4l-1.7,2.9z" fill="#27b22a"/>
<path d="M311.55,355.89h3.4l-1.7,2.9z" fill="#27b22a"/>
<path d="M313.30,358.08h3.4l-1.7,2.9z" fill="#27b22a"/>
<path d="M315.05,359.56h3.4l-1.7,2.9z" fill="#27b22a"/>
<path d="M316.80,360.38h3.4l-1.7,2.9z" fill="#27b22a"/>
<path d="M318.55,359.29h3.4l-1.7,2.9z" fill="#27b22a"/>
<path d="M320.30,357.80h3.4l-1.7,2.9z" fill="#27b22a"/>
<path d="M322.05,356.14h3.4l-1.7,2.9z" fill="#27b22a"/>
<path d="M323.80,356.58h3.4l-1.7,2.9z" fill="#27b22a"/>
<path d="M325.55,360.29h3.4l-1.7,2.9z" fill="#27b22a"/>
<path d="M327.30,363.64h3.4l-1.7,2.9z" fill="#27b22a"/>
<path d="M329.05,365.19h3.4l-1.7,2.9z" fill="#27b22a"/>
<path d="M330.80,365.52h3.4l-1.7,2.9z" fill="#27b22a"/>
<path d="M332.55,365.86h3.4l-1.7,2.9z" fill="#27b22a"/>
<path d="M334.30,366.13h3.4l-1.7,2.9z" fill="#27b22a"/>
<path d="M336.05,366.30h3.4l-1.7,2.9z" fill="#27b22a"/>
<path d="M337.80,366.46h3.4l-1.7,2.9z" fill="#27b22a"/>
<path d="M339.55,366.63h3.4l-1.7,2.9z" fill="#27b22a"/>
<path d="M341.30,366.80h3.4l-1.7,2.9z" fill="#27b22a"/>
<path d="M343.05,366.97h3.4l-1.7,2.9z" fill="#27b22a"/>
<path d="M344.80,367.14h3.4l-1.7,2.9z" fill="#27b22a"/>
<path d="M346.55,367.23h3.4l-1.7,2.9z" fill="#27b22a"/>
<path d="M348.30,367.29h3.4l-1.7,2.9z" fill="#27b22a"/>
<line x1="94.60" y1="382.00" x2="94.60" y2="427.90" stroke="#8a8a8a" stroke-width="1"/>
<line x1="92.00" y1="427.60" x2="94.60" y2="427.60" stroke="#8a8a8a" stroke-width="1"/>
<text x="86.80" y="430.60" font-size="8.5" text-anchor="end" textLength="28.0" lengthAdjust="spacingAndGlyphs" fill="#222" stroke="#222" stroke-width="0.12">0.E+00</text>
<line x1="92.00" y1="418.54" x2="94.60" y2="418.54" stroke="#8a8a8a" stroke-width="1"/>
<text x="86.80" y="421.54" font-size="8.5" text-anchor="end" textLength="25.0" lengthAdjust="spacingAndGlyphs" fill="#222" stroke="#222" stroke-width="0.12">1.E-03</text>
<line x1="92.00" y1="409.48" x2="94.60" y2="409.48" stroke="#8a8a8a" stroke-width="1"/>
<text x="86.80" y="412.48" font-size="8.5" text-anchor="end" textLength="25.0" lengthAdjust="spacingAndGlyphs" fill="#222" stroke="#222" stroke-width="0.12">2.E-03</text>
<line x1="92.00" y1="400.42" x2="94.60" y2="400.42" stroke="#8a8a8a" stroke-width="1"/>
<text x="86.80" y="403.42" font-size="8.5" text-anchor="end" textLength="25.0" lengthAdjust="spacingAndGlyphs" fill="#222" stroke="#222" stroke-width="0.12">3.E-03</text>
<line x1="92.00" y1="391.36" x2="94.60" y2="391.36" stroke="#8a8a8a" stroke-width="1"/>
<text x="86.80" y="394.36" font-size="8.5" text-anchor="end" textLength="25.0" lengthAdjust="spacingAndGlyphs" fill="#222" stroke="#222" stroke-width="0.12">4.E-03</text>
<line x1="92.00" y1="382.30" x2="94.60" y2="382.30" stroke="#8a8a8a" stroke-width="1"/>
<text x="86.80" y="385.30" font-size="8.5" text-anchor="end" textLength="25.0" lengthAdjust="spacingAndGlyphs" fill="#222" stroke="#222" stroke-width="0.12">5.E-03</text>
<line x1="94.60" y1="427.60" x2="269.20" y2="427.60" stroke="#aaa" stroke-width="1.2"/>
<line x1="94.60" y1="427.60" x2="94.60" y2="430.20" stroke="#aaa" stroke-width="0.9"/>
<line x1="99.82" y1="427.60" x2="99.82" y2="430.20" stroke="#aaa" stroke-width="0.9"/>
<line x1="105.04" y1="427.60" x2="105.04" y2="430.20" stroke="#aaa" stroke-width="0.9"/>
<line x1="110.26" y1="427.60" x2="110.26" y2="430.20" stroke="#aaa" stroke-width="0.9"/>
<line x1="115.48" y1="427.60" x2="115.48" y2="430.20" stroke="#aaa" stroke-width="0.9"/>
<line x1="120.70" y1="427.60" x2="120.70" y2="430.20" stroke="#aaa" stroke-width="0.9"/>
<line x1="125.92" y1="427.60" x2="125.92" y2="430.20" stroke="#aaa" stroke-width="0.9"/>
<line x1="131.14" y1="427.60" x2="131.14" y2="430.20" stroke="#aaa" stroke-width="0.9"/>
<line x1="136.36" y1="427.60" x2="136.36" y2="430.20" stroke="#aaa" stroke-width="0.9"/>
<line x1="141.58" y1="427.60" x2="141.58" y2="430.20" stroke="#aaa" stroke-width="0.9"/>
<line x1="146.80" y1="427.60" x2="146.80" y2="430.20" stroke="#aaa" stroke-width="0.9"/>
<line x1="152.02" y1="427.60" x2="152.02" y2="430.20" stroke="#aaa" stroke-width="0.9"/>
<line x1="157.24" y1="427.60" x2="157.24" y2="430.20" stroke="#aaa" stroke-width="0.9"/>
<line x1="162.46" y1="427.60" x2="162.46" y2="430.20" stroke="#aaa" stroke-width="0.9"/>
<line x1="167.68" y1="427.60" x2="167.68" y2="430.20" stroke="#aaa" stroke-width="0.9"/>
<line x1="172.90" y1="427.60" x2="172.90" y2="430.20" stroke="#aaa" stroke-width="0.9"/>
<line x1="178.12" y1="427.60" x2="178.12" y2="430.20" stroke="#aaa" stroke-width="0.9"/>
<line x1="183.34" y1="427.60" x2="183.34" y2="430.20" stroke="#aaa" stroke-width="0.9"/>
<line x1="188.56" y1="427.60" x2="188.56" y2="430.20" stroke="#aaa" stroke-width="0.9"/>
<line x1="193.78" y1="427.60" x2="193.78" y2="430.20" stroke="#aaa" stroke-width="0.9"/>
<line x1="199.00" y1="427.60" x2="199.00" y2="430.20" stroke="#aaa" stroke-width="0.9"/>
<line x1="204.22" y1="427.60" x2="204.22" y2="430.20" stroke="#aaa" stroke-width="0.9"/>
<line x1="209.44" y1="427.60" x2="209.44" y2="430.20" stroke="#aaa" stroke-width="0.9"/>
<line x1="214.66" y1="427.60" x2="214.66" y2="430.20" stroke="#aaa" stroke-width="0.9"/>
<line x1="219.88" y1="427.60" x2="219.88" y2="430.20" stroke="#aaa" stroke-width="0.9"/>
<line x1="225.10" y1="427.60" x2="225.10" y2="430.20" stroke="#aaa" stroke-width="0.9"/>
<line x1="230.32" y1="427.60" x2="230.32" y2="430.20" stroke="#aaa" stroke-width="0.9"/>
<line x1="235.54" y1="427.60" x2="235.54" y2="430.20" stroke="#aaa" stroke-width="0.9"/>
<line x1="240.76" y1="427.60" x2="240.76" y2="430.20" stroke="#aaa" stroke-width="0.9"/>
<line x1="245.98" y1="427.60" x2="245.98" y2="430.20" stroke="#aaa" stroke-width="0.9"/>
<line x1="251.20" y1="427.60" x2="251.20" y2="430.20" stroke="#aaa" stroke-width="0.9"/>
<line x1="256.42" y1="427.60" x2="256.42" y2="430.20" stroke="#aaa" stroke-width="0.9"/>
<line x1="261.64" y1="427.60" x2="261.64" y2="430.20" stroke="#aaa" stroke-width="0.9"/>
<line x1="266.86" y1="427.60" x2="266.86" y2="430.20" stroke="#aaa" stroke-width="0.9"/>
<text x="97.60" y="440.90" font-size="8.4" text-anchor="middle" textLength="4.3" lengthAdjust="spacingAndGlyphs" fill="#222" stroke="#222" stroke-width="0.12">1</text>
<text x="111.40" y="440.90" font-size="8.4" text-anchor="middle" textLength="4.3" lengthAdjust="spacingAndGlyphs" fill="#222" stroke="#222" stroke-width="0.12">9</text>
<text x="128.00" y="440.90" font-size="8.4" text-anchor="middle" textLength="8.8" lengthAdjust="spacingAndGlyphs" fill="#222" stroke="#222" stroke-width="0.12">17</text>
<text x="141.30" y="440.90" font-size="8.4" text-anchor="middle" textLength="8.8" lengthAdjust="spacingAndGlyphs" fill="#222" stroke="#222" stroke-width="0.12">25</text>
<text x="155.40" y="440.90" font-size="8.4" text-anchor="middle" textLength="8.8" lengthAdjust="spacingAndGlyphs" fill="#222" stroke="#222" stroke-width="0.12">33</text>
<text x="169.50" y="440.90" font-size="8.4" text-anchor="middle" textLength="8.8" lengthAdjust="spacingAndGlyphs" fill="#222" stroke="#222" stroke-width="0.12">41</text>
<text x="183.40" y="440.90" font-size="8.4" text-anchor="middle" textLength="8.8" lengthAdjust="spacingAndGlyphs" fill="#222" stroke="#222" stroke-width="0.12">49</text>
<text x="197.50" y="440.90" font-size="8.4" text-anchor="middle" textLength="8.8" lengthAdjust="spacingAndGlyphs" fill="#222" stroke="#222" stroke-width="0.12">57</text>
<text x="211.20" y="440.90" font-size="8.4" text-anchor="middle" textLength="8.8" lengthAdjust="spacingAndGlyphs" fill="#222" stroke="#222" stroke-width="0.12">65</text>
<text x="224.90" y="440.90" font-size="8.4" text-anchor="middle" textLength="8.8" lengthAdjust="spacingAndGlyphs" fill="#222" stroke="#222" stroke-width="0.12">73</text>
<text x="238.40" y="440.90" font-size="8.4" text-anchor="middle" textLength="8.8" lengthAdjust="spacingAndGlyphs" fill="#222" stroke="#222" stroke-width="0.12">81</text>
<text x="252.10" y="440.90" font-size="8.4" text-anchor="middle" textLength="8.8" lengthAdjust="spacingAndGlyphs" fill="#222" stroke="#222" stroke-width="0.12">89</text>
<text x="266.10" y="440.90" font-size="8.4" text-anchor="middle" textLength="8.8" lengthAdjust="spacingAndGlyphs" fill="#222" stroke="#222" stroke-width="0.12">97</text>
<polyline points="94.80,420.44 96.55,410.55 98.30,409.77 100.05,411.76 101.80,414.06 103.55,410.16 105.30,406.99 107.05,405.24 108.80,405.33 110.55,409.47 112.30,415.89 114.05,419.56 115.80,421.45 117.55,423.15 119.30,424.06 121.05,424.37 122.80,424.69 124.55,424.96" fill="none" stroke="#111" stroke-width="1.8" stroke-linejoin="round" stroke-linecap="round"/>
<polyline points="121.05,424.37 122.80,424.69 124.55,424.96 126.30,425.16 128.05,425.37 129.80,425.57 131.55,425.78 133.30,425.96 135.05,426.11 136.80,426.25 138.55,426.36 140.30,426.47 142.05,426.56 143.80,426.64 145.55,426.71 147.30,426.77 149.05,426.83 150.80,426.88 152.55,426.92 154.30,426.97 156.05,427.00 157.80,427.04 159.55,427.07 161.30,427.10 163.05,427.12 164.80,427.15 166.55,427.17 168.30,427.19 170.05,427.21 171.80,427.23 173.55,427.24 175.30,427.26 177.05,427.27 178.80,427.29 180.55,427.60 182.30,427.60 184.05,427.32 185.80,427.33 187.55,427.34 189.30,427.35 191.05,427.36 192.80,427.37 194.55,427.37 196.30,427.38 198.05,427.39 199.80,427.39 201.55,427.40 203.30,427.41 205.05,427.41 206.80,427.42 208.55,427.42 210.30,427.43 212.05,427.43 213.80,427.43 215.55,427.44 217.30,427.44 219.05,427.45 220.80,427.45 222.55,427.45 224.30,427.46 226.05,427.46 227.80,427.46 229.55,427.46 231.30,427.47 233.05,427.47 234.80,427.47 236.55,427.47 238.30,427.48 240.05,427.48 241.80,427.48 243.55,427.48 245.30,427.48 247.05,427.49 248.80,427.49 250.55,427.49 252.30,427.49 254.05,427.49 255.80,427.49 257.55,427.50 259.30,427.50 261.05,427.50 262.80,427.50 264.55,427.50 266.30,427.50 268.05,427.50" fill="none" stroke="#111" stroke-width="1.5" stroke-linejoin="round" stroke-linecap="round"/>
<line x1="94.80" y1="420.44" x2="94.80" y2="419.58" stroke="#111" stroke-width="0.8"/>
<line x1="92.80" y1="419.58" x2="96.80" y2="419.58" stroke="#111" stroke-width="0.8"/>
<line x1="96.55" y1="410.55" x2="96.55" y2="408.51" stroke="#111" stroke-width="0.8"/>
<line x1="94.55" y1="408.51" x2="98.55" y2="408.51" stroke="#111" stroke-width="0.8"/>
<line x1="98.30" y1="409.77" x2="98.30" y2="407.64" stroke="#111" stroke-width="0.8"/>
<line x1="96.30" y1="407.64" x2="100.30" y2="407.64" stroke="#111" stroke-width="0.8"/>
<line x1="100.05" y1="411.76" x2="100.05" y2="409.86" stroke="#111" stroke-width="0.8"/>
<line x1="98.05" y1="409.86" x2="102.05" y2="409.86" stroke="#111" stroke-width="0.8"/>
<line x1="101.80" y1="414.06" x2="101.80" y2="412.43" stroke="#111" stroke-width="0.8"/>
<line x1="99.80" y1="412.43" x2="103.80" y2="412.43" stroke="#111" stroke-width="0.8"/>
<line x1="103.55" y1="410.16" x2="103.55" y2="408.07" stroke="#111" stroke-width="0.8"/>
<line x1="101.55" y1="408.07" x2="105.55" y2="408.07" stroke="#111" stroke-width="0.8"/>
<line x1="105.30" y1="406.99" x2="105.30" y2="404.52" stroke="#111" stroke-width="0.8"/>
<line x1="103.30" y1="404.52" x2="107.30" y2="404.52" stroke="#111" stroke-width="0.8"/>
<line x1="107.05" y1="405.24" x2="107.05" y2="402.56" stroke="#111" stroke-width="0.8"/>
<line x1="105.05" y1="402.56" x2="109.05" y2="402.56" stroke="#111" stroke-width="0.8"/>
<line x1="108.80" y1="405.33" x2="108.80" y2="402.23" stroke="#111" stroke-width="0.8"/>
<line x1="106.80" y1="402.23" x2="110.80" y2="402.23" stroke="#111" stroke-width="0.8"/>
<line x1="110.55" y1="409.47" x2="110.55" y2="407.29" stroke="#111" stroke-width="0.8"/>
<line x1="108.55" y1="407.29" x2="112.55" y2="407.29" stroke="#111" stroke-width="0.8"/>
<line x1="112.30" y1="415.89" x2="112.30" y2="414.49" stroke="#111" stroke-width="0.8"/>
<line x1="110.30" y1="414.49" x2="114.30" y2="414.49" stroke="#111" stroke-width="0.8"/>
<line x1="114.05" y1="419.56" x2="114.05" y2="418.60" stroke="#111" stroke-width="0.8"/>
<line x1="112.05" y1="418.60" x2="116.05" y2="418.60" stroke="#111" stroke-width="0.8"/>
<line x1="115.80" y1="421.45" x2="115.80" y2="420.71" stroke="#111" stroke-width="0.8"/>
<line x1="113.80" y1="420.71" x2="117.80" y2="420.71" stroke="#111" stroke-width="0.8"/>
<line x1="117.55" y1="423.15" x2="117.55" y2="422.62" stroke="#111" stroke-width="0.8"/>
<line x1="115.55" y1="422.62" x2="119.55" y2="422.62" stroke="#111" stroke-width="0.8"/>
<path d="M93.10,419.14h3.4l-1.7,2.9z" fill="#111"/>
<path d="M94.85,409.25h3.4l-1.7,2.9z" fill="#111"/>
<path d="M96.60,408.47h3.4l-1.7,2.9z" fill="#111"/>
<path d="M98.35,410.46h3.4l-1.7,2.9z" fill="#111"/>
<path d="M100.10,412.76h3.4l-1.7,2.9z" fill="#111"/>
<path d="M101.85,408.86h3.4l-1.7,2.9z" fill="#111"/>
<path d="M103.60,405.69h3.4l-1.7,2.9z" fill="#111"/>
<path d="M105.35,403.94h3.4l-1.7,2.9z" fill="#111"/>
<path d="M107.10,404.03h3.4l-1.7,2.9z" fill="#111"/>
<path d="M108.85,408.17h3.4l-1.7,2.9z" fill="#111"/>
<path d="M110.60,414.59h3.4l-1.7,2.9z" fill="#111"/>
<path d="M112.35,418.26h3.4l-1.7,2.9z" fill="#111"/>
<path d="M114.10,420.15h3.4l-1.7,2.9z" fill="#111"/>
<path d="M115.85,421.85h3.4l-1.7,2.9z" fill="#111"/>
<path d="M117.60,422.76h3.4l-1.7,2.9z" fill="#111"/>
<path d="M119.35,423.07h3.4l-1.7,2.9z" fill="#111"/>
<path d="M121.10,423.39h3.4l-1.7,2.9z" fill="#111"/>
<path d="M122.85,423.66h3.4l-1.7,2.9z" fill="#111"/>
<path d="M124.60,423.86h3.4l-1.7,2.9z" fill="#111"/>
<path d="M126.35,424.07h3.4l-1.7,2.9z" fill="#111"/>
<path d="M128.10,424.27h3.4l-1.7,2.9z" fill="#111"/>
<path d="M129.85,424.48h3.4l-1.7,2.9z" fill="#111"/>
<path d="M131.60,424.66h3.4l-1.7,2.9z" fill="#111"/>
<polyline points="94.80,417.63 96.55,409.10 98.30,409.59 100.05,411.58 101.80,413.88 103.55,410.11 105.30,407.22 107.05,405.72 108.80,405.99 110.55,411.16 112.30,417.79 114.05,421.23 115.80,422.47 117.55,423.46 119.30,424.06 121.05,424.37 122.80,424.69 124.55,424.96" fill="none" stroke="#27b22a" stroke-width="2.0" stroke-linejoin="round" stroke-linecap="round"/>
<polyline points="121.05,424.37 122.80,424.69 124.55,424.96 126.30,425.16 128.05,425.37 129.80,425.57 131.55,425.78 133.30,425.96 135.05,426.11 136.80,426.25 138.55,426.36 140.30,426.47 142.05,426.56 143.80,426.64 145.55,426.71 147.30,426.77 149.05,426.83 150.80,426.88 152.55,426.92 154.30,426.97 156.05,427.00 157.80,427.04 159.55,427.07 161.30,427.10 163.05,427.12 164.80,427.15 166.55,427.17 168.30,427.19 170.05,427.21 171.80,427.23 173.55,427.24 175.30,427.26 177.05,427.27 178.80,427.29 180.55,427.60 182.30,427.60 184.05,427.32 185.80,427.33 187.55,427.34 189.30,427.35 191.05,427.36 192.80,427.37 194.55,427.37 196.30,427.38 198.05,427.39 199.80,427.39 201.55,427.40 203.30,427.41 205.05,427.41 206.80,427.42 208.55,427.42 210.30,427.43 212.05,427.43 213.80,427.43 215.55,427.44 217.30,427.44 219.05,427.45 220.80,427.45 222.55,427.45 224.30,427.46 226.05,427.46 227.80,427.46 229.55,427.46 231.30,427.47 233.05,427.47 234.80,427.47 236.55,427.47 238.30,427.48 240.05,427.48 241.80,427.48 243.55,427.48 245.30,427.48 247.05,427.49 248.80,427.49 250.55,427.49 252.30,427.49 254.05,427.49 255.80,427.49 257.55,427.50 259.30,427.50 261.05,427.50 262.80,427.50 264.55,427.50 266.30,427.50 268.05,427.50" fill="none" stroke="#27b22a" stroke-width="2.6" stroke-linejoin="round" stroke-linecap="round"/>
<line x1="94.80" y1="417.63" x2="94.80" y2="416.44" stroke="#27b22a" stroke-width="0.8"/>
<line x1="92.80" y1="416.44" x2="96.80" y2="416.44" stroke="#27b22a" stroke-width="0.8"/>
<line x1="96.55" y1="409.10" x2="96.55" y2="400.42" stroke="#27b22a" stroke-width="0.8"/>
<line x1="94.55" y1="400.42" x2="98.55" y2="400.42" stroke="#27b22a" stroke-width="0.8"/>
<line x1="98.30" y1="409.59" x2="98.30" y2="404.95" stroke="#27b22a" stroke-width="0.8"/>
<line x1="96.30" y1="404.95" x2="100.30" y2="404.95" stroke="#27b22a" stroke-width="0.8"/>
<line x1="100.05" y1="411.58" x2="100.05" y2="409.65" stroke="#27b22a" stroke-width="0.8"/>
<line x1="98.05" y1="409.65" x2="102.05" y2="409.65" stroke="#27b22a" stroke-width="0.8"/>
<line x1="101.80" y1="413.88" x2="101.80" y2="412.23" stroke="#27b22a" stroke-width="0.8"/>
<line x1="99.80" y1="412.23" x2="103.80" y2="412.23" stroke="#27b22a" stroke-width="0.8"/>
<line x1="103.55" y1="410.11" x2="103.55" y2="408.01" stroke="#27b22a" stroke-width="0.8"/>
<line x1="101.55" y1="408.01" x2="105.55" y2="408.01" stroke="#27b22a" stroke-width="0.8"/>
<line x1="105.30" y1="407.22" x2="105.30" y2="404.77" stroke="#27b22a" stroke-width="0.8"/>
<line x1="103.30" y1="404.77" x2="107.30" y2="404.77" stroke="#27b22a" stroke-width="0.8"/>
<line x1="107.05" y1="405.72" x2="107.05" y2="402.23" stroke="#27b22a" stroke-width="0.8"/>
<line x1="105.05" y1="402.23" x2="109.05" y2="402.23" stroke="#27b22a" stroke-width="0.8"/>
<line x1="108.80" y1="405.99" x2="108.80" y2="402.23" stroke="#27b22a" stroke-width="0.8"/>
<line x1="106.80" y1="402.23" x2="110.80" y2="402.23" stroke="#27b22a" stroke-width="0.8"/>
<line x1="110.55" y1="411.16" x2="110.55" y2="409.19" stroke="#27b22a" stroke-width="0.8"/>
<line x1="108.55" y1="409.19" x2="112.55" y2="409.19" stroke="#27b22a" stroke-width="0.8"/>
<line x1="112.30" y1="417.79" x2="112.30" y2="416.62" stroke="#27b22a" stroke-width="0.8"/>
<line x1="110.30" y1="416.62" x2="114.30" y2="416.62" stroke="#27b22a" stroke-width="0.8"/>
<line x1="114.05" y1="421.23" x2="114.05" y2="420.47" stroke="#27b22a" stroke-width="0.8"/>
<line x1="112.05" y1="420.47" x2="116.05" y2="420.47" stroke="#27b22a" stroke-width="0.8"/>
<line x1="115.80" y1="422.47" x2="115.80" y2="421.85" stroke="#27b22a" stroke-width="0.8"/>
<line x1="113.80" y1="421.85" x2="117.80" y2="421.85" stroke="#27b22a" stroke-width="0.8"/>
<line x1="117.55" y1="423.46" x2="117.55" y2="422.96" stroke="#27b22a" stroke-width="0.8"/>
<line x1="115.55" y1="422.96" x2="119.55" y2="422.96" stroke="#27b22a" stroke-width="0.8"/>
<path d="M93.10,416.33h3.4l-1.7,2.9z" fill="#27b22a"/>
<path d="M94.85,407.80h3.4l-1.7,2.9z" fill="#27b22a"/>
<path d="M96.60,408.29h3.4l-1.7,2.9z" fill="#27b22a"/>
<path d="M98.35,410.28h3.4l-1.7,2.9z" fill="#27b22a"/>
<path d="M100.10,412.58h3.4l-1.7,2.9z" fill="#27b22a"/>
<path d="M101.85,408.81h3.4l-1.7,2.9z" fill="#27b22a"/>
<path d="M103.60,405.92h3.4l-1.7,2.9z" fill="#27b22a"/>
<path d="M105.35,404.42h3.4l-1.7,2.9z" fill="#27b22a"/>
<path d="M107.10,404.69h3.4l-1.7,2.9z" fill="#27b22a"/>
<path d="M108.85,409.86h3.4l-1.7,2.9z" fill="#27b22a"/>
<path d="M110.60,416.49h3.4l-1.7,2.9z" fill="#27b22a"/>
<path d="M112.35,419.93h3.4l-1.7,2.9z" fill="#27b22a"/>
<path d="M114.10,421.17h3.4l-1.7,2.9z" fill="#27b22a"/>
<path d="M115.85,422.16h3.4l-1.7,2.9z" fill="#27b22a"/>
<path d="M117.60,422.76h3.4l-1.7,2.9z" fill="#27b22a"/>
<path d="M119.35,423.07h3.4l-1.7,2.9z" fill="#27b22a"/>
<path d="M121.10,423.39h3.4l-1.7,2.9z" fill="#27b22a"/>
<path d="M122.85,423.66h3.4l-1.7,2.9z" fill="#27b22a"/>
<path d="M124.60,423.86h3.4l-1.7,2.9z" fill="#27b22a"/>
<path d="M126.35,424.07h3.4l-1.7,2.9z" fill="#27b22a"/>
<path d="M128.10,424.27h3.4l-1.7,2.9z" fill="#27b22a"/>
<path d="M129.85,424.48h3.4l-1.7,2.9z" fill="#27b22a"/>
<path d="M131.60,424.66h3.4l-1.7,2.9z" fill="#27b22a"/>
<line x1="311.30" y1="382.80" x2="311.30" y2="429.50" stroke="#8a8a8a" stroke-width="1"/>
<line x1="308.70" y1="429.20" x2="311.30" y2="429.20" stroke="#8a8a8a" stroke-width="1"/>
<text x="303.50" y="432.20" font-size="8.5" text-anchor="end" textLength="28.0" lengthAdjust="spacingAndGlyphs" fill="#222" stroke="#222" stroke-width="0.12">0.E+00</text>
<line x1="308.70" y1="419.98" x2="311.30" y2="419.98" stroke="#8a8a8a" stroke-width="1"/>
<text x="303.50" y="422.98" font-size="8.5" text-anchor="end" textLength="25.0" lengthAdjust="spacingAndGlyphs" fill="#222" stroke="#222" stroke-width="0.12">1.E-03</text>
<line x1="308.70" y1="410.76" x2="311.30" y2="410.76" stroke="#8a8a8a" stroke-width="1"/>
<text x="303.50" y="413.76" font-size="8.5" text-anchor="end" textLength="25.0" lengthAdjust="spacingAndGlyphs" fill="#222" stroke="#222" stroke-width="0.12">2.E-03</text>
<line x1="308.70" y1="401.54" x2="311.30" y2="401.54" stroke="#8a8a8a" stroke-width="1"/>
<text x="303.50" y="404.54" font-size="8.5" text-anchor="end" textLength="25.0" lengthAdjust="spacingAndGlyphs" fill="#222" stroke="#222" stroke-width="0.12">3.E-03</text>
<line x1="308.70" y1="392.32" x2="311.30" y2="392.32" stroke="#8a8a8a" stroke-width="1"/>
<text x="303.50" y="395.32" font-size="8.5" text-anchor="end" textLength="25.0" lengthAdjust="spacingAndGlyphs" fill="#222" stroke="#222" stroke-width="0.12">4.E-03</text>
<line x1="308.70" y1="383.10" x2="311.30" y2="383.10" stroke="#8a8a8a" stroke-width="1"/>
<text x="303.50" y="386.10" font-size="8.5" text-anchor="end" textLength="25.0" lengthAdjust="spacingAndGlyphs" fill="#222" stroke="#222" stroke-width="0.12">5.E-03</text>
<line x1="311.30" y1="429.20" x2="486.60" y2="429.20" stroke="#aaa" stroke-width="1.2"/>
<line x1="311.30" y1="429.20" x2="311.30" y2="431.80" stroke="#aaa" stroke-width="0.9"/>
<line x1="316.52" y1="429.20" x2="316.52" y2="431.80" stroke="#aaa" stroke-width="0.9"/>
<line x1="321.74" y1="429.20" x2="321.74" y2="431.80" stroke="#aaa" stroke-width="0.9"/>
<line x1="326.96" y1="429.20" x2="326.96" y2="431.80" stroke="#aaa" stroke-width="0.9"/>
<line x1="332.18" y1="429.20" x2="332.18" y2="431.80" stroke="#aaa" stroke-width="0.9"/>
<line x1="337.40" y1="429.20" x2="337.40" y2="431.80" stroke="#aaa" stroke-width="0.9"/>
<line x1="342.62" y1="429.20" x2="342.62" y2="431.80" stroke="#aaa" stroke-width="0.9"/>
<line x1="347.84" y1="429.20" x2="347.84" y2="431.80" stroke="#aaa" stroke-width="0.9"/>
<line x1="353.06" y1="429.20" x2="353.06" y2="431.80" stroke="#aaa" stroke-width="0.9"/>
<line x1="358.28" y1="429.20" x2="358.28" y2="431.80" stroke="#aaa" stroke-width="0.9"/>
<line x1="363.50" y1="429.20" x2="363.50" y2="431.80" stroke="#aaa" stroke-width="0.9"/>
<line x1="368.72" y1="429.20" x2="368.72" y2="431.80" stroke="#aaa" stroke-width="0.9"/>
<line x1="373.94" y1="429.20" x2="373.94" y2="431.80" stroke="#aaa" stroke-width="0.9"/>
<line x1="379.16" y1="429.20" x2="379.16" y2="431.80" stroke="#aaa" stroke-width="0.9"/>
<line x1="384.38" y1="429.20" x2="384.38" y2="431.80" stroke="#aaa" stroke-width="0.9"/>
<line x1="389.60" y1="429.20" x2="389.60" y2="431.80" stroke="#aaa" stroke-width="0.9"/>
<line x1="394.82" y1="429.20" x2="394.82" y2="431.80" stroke="#aaa" stroke-width="0.9"/>
<line x1="400.04" y1="429.20" x2="400.04" y2="431.80" stroke="#aaa" stroke-width="0.9"/>
<line x1="405.26" y1="429.20" x2="405.26" y2="431.80" stroke="#aaa" stroke-width="0.9"/>
<line x1="410.48" y1="429.20" x2="410.48" y2="431.80" stroke="#aaa" stroke-width="0.9"/>
<line x1="415.70" y1="429.20" x2="415.70" y2="431.80" stroke="#aaa" stroke-width="0.9"/>
<line x1="420.92" y1="429.20" x2="420.92" y2="431.80" stroke="#aaa" stroke-width="0.9"/>
<line x1="426.14" y1="429.20" x2="426.14" y2="431.80" stroke="#aaa" stroke-width="0.9"/>
<line x1="431.36" y1="429.20" x2="431.36" y2="431.80" stroke="#aaa" stroke-width="0.9"/>
<line x1="436.58" y1="429.20" x2="436.58" y2="431.80" stroke="#aaa" stroke-width="0.9"/>
<line x1="441.80" y1="429.20" x2="441.80" y2="431.80" stroke="#aaa" stroke-width="0.9"/>
<line x1="447.02" y1="429.20" x2="447.02" y2="431.80" stroke="#aaa" stroke-width="0.9"/>
<line x1="452.24" y1="429.20" x2="452.24" y2="431.80" stroke="#aaa" stroke-width="0.9"/>
<line x1="457.46" y1="429.20" x2="457.46" y2="431.80" stroke="#aaa" stroke-width="0.9"/>
<line x1="462.68" y1="429.20" x2="462.68" y2="431.80" stroke="#aaa" stroke-width="0.9"/>
<line x1="467.90" y1="429.20" x2="467.90" y2="431.80" stroke="#aaa" stroke-width="0.9"/>
<line x1="473.12" y1="429.20" x2="473.12" y2="431.80" stroke="#aaa" stroke-width="0.9"/>
<line x1="478.34" y1="429.20" x2="478.34" y2="431.80" stroke="#aaa" stroke-width="0.9"/>
<line x1="483.56" y1="429.20" x2="483.56" y2="431.80" stroke="#aaa" stroke-width="0.9"/>
<text x="311.10" y="442.50" font-size="8.4" text-anchor="middle" textLength="4.3" lengthAdjust="spacingAndGlyphs" fill="#222" stroke="#222" stroke-width="0.12">1</text>
<text x="325.40" y="442.50" font-size="8.4" text-anchor="middle" textLength="4.3" lengthAdjust="spacingAndGlyphs" fill="#222" stroke="#222" stroke-width="0.12">9</text>
<text x="339.70" y="442.50" font-size="8.4" text-anchor="middle" textLength="8.8" lengthAdjust="spacingAndGlyphs" fill="#222" stroke="#222" stroke-width="0.12">17</text>
<text x="353.50" y="442.50" font-size="8.4" text-anchor="middle" textLength="8.8" lengthAdjust="spacingAndGlyphs" fill="#222" stroke="#222" stroke-width="0.12">25</text>
<text x="367.50" y="442.50" font-size="8.4" text-anchor="middle" textLength="8.8" lengthAdjust="spacingAndGlyphs" fill="#222" stroke="#222" stroke-width="0.12">33</text>
<text x="380.90" y="442.50" font-size="8.4" text-anchor="middle" textLength="8.8" lengthAdjust="spacingAndGlyphs" fill="#222" stroke="#222" stroke-width="0.12">41</text>
<text x="395.20" y="442.50" font-size="8.4" text-anchor="middle" textLength="8.8" lengthAdjust="spacingAndGlyphs" fill="#222" stroke="#222" stroke-width="0.12">49</text>
<text x="409.30" y="442.50" font-size="8.4" text-anchor="middle" textLength="8.8" lengthAdjust="spacingAndGlyphs" fill="#222" stroke="#222" stroke-width="0.12">57</text>
<text x="423.40" y="442.50" font-size="8.4" text-anchor="middle" textLength="8.8" lengthAdjust="spacingAndGlyphs" fill="#222" stroke="#222" stroke-width="0.12">65</text>
<text x="437.50" y="442.50" font-size="8.4" text-anchor="middle" textLength="8.8" lengthAdjust="spacingAndGlyphs" fill="#222" stroke="#222" stroke-width="0.12">73</text>
<text x="451.50" y="442.50" font-size="8.4" text-anchor="middle" textLength="8.8" lengthAdjust="spacingAndGlyphs" fill="#222" stroke="#222" stroke-width="0.12">81</text>
<text x="465.50" y="442.50" font-size="8.4" text-anchor="middle" textLength="8.8" lengthAdjust="spacingAndGlyphs" fill="#222" stroke="#222" stroke-width="0.12">89</text>
<text x="479.30" y="442.50" font-size="8.4" text-anchor="middle" textLength="8.8" lengthAdjust="spacingAndGlyphs" fill="#222" stroke="#222" stroke-width="0.12">97</text>
<polyline points="311.50,419.61 313.25,408.96 315.00,408.36 316.75,408.27 318.50,407.83 320.25,404.59 322.00,401.54 323.75,402.34 325.50,407.76 327.25,412.22 329.00,417.31 330.75,421.34 332.50,423.10 334.25,424.23 336.00,424.64 337.75,425.04 339.50,425.44 341.25,425.77" fill="none" stroke="#111" stroke-width="1.8" stroke-linejoin="round" stroke-linecap="round"/>
<polyline points="337.75,425.04 339.50,425.44 341.25,425.77 343.00,425.98 344.75,426.19 346.50,426.40 348.25,426.67 350.00,426.92 351.75,427.14 353.50,427.32 355.25,427.48 357.00,427.63 358.75,427.75 360.50,427.86 362.25,427.96 364.00,428.05 365.75,428.13 367.50,428.20 369.25,428.26 371.00,428.32 372.75,428.37 374.50,428.42 376.25,428.46 378.00,428.50 379.75,428.54 381.50,428.57 383.25,428.60 385.00,428.63 386.75,428.66 388.50,428.68 390.25,428.71 392.00,428.73 393.75,428.75 395.50,428.77 397.25,429.20 399.00,429.20 400.75,428.81 402.50,428.83 404.25,428.84 406.00,428.85 407.75,428.87 409.50,428.88 411.25,428.89 413.00,428.90 414.75,428.91 416.50,428.91 418.25,428.92 420.00,428.93 421.75,428.94 423.50,428.95 425.25,428.95 427.00,428.96 428.75,428.96 430.50,428.97 432.25,428.98 434.00,428.98 435.75,428.99 437.50,428.99 439.25,429.00 441.00,429.00 442.75,429.00 444.50,429.01 446.25,429.01 448.00,429.02 449.75,429.02 451.50,429.02 453.25,429.03 455.00,429.03 456.75,429.03 458.50,429.03 460.25,429.04 462.00,429.04 463.75,429.04 465.50,429.04 467.25,429.05 469.00,429.05 470.75,429.05 472.50,429.05 474.25,429.06 476.00,429.06 477.75,429.06 479.50,429.06 481.25,429.06 483.00,429.07 484.75,429.07" fill="none" stroke="#111" stroke-width="1.5" stroke-linejoin="round" stroke-linecap="round"/>
<line x1="311.50" y1="419.61" x2="311.50" y2="418.46" stroke="#111" stroke-width="0.8"/>
<line x1="309.50" y1="418.46" x2="313.50" y2="418.46" stroke="#111" stroke-width="0.8"/>
<line x1="313.25" y1="408.96" x2="313.25" y2="406.15" stroke="#111" stroke-width="0.8"/>
<line x1="311.25" y1="406.15" x2="315.25" y2="406.15" stroke="#111" stroke-width="0.8"/>
<line x1="315.00" y1="408.36" x2="315.00" y2="405.86" stroke="#111" stroke-width="0.8"/>
<line x1="313.00" y1="405.86" x2="317.00" y2="405.86" stroke="#111" stroke-width="0.8"/>
<line x1="316.75" y1="408.27" x2="316.75" y2="405.76" stroke="#111" stroke-width="0.8"/>
<line x1="314.75" y1="405.76" x2="318.75" y2="405.76" stroke="#111" stroke-width="0.8"/>
<line x1="318.50" y1="407.83" x2="318.50" y2="405.27" stroke="#111" stroke-width="0.8"/>
<line x1="316.50" y1="405.27" x2="320.50" y2="405.27" stroke="#111" stroke-width="0.8"/>
<line x1="320.25" y1="404.59" x2="320.25" y2="401.54" stroke="#111" stroke-width="0.8"/>
<line x1="318.25" y1="401.54" x2="322.25" y2="401.54" stroke="#111" stroke-width="0.8"/>
<line x1="322.00" y1="401.54" x2="322.00" y2="397.76" stroke="#111" stroke-width="0.8"/>
<line x1="320.00" y1="397.76" x2="324.00" y2="397.76" stroke="#111" stroke-width="0.8"/>
<line x1="323.75" y1="402.34" x2="323.75" y2="399.12" stroke="#111" stroke-width="0.8"/>
<line x1="321.75" y1="399.12" x2="325.75" y2="399.12" stroke="#111" stroke-width="0.8"/>
<line x1="325.50" y1="407.76" x2="325.50" y2="404.31" stroke="#111" stroke-width="0.8"/>
<line x1="323.50" y1="404.31" x2="327.50" y2="404.31" stroke="#111" stroke-width="0.8"/>
<line x1="327.25" y1="412.22" x2="327.25" y2="410.18" stroke="#111" stroke-width="0.8"/>
<line x1="325.25" y1="410.18" x2="329.25" y2="410.18" stroke="#111" stroke-width="0.8"/>
<line x1="329.00" y1="417.31" x2="329.00" y2="415.88" stroke="#111" stroke-width="0.8"/>
<line x1="327.00" y1="415.88" x2="331.00" y2="415.88" stroke="#111" stroke-width="0.8"/>
<line x1="330.75" y1="421.34" x2="330.75" y2="420.40" stroke="#111" stroke-width="0.8"/>
<line x1="328.75" y1="420.40" x2="332.75" y2="420.40" stroke="#111" stroke-width="0.8"/>
<line x1="332.50" y1="423.10" x2="332.50" y2="422.37" stroke="#111" stroke-width="0.8"/>
<line x1="330.50" y1="422.37" x2="334.50" y2="422.37" stroke="#111" stroke-width="0.8"/>
<line x1="334.25" y1="424.23" x2="334.25" y2="423.64" stroke="#111" stroke-width="0.8"/>
<line x1="332.25" y1="423.64" x2="336.25" y2="423.64" stroke="#111" stroke-width="0.8"/>
<path d="M309.80,418.31h3.4l-1.7,2.9z" fill="#111"/>
<path d="M311.55,407.66h3.4l-1.7,2.9z" fill="#111"/>
<path d="M313.30,407.06h3.4l-1.7,2.9z" fill="#111"/>
<path d="M315.05,406.97h3.4l-1.7,2.9z" fill="#111"/>
<path d="M316.80,406.53h3.4l-1.7,2.9z" fill="#111"/>
<path d="M318.55,403.29h3.4l-1.7,2.9z" fill="#111"/>
<path d="M320.30,400.24h3.4l-1.7,2.9z" fill="#111"/>
<path d="M322.05,401.04h3.4l-1.7,2.9z" fill="#111"/>
<path d="M323.80,406.46h3.4l-1.7,2.9z" fill="#111"/>
<path d="M325.55,410.92h3.4l-1.7,2.9z" fill="#111"/>
<path d="M327.30,416.01h3.4l-1.7,2.9z" fill="#111"/>
<path d="M329.05,420.04h3.4l-1.7,2.9z" fill="#111"/>
<path d="M330.80,421.80h3.4l-1.7,2.9z" fill="#111"/>
<path d="M332.55,422.93h3.4l-1.7,2.9z" fill="#111"/>
<path d="M334.30,423.34h3.4l-1.7,2.9z" fill="#111"/>
<path d="M336.05,423.74h3.4l-1.7,2.9z" fill="#111"/>
<path d="M337.80,424.14h3.4l-1.7,2.9z" fill="#111"/>
<path d="M339.55,424.47h3.4l-1.7,2.9z" fill="#111"/>
<path d="M341.30,424.68h3.4l-1.7,2.9z" fill="#111"/>
<path d="M343.05,424.89h3.4l-1.7,2.9z" fill="#111"/>
<path d="M344.80,425.10h3.4l-1.7,2.9z" fill="#111"/>
<path d="M346.55,425.37h3.4l-1.7,2.9z" fill="#111"/>
<path d="M348.30,425.62h3.4l-1.7,2.9z" fill="#111"/>
<polyline points="311.50,423.02 313.25,417.68 315.00,419.52 316.75,421.50 318.50,422.75 320.25,421.58 322.00,420.31 323.75,418.83 325.50,418.63 327.25,421.60 329.00,424.79 330.75,426.23 332.50,426.76 334.25,427.13 336.00,427.42 337.75,427.59 339.50,427.76 341.25,427.93" fill="none" stroke="#27b22a" stroke-width="2.0" stroke-linejoin="round" stroke-linecap="round"/>
<polyline points="337.75,427.59 339.50,427.76 341.25,427.93 343.00,428.10 344.75,428.27 346.50,428.43 348.25,428.53 350.00,428.59 351.75,428.65 353.50,428.70 355.25,428.74 357.00,428.78 358.75,428.81 360.50,428.84 362.25,428.87 364.00,428.89 365.75,428.91 367.50,428.93 369.25,428.95 371.00,428.97 372.75,428.98 374.50,428.99 376.25,429.00 378.00,429.01 379.75,429.02 381.50,429.03 383.25,429.04 385.00,429.05 386.75,429.06 388.50,429.06 390.25,429.07 392.00,429.07 393.75,429.08 395.50,429.08 397.25,429.20 399.00,429.20 400.75,429.10 402.50,429.10 404.25,429.10 406.00,429.11 407.75,429.11 409.50,429.11 411.25,429.12 413.00,429.12 414.75,429.12 416.50,429.12 418.25,429.13 420.00,429.13 421.75,429.13 423.50,429.13 425.25,429.13 427.00,429.14 428.75,429.14 430.50,429.14 432.25,429.14 434.00,429.14 435.75,429.14 437.50,429.14 439.25,429.15 441.00,429.15 442.75,429.15 444.50,429.15 446.25,429.15 448.00,429.15 449.75,429.15 451.50,429.15 453.25,429.15 455.00,429.15 456.75,429.16 458.50,429.16 460.25,429.16 462.00,429.16 463.75,429.16 465.50,429.16 467.25,429.16 469.00,429.16 470.75,429.16 472.50,429.16 474.25,429.16 476.00,429.16 477.75,429.16 479.50,429.16 481.25,429.16 483.00,429.16 484.75,429.16" fill="none" stroke="#27b22a" stroke-width="2.6" stroke-linejoin="round" stroke-linecap="round"/>
<line x1="311.50" y1="423.02" x2="311.50" y2="422.28" stroke="#27b22a" stroke-width="0.8"/>
<line x1="309.50" y1="422.28" x2="313.50" y2="422.28" stroke="#27b22a" stroke-width="0.8"/>
<line x1="313.25" y1="417.68" x2="313.25" y2="415.37" stroke="#27b22a" stroke-width="0.8"/>
<line x1="311.25" y1="415.37" x2="315.25" y2="415.37" stroke="#27b22a" stroke-width="0.8"/>
<line x1="315.00" y1="419.52" x2="315.00" y2="418.36" stroke="#27b22a" stroke-width="0.8"/>
<line x1="313.00" y1="418.36" x2="317.00" y2="418.36" stroke="#27b22a" stroke-width="0.8"/>
<line x1="316.75" y1="421.50" x2="316.75" y2="420.57" stroke="#27b22a" stroke-width="0.8"/>
<line x1="314.75" y1="420.57" x2="318.75" y2="420.57" stroke="#27b22a" stroke-width="0.8"/>
<line x1="318.50" y1="422.75" x2="318.50" y2="421.98" stroke="#27b22a" stroke-width="0.8"/>
<line x1="316.50" y1="421.98" x2="320.50" y2="421.98" stroke="#27b22a" stroke-width="0.8"/>
<line x1="320.25" y1="421.58" x2="320.25" y2="420.67" stroke="#27b22a" stroke-width="0.8"/>
<line x1="318.25" y1="420.67" x2="322.25" y2="420.67" stroke="#27b22a" stroke-width="0.8"/>
<line x1="322.00" y1="420.31" x2="322.00" y2="419.24" stroke="#27b22a" stroke-width="0.8"/>
<line x1="320.00" y1="419.24" x2="324.00" y2="419.24" stroke="#27b22a" stroke-width="0.8"/>
<line x1="323.75" y1="418.83" x2="323.75" y2="417.59" stroke="#27b22a" stroke-width="0.8"/>
<line x1="321.75" y1="417.59" x2="325.75" y2="417.59" stroke="#27b22a" stroke-width="0.8"/>
<line x1="325.50" y1="418.63" x2="325.50" y2="416.75" stroke="#27b22a" stroke-width="0.8"/>
<line x1="323.50" y1="416.75" x2="327.50" y2="416.75" stroke="#27b22a" stroke-width="0.8"/>
<line x1="327.25" y1="421.60" x2="327.25" y2="420.69" stroke="#27b22a" stroke-width="0.8"/>
<line x1="325.25" y1="420.69" x2="329.25" y2="420.69" stroke="#27b22a" stroke-width="0.8"/>
<line x1="329.00" y1="424.79" x2="329.00" y2="424.26" stroke="#27b22a" stroke-width="0.8"/>
<line x1="327.00" y1="424.26" x2="331.00" y2="424.26" stroke="#27b22a" stroke-width="0.8"/>
<line x1="330.75" y1="426.23" x2="330.75" y2="425.87" stroke="#27b22a" stroke-width="0.8"/>
<line x1="328.75" y1="425.87" x2="332.75" y2="425.87" stroke="#27b22a" stroke-width="0.8"/>
<line x1="332.50" y1="426.76" x2="332.50" y2="426.46" stroke="#27b22a" stroke-width="0.8"/>
<line x1="330.50" y1="426.46" x2="334.50" y2="426.46" stroke="#27b22a" stroke-width="0.8"/>
<line x1="334.25" y1="427.13" x2="334.25" y2="426.88" stroke="#27b22a" stroke-width="0.8"/>
<line x1="332.25" y1="426.88" x2="336.25" y2="426.88" stroke="#27b22a" stroke-width="0.8"/>
<path d="M309.80,421.72h3.4l-1.7,2.9z" fill="#27b22a"/>
<path d="M311.55,416.38h3.4l-1.7,2.9z" fill="#27b22a"/>
<path d="M313.30,418.22h3.4l-1.7,2.9z" fill="#27b22a"/>
<path d="M315.05,420.20h3.4l-1.7,2.9z" fill="#27b22a"/>
<path d="M316.80,421.45h3.4l-1.7,2.9z" fill="#27b22a"/>
<path d="M318.55,420.28h3.4l-1.7,2.9z" fill="#27b22a"/>
<path d="M320.30,419.01h3.4l-1.7,2.9z" fill="#27b22a"/>
<path d="M322.05,417.53h3.4l-1.7,2.9z" fill="#27b22a"/>
<path d="M323.80,417.33h3.4l-1.7,2.9z" fill="#27b22a"/>
<path d="M325.55,420.30h3.4l-1.7,2.9z" fill="#27b22a"/>
<path d="M327.30,423.49h3.4l-1.7,2.9z" fill="#27b22a"/>
<path d="M329.05,424.93h3.4l-1.7,2.9z" fill="#27b22a"/>
<path d="M330.80,425.46h3.4l-1.7,2.9z" fill="#27b22a"/>
<path d="M332.55,425.83h3.4l-1.7,2.9z" fill="#27b22a"/>
<path d="M334.30,426.12h3.4l-1.7,2.9z" fill="#27b22a"/>
<path d="M336.05,426.29h3.4l-1.7,2.9z" fill="#27b22a"/>
<path d="M337.80,426.46h3.4l-1.7,2.9z" fill="#27b22a"/>
<path d="M339.55,426.63h3.4l-1.7,2.9z" fill="#27b22a"/>
<path d="M341.30,426.80h3.4l-1.7,2.9z" fill="#27b22a"/>
<path d="M343.05,426.97h3.4l-1.7,2.9z" fill="#27b22a"/>
<path d="M344.80,427.13h3.4l-1.7,2.9z" fill="#27b22a"/>
<path d="M346.55,427.23h3.4l-1.7,2.9z" fill="#27b22a"/>
<path d="M348.30,427.29h3.4l-1.7,2.9z" fill="#27b22a"/>
<text x="0.20" y="110.20" font-size="10.5" font-weight="bold" textLength="25.0" lengthAdjust="spacingAndGlyphs" fill="#111" stroke="#111" stroke-width="0.12">Week</text>
<text x="30.60" y="110.20" font-size="10.5" font-weight="bold" textLength="5.4" lengthAdjust="spacingAndGlyphs" fill="#111" stroke="#111" stroke-width="0.12">2</text>
<text x="0.20" y="166.70" font-size="10.5" font-weight="bold" textLength="25.0" lengthAdjust="spacingAndGlyphs" fill="#111" stroke="#111" stroke-width="0.12">Week</text>
<text x="30.60" y="166.70" font-size="10.5" font-weight="bold" textLength="5.4" lengthAdjust="spacingAndGlyphs" fill="#111" stroke="#111" stroke-width="0.12">4</text>
<text x="0.20" y="225.60" font-size="10.5" font-weight="bold" textLength="25.0" lengthAdjust="spacingAndGlyphs" fill="#111" stroke="#111" stroke-width="0.12">Week</text>
<text x="30.60" y="225.60" font-size="10.5" font-weight="bold" textLength="5.4" lengthAdjust="spacingAndGlyphs" fill="#111" stroke="#111" stroke-width="0.12">8</text>
<text x="0.20" y="285.30" font-size="10.5" font-weight="bold" textLength="25.0" lengthAdjust="spacingAndGlyphs" fill="#111" stroke="#111" stroke-width="0.12">Week</text>
<text x="30.60" y="285.30" font-size="10.5" font-weight="bold" textLength="10.1" lengthAdjust="spacingAndGlyphs" fill="#111" stroke="#111" stroke-width="0.12">10</text>
<text x="0.20" y="346.50" font-size="10.5" font-weight="bold" textLength="25.0" lengthAdjust="spacingAndGlyphs" fill="#111" stroke="#111" stroke-width="0.12">Week</text>
<text x="30.60" y="346.50" font-size="10.5" font-weight="bold" textLength="10.1" lengthAdjust="spacingAndGlyphs" fill="#111" stroke="#111" stroke-width="0.12">14</text>
<text x="0.20" y="404.70" font-size="10.5" font-weight="bold" textLength="25.0" lengthAdjust="spacingAndGlyphs" fill="#111" stroke="#111" stroke-width="0.12">Week</text>
<text x="30.60" y="404.70" font-size="10.5" font-weight="bold" textLength="10.1" lengthAdjust="spacingAndGlyphs" fill="#111" stroke="#111" stroke-width="0.12">20</text>
<text x="136.20" y="459.40" font-size="11.3" textLength="79.8" lengthAdjust="spacingAndGlyphs" fill="#222" stroke="#222" stroke-width="0.12">Frequency (Hz)</text>
<text transform="translate(52.60,306.80) rotate(-90)" font-size="10.8" fill="#222" stroke="#222" stroke-width="0.12" textLength="108.2" lengthAdjust="spacingAndGlyphs">Absolute power (μV<tspan font-size="7" dy="-3.6">2</tspan><tspan dy="3.6">)</tspan></text>
<text transform="translate(504.20,288.20) rotate(-90)" font-size="10.8" fill="#222" stroke="#222" stroke-width="0.12" textLength="108.4" lengthAdjust="spacingAndGlyphs">Absolute power (μV<tspan font-size="7" dy="-3.6">2</tspan><tspan dy="3.6">)</tspan></text>
<text x="7.80" y="7.70" font-size="11.6" font-weight="bold" fill="#111" stroke="#111" stroke-width="0.12">a</text>
<text x="498.80" y="146.00" font-size="13.4" font-weight="bold" fill="#111" stroke="#111" stroke-width="0.12">b</text>
<line x1="439.30" y1="91.10" x2="449.80" y2="91.10" stroke="#111" stroke-width="1.8"/>
<text x="454.30" y="94.90" font-size="9.2" textLength="24.6" lengthAdjust="spacingAndGlyphs" fill="#222" stroke="#222" stroke-width="0.12">Buffer</text>
<line x1="439.30" y1="102.60" x2="449.80" y2="102.60" stroke="#27b22a" stroke-width="2.0"/>
<text x="454.30" y="107.90" font-size="9.2" textLength="17.0" lengthAdjust="spacingAndGlyphs" fill="#222" stroke="#222" stroke-width="0.12">K18</text>
<line x1="551.20" y1="162.30" x2="551.20" y2="305.40" stroke="#8a8a8a" stroke-width="1"/>
<line x1="548.60" y1="305.40" x2="551.20" y2="305.40" stroke="#8a8a8a" stroke-width="1"/>
<text x="543.10" y="308.50" font-size="8.7" text-anchor="end" textLength="36.0" lengthAdjust="spacingAndGlyphs" fill="#222" stroke="#222" stroke-width="0.12">0.0E+00</text>
<line x1="548.60" y1="276.84" x2="551.20" y2="276.84" stroke="#8a8a8a" stroke-width="1"/>
<text x="543.10" y="279.94" font-size="8.7" text-anchor="end" textLength="33.6" lengthAdjust="spacingAndGlyphs" fill="#222" stroke="#222" stroke-width="0.12">5.0E-03</text>
<line x1="548.60" y1="248.28" x2="551.20" y2="248.28" stroke="#8a8a8a" stroke-width="1"/>
<text x="543.10" y="251.38" font-size="8.7" text-anchor="end" textLength="33.6" lengthAdjust="spacingAndGlyphs" fill="#222" stroke="#222" stroke-width="0.12">1.0E-02</text>
<line x1="548.60" y1="219.72" x2="551.20" y2="219.72" stroke="#8a8a8a" stroke-width="1"/>
<text x="543.10" y="222.82" font-size="8.7" text-anchor="end" textLength="33.6" lengthAdjust="spacingAndGlyphs" fill="#222" stroke="#222" stroke-width="0.12">1.5E-02</text>
<line x1="548.60" y1="191.16" x2="551.20" y2="191.16" stroke="#8a8a8a" stroke-width="1"/>
<text x="543.10" y="194.26" font-size="8.7" text-anchor="end" textLength="33.6" lengthAdjust="spacingAndGlyphs" fill="#222" stroke="#222" stroke-width="0.12">2.0E-02</text>
<line x1="548.60" y1="162.60" x2="551.20" y2="162.60" stroke="#8a8a8a" stroke-width="1"/>
<text x="543.10" y="165.70" font-size="8.7" text-anchor="end" textLength="33.6" lengthAdjust="spacingAndGlyphs" fill="#222" stroke="#222" stroke-width="0.12">2.5E-02</text>
<line x1="551.20" y1="305.40" x2="685.00" y2="305.40" stroke="#8a8a8a" stroke-width="1"/>
<line x1="551.20" y1="305.40" x2="551.20" y2="308.00" stroke="#8a8a8a" stroke-width="1"/>
<line x1="564.55" y1="305.40" x2="564.55" y2="308.00" stroke="#8a8a8a" stroke-width="1"/>
<line x1="577.90" y1="305.40" x2="577.90" y2="308.00" stroke="#8a8a8a" stroke-width="1"/>
<line x1="591.25" y1="305.40" x2="591.25" y2="308.00" stroke="#8a8a8a" stroke-width="1"/>
<line x1="604.60" y1="305.40" x2="604.60" y2="308.00" stroke="#8a8a8a" stroke-width="1"/>
<line x1="617.95" y1="305.40" x2="617.95" y2="308.00" stroke="#8a8a8a" stroke-width="1"/>
<line x1="631.30" y1="305.40" x2="631.30" y2="308.00" stroke="#8a8a8a" stroke-width="1"/>
<line x1="644.65" y1="305.40" x2="644.65" y2="308.00" stroke="#8a8a8a" stroke-width="1"/>
<line x1="658.00" y1="305.40" x2="658.00" y2="308.00" stroke="#8a8a8a" stroke-width="1"/>
<line x1="671.35" y1="305.40" x2="671.35" y2="308.00" stroke="#8a8a8a" stroke-width="1"/>
<line x1="684.70" y1="305.40" x2="684.70" y2="308.00" stroke="#8a8a8a" stroke-width="1"/>
<text x="557.40" y="320.00" font-size="9.2" text-anchor="middle" textLength="5.2" lengthAdjust="spacingAndGlyphs" fill="#222" stroke="#222" stroke-width="0.12">2</text>
<text x="570.70" y="320.00" font-size="9.2" text-anchor="middle" textLength="5.2" lengthAdjust="spacingAndGlyphs" fill="#222" stroke="#222" stroke-width="0.12">4</text>
<text x="583.60" y="320.00" font-size="9.2" text-anchor="middle" textLength="5.2" lengthAdjust="spacingAndGlyphs" fill="#222" stroke="#222" stroke-width="0.12">6</text>
<text x="596.20" y="320.00" font-size="9.2" text-anchor="middle" textLength="5.2" lengthAdjust="spacingAndGlyphs" fill="#222" stroke="#222" stroke-width="0.12">8</text>
<text x="610.20" y="320.00" font-size="9.2" text-anchor="middle" textLength="10.2" lengthAdjust="spacingAndGlyphs" fill="#222" stroke="#222" stroke-width="0.12">10</text>
<text x="623.00" y="320.00" font-size="9.2" text-anchor="middle" textLength="10.2" lengthAdjust="spacingAndGlyphs" fill="#222" stroke="#222" stroke-width="0.12">12</text>
<text x="636.60" y="320.00" font-size="9.2" text-anchor="middle" textLength="10.2" lengthAdjust="spacingAndGlyphs" fill="#222" stroke="#222" stroke-width="0.12">14</text>
<text x="650.60" y="320.00" font-size="9.2" text-anchor="middle" textLength="10.2" lengthAdjust="spacingAndGlyphs" fill="#222" stroke="#222" stroke-width="0.12">16</text>
<text x="663.90" y="320.00" font-size="9.2" text-anchor="middle" textLength="10.2" lengthAdjust="spacingAndGlyphs" fill="#222" stroke="#222" stroke-width="0.12">18</text>
<text x="677.40" y="320.00" font-size="9.2" text-anchor="middle" textLength="10.2" lengthAdjust="spacingAndGlyphs" fill="#222" stroke="#222" stroke-width="0.12">20</text>
<text x="582.00" y="334.40" font-size="11.3" textLength="68.2" lengthAdjust="spacingAndGlyphs" fill="#222" stroke="#222" stroke-width="0.12">Time (weeks)</text>
<polyline points="557.40,249.90 570.70,265.90 583.60,271.50 596.20,275.30 610.20,277.30 623.00,268.00 636.60,284.90 650.60,286.40 663.90,286.40 677.40,288.40" fill="none" stroke="#2db83a" stroke-width="1.2"/>
<line x1="557.40" y1="228.40" x2="557.40" y2="265.60" stroke="#2db83a" stroke-width="1"/>
<line x1="554.80" y1="228.40" x2="560.00" y2="228.40" stroke="#2db83a" stroke-width="1"/>
<line x1="554.80" y1="265.60" x2="560.00" y2="265.60" stroke="#2db83a" stroke-width="1"/>
<circle cx="557.40" cy="249.90" r="1.5" fill="#2db83a"/>
<line x1="570.70" y1="256.90" x2="570.70" y2="275.30" stroke="#2db83a" stroke-width="1"/>
<line x1="568.10" y1="256.90" x2="573.30" y2="256.90" stroke="#2db83a" stroke-width="1"/>
<line x1="568.10" y1="275.30" x2="573.30" y2="275.30" stroke="#2db83a" stroke-width="1"/>
<circle cx="570.70" cy="265.90" r="1.5" fill="#2db83a"/>
<line x1="583.60" y1="263.60" x2="583.60" y2="279.60" stroke="#2db83a" stroke-width="1"/>
<line x1="581.00" y1="263.60" x2="586.20" y2="263.60" stroke="#2db83a" stroke-width="1"/>
<line x1="581.00" y1="279.60" x2="586.20" y2="279.60" stroke="#2db83a" stroke-width="1"/>
<circle cx="583.60" cy="271.50" r="1.5" fill="#2db83a"/>
<line x1="596.20" y1="267.40" x2="596.20" y2="283.40" stroke="#2db83a" stroke-width="1"/>
<line x1="593.60" y1="267.40" x2="598.80" y2="267.40" stroke="#2db83a" stroke-width="1"/>
<line x1="593.60" y1="283.40" x2="598.80" y2="283.40" stroke="#2db83a" stroke-width="1"/>
<circle cx="596.20" cy="275.30" r="1.5" fill="#2db83a"/>
<line x1="610.20" y1="269.40" x2="610.20" y2="285.50" stroke="#2db83a" stroke-width="1"/>
<line x1="607.60" y1="269.40" x2="612.80" y2="269.40" stroke="#2db83a" stroke-width="1"/>
<line x1="607.60" y1="285.50" x2="612.80" y2="285.50" stroke="#2db83a" stroke-width="1"/>
<circle cx="610.20" cy="277.30" r="1.5" fill="#2db83a"/>
<line x1="623.00" y1="257.70" x2="623.00" y2="280.20" stroke="#2db83a" stroke-width="1"/>
<line x1="620.40" y1="257.70" x2="625.60" y2="257.70" stroke="#2db83a" stroke-width="1"/>
<line x1="620.40" y1="280.20" x2="625.60" y2="280.20" stroke="#2db83a" stroke-width="1"/>
<circle cx="623.00" cy="268.00" r="1.5" fill="#2db83a"/>
<line x1="636.60" y1="279.60" x2="636.60" y2="290.70" stroke="#2db83a" stroke-width="1"/>
<line x1="634.00" y1="279.60" x2="639.20" y2="279.60" stroke="#2db83a" stroke-width="1"/>
<line x1="634.00" y1="290.70" x2="639.20" y2="290.70" stroke="#2db83a" stroke-width="1"/>
<circle cx="636.60" cy="284.90" r="1.5" fill="#2db83a"/>
<line x1="650.60" y1="281.70" x2="650.60" y2="291.90" stroke="#2db83a" stroke-width="1"/>
<line x1="648.00" y1="281.70" x2="653.20" y2="281.70" stroke="#2db83a" stroke-width="1"/>
<line x1="648.00" y1="291.90" x2="653.20" y2="291.90" stroke="#2db83a" stroke-width="1"/>
<circle cx="650.60" cy="286.40" r="1.5" fill="#2db83a"/>
<line x1="663.90" y1="282.60" x2="663.90" y2="291.30" stroke="#2db83a" stroke-width="1"/>
<line x1="661.30" y1="282.60" x2="666.50" y2="282.60" stroke="#2db83a" stroke-width="1"/>
<line x1="661.30" y1="291.30" x2="666.50" y2="291.30" stroke="#2db83a" stroke-width="1"/>
<circle cx="663.90" cy="286.40" r="1.5" fill="#2db83a"/>
<line x1="677.40" y1="284.60" x2="677.40" y2="291.90" stroke="#2db83a" stroke-width="1"/>
<line x1="674.80" y1="284.60" x2="680.00" y2="284.60" stroke="#2db83a" stroke-width="1"/>
<line x1="674.80" y1="291.90" x2="680.00" y2="291.90" stroke="#2db83a" stroke-width="1"/>
<circle cx="677.40" cy="288.40" r="1.5" fill="#2db83a"/>
<polyline points="557.40,239.50 570.70,233.00 583.60,233.60 596.20,227.20 610.20,222.60 623.00,213.20 636.60,230.70 650.60,237.20 663.90,232.20 677.40,227.20" fill="none" stroke="#111" stroke-width="1.2"/>
<line x1="557.40" y1="229.30" x2="557.40" y2="249.70" stroke="#111" stroke-width="1"/>
<line x1="554.80" y1="229.30" x2="560.00" y2="229.30" stroke="#111" stroke-width="1"/>
<line x1="554.80" y1="249.70" x2="560.00" y2="249.70" stroke="#111" stroke-width="1"/>
<circle cx="557.40" cy="239.50" r="1.5" fill="#111"/>
<line x1="570.70" y1="222.80" x2="570.70" y2="244.60" stroke="#111" stroke-width="1"/>
<line x1="568.10" y1="222.80" x2="573.30" y2="222.80" stroke="#111" stroke-width="1"/>
<line x1="568.10" y1="244.60" x2="573.30" y2="244.60" stroke="#111" stroke-width="1"/>
<circle cx="570.70" cy="233.00" r="1.5" fill="#111"/>
<line x1="583.60" y1="222.80" x2="583.60" y2="245.50" stroke="#111" stroke-width="1"/>
<line x1="581.00" y1="222.80" x2="586.20" y2="222.80" stroke="#111" stroke-width="1"/>
<line x1="581.00" y1="245.50" x2="586.20" y2="245.50" stroke="#111" stroke-width="1"/>
<circle cx="583.60" cy="233.60" r="1.5" fill="#111"/>
<line x1="596.20" y1="213.80" x2="596.20" y2="240.20" stroke="#111" stroke-width="1"/>
<line x1="593.60" y1="213.80" x2="598.80" y2="213.80" stroke="#111" stroke-width="1"/>
<line x1="593.60" y1="240.20" x2="598.80" y2="240.20" stroke="#111" stroke-width="1"/>
<circle cx="596.20" cy="227.20" r="1.5" fill="#111"/>
<line x1="610.20" y1="207.40" x2="610.20" y2="237.90" stroke="#111" stroke-width="1"/>
<line x1="607.60" y1="207.40" x2="612.80" y2="207.40" stroke="#111" stroke-width="1"/>
<line x1="607.60" y1="237.90" x2="612.80" y2="237.90" stroke="#111" stroke-width="1"/>
<circle cx="610.20" cy="222.60" r="1.5" fill="#111"/>
<line x1="623.00" y1="192.20" x2="623.00" y2="234.40" stroke="#111" stroke-width="1"/>
<line x1="620.40" y1="192.20" x2="625.60" y2="192.20" stroke="#111" stroke-width="1"/>
<line x1="620.40" y1="234.40" x2="625.60" y2="234.40" stroke="#111" stroke-width="1"/>
<circle cx="623.00" cy="213.20" r="1.5" fill="#111"/>
<line x1="636.60" y1="213.80" x2="636.60" y2="249.00" stroke="#111" stroke-width="1"/>
<line x1="634.00" y1="213.80" x2="639.20" y2="213.80" stroke="#111" stroke-width="1"/>
<line x1="634.00" y1="249.00" x2="639.20" y2="249.00" stroke="#111" stroke-width="1"/>
<circle cx="636.60" cy="230.70" r="1.5" fill="#111"/>
<line x1="650.60" y1="219.60" x2="650.60" y2="254.20" stroke="#111" stroke-width="1"/>
<line x1="648.00" y1="219.60" x2="653.20" y2="219.60" stroke="#111" stroke-width="1"/>
<line x1="648.00" y1="254.20" x2="653.20" y2="254.20" stroke="#111" stroke-width="1"/>
<circle cx="650.60" cy="237.20" r="1.5" fill="#111"/>
<line x1="663.90" y1="215.50" x2="663.90" y2="249.60" stroke="#111" stroke-width="1"/>
<line x1="661.30" y1="215.50" x2="666.50" y2="215.50" stroke="#111" stroke-width="1"/>
<line x1="661.30" y1="249.60" x2="666.50" y2="249.60" stroke="#111" stroke-width="1"/>
<circle cx="663.90" cy="232.20" r="1.5" fill="#111"/>
<line x1="677.40" y1="208.00" x2="677.40" y2="247.00" stroke="#111" stroke-width="1"/>
<line x1="674.80" y1="208.00" x2="680.00" y2="208.00" stroke="#111" stroke-width="1"/>
<line x1="674.80" y1="247.00" x2="680.00" y2="247.00" stroke="#111" stroke-width="1"/>
<circle cx="677.40" cy="227.20" r="1.5" fill="#111"/>
<line x1="579.90" y1="182.40" x2="680.90" y2="182.40" stroke="#111" stroke-width="1.7"/>
<line x1="637.10" y1="157.70" x2="646.10" y2="157.70" stroke="#111" stroke-width="1.7"/>
<text x="650.80" y="161.80" font-size="9" textLength="25.2" lengthAdjust="spacingAndGlyphs" fill="#222" stroke="#222" stroke-width="0.12">Buffer</text>
<line x1="637.10" y1="168.90" x2="646.10" y2="168.90" stroke="#27b22a" stroke-width="1.9"/>
<text x="651.50" y="173.80" font-size="9" textLength="16.8" lengthAdjust="spacingAndGlyphs" fill="#222" stroke="#222" stroke-width="0.12">K18</text>
<line x1="327.00" y1="410.60" x2="497.10" y2="152.00" stroke="#9c9c9c" stroke-width="1.0" stroke-dasharray="3,2.2"/>
<line x1="333.00" y1="423.60" x2="497.20" y2="346.00" stroke="#9c9c9c" stroke-width="1.0" stroke-dasharray="3,2.2"/>
<line x1="178.60" y1="79.90" x2="193.00" y2="73.70" stroke="#959595" stroke-width="0.85"/>
<line x1="356.50" y1="75.20" x2="370.90" y2="80.90" stroke="#959595" stroke-width="0.85"/>
</svg></body></html>
